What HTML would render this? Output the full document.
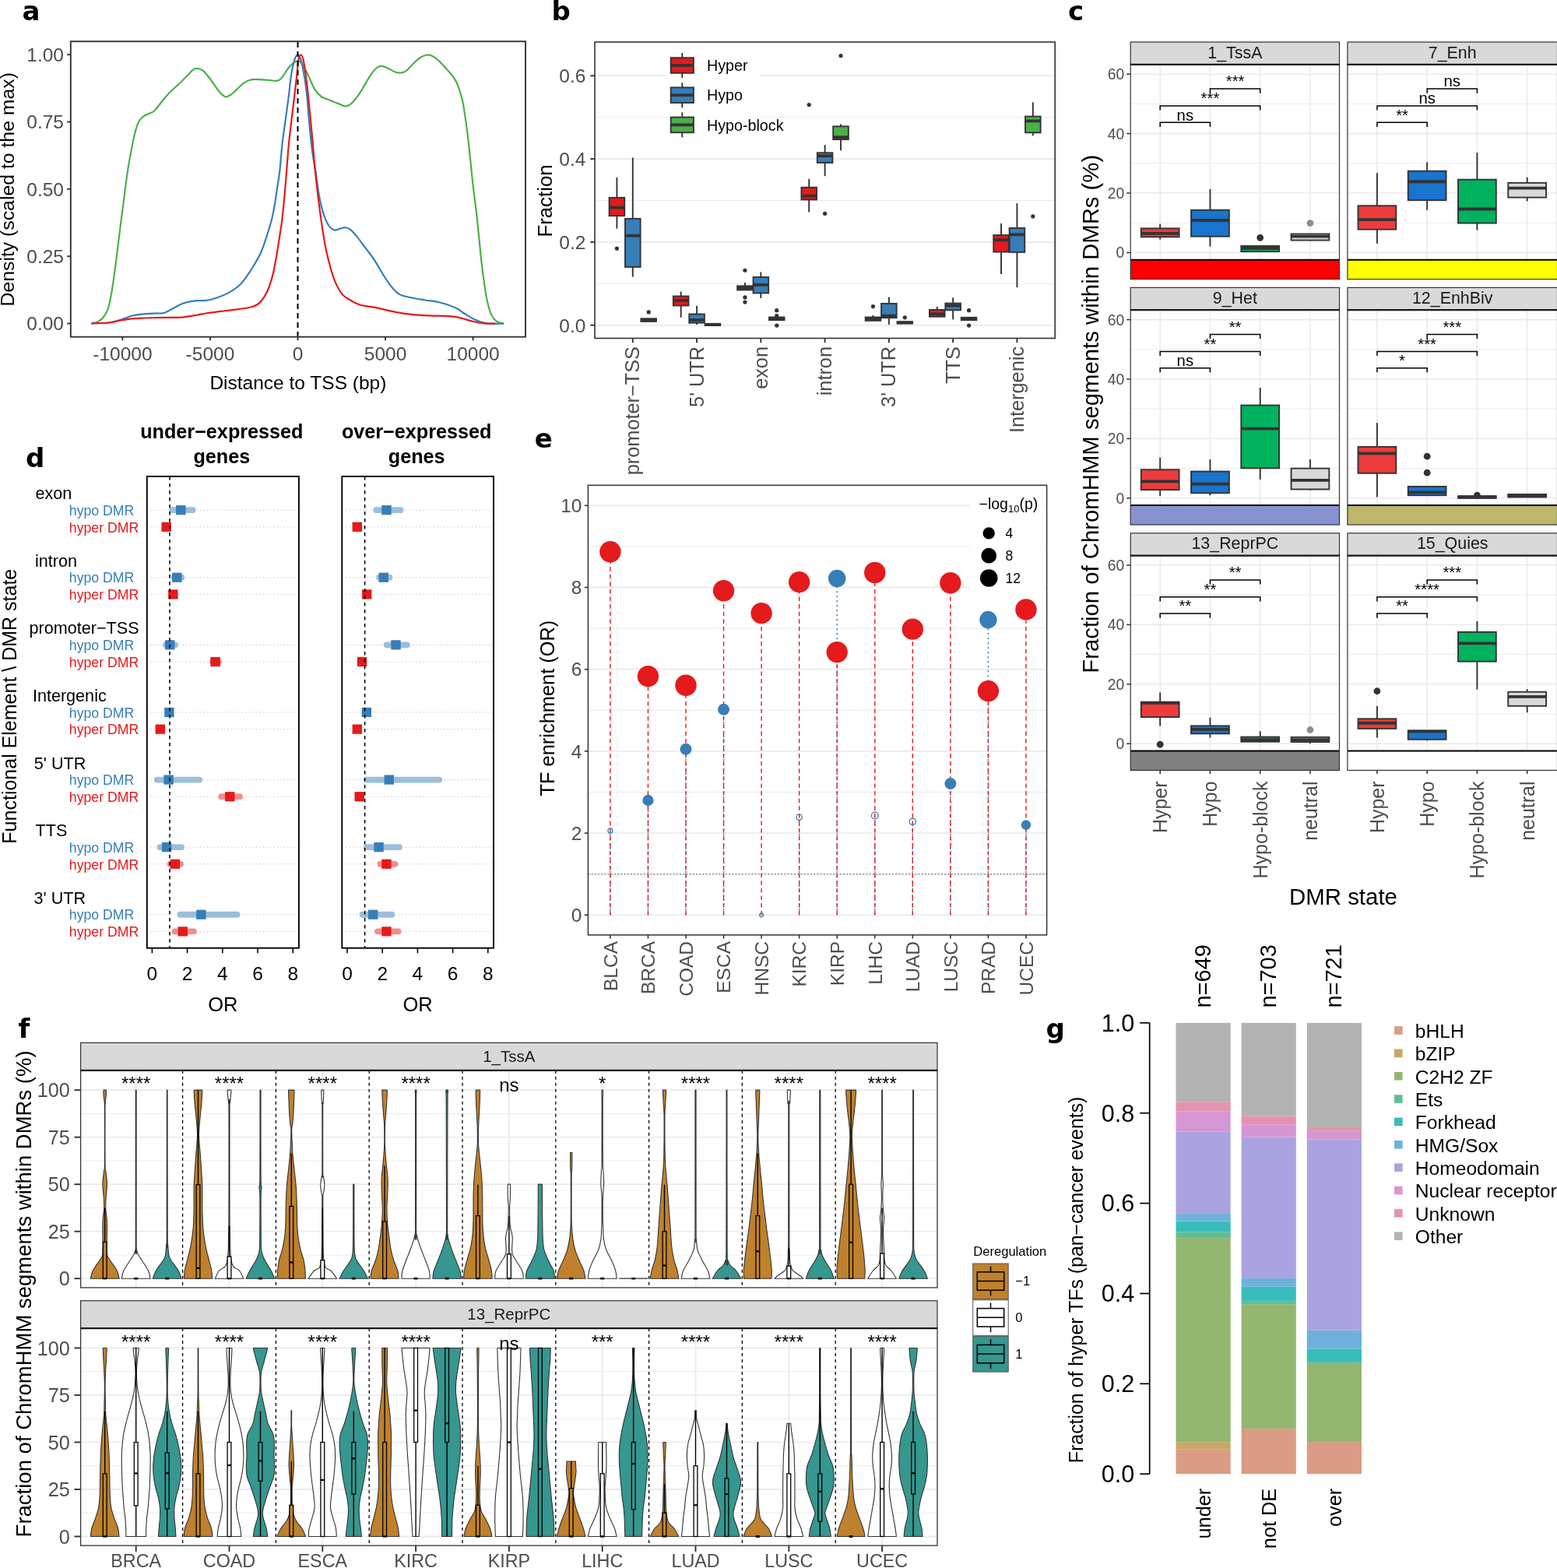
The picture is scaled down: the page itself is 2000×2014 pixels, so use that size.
<!DOCTYPE html>
<html><head><meta charset="utf-8"><title>Figure</title>
<style>html,body{margin:0;padding:0;background:#fff;width:2000px;height:2014px;overflow:hidden}svg{display:block}text{font-family:'Liberation Sans', Arial, Helvetica, sans-serif}</style>
</head><body>
<svg xmlns="http://www.w3.org/2000/svg" width="2000" height="2014" viewBox="0 0 2000 2014">
<rect width="2000" height="2014" fill="#fff"/>
<g fill="none" stroke-width="2.2" stroke-linejoin="round">
<path d="M117.5,415.3 C118.75,415.05 122.5,415.05 125,413.8 C127.5,412.55 130.25,410.55 132.5,407.8 C134.75,405.05 136.75,402.32 138.5,397.3 C140.25,392.28 141.5,385.97 143,377.7 C144.5,369.43 146.12,357.7 147.5,347.7 C148.88,337.7 150.05,327.7 151.3,317.7 C152.55,307.7 153.88,296.47 155,287.7 C156.12,278.93 156.87,273.87 158,265.1 C159.13,256.33 160.53,244.35 161.8,235.1 C163.07,225.85 164.22,217.85 165.6,209.6 C166.98,201.35 168.6,192.87 170.1,185.6 C171.6,178.33 173.1,171.13 174.6,166 C176.1,160.87 177.35,157.67 179.1,154.8 C180.85,151.93 182.98,150.3 185.1,148.8 C187.22,147.3 189.55,146.93 191.8,145.8 C194.05,144.67 195.48,145.1 198.6,142 C201.72,138.9 207.12,131.23 210.5,127.2 C213.88,123.17 215.77,120.93 218.9,117.8 C222.03,114.67 225.83,111.7 229.3,108.4 C232.77,105.1 236.58,101.13 239.7,98 C242.82,94.87 245.73,91.27 248,89.6 C250.27,87.93 251.2,87.82 253.3,88 C255.4,88.18 258,88.7 260.6,90.7 C263.2,92.7 265.78,96.02 268.9,100 C272.02,103.98 276.52,110.95 279.3,114.6 C282.08,118.25 283.68,120.27 285.6,121.9 C287.52,123.53 289.07,124.4 290.8,124.4 C292.53,124.4 294.47,122.83 296,121.9 C297.53,120.97 297.08,121.4 300,118.8 C302.92,116.2 309.5,109.08 313.5,106.3 C317.5,103.52 319.3,102.72 324,102.1 C328.7,101.48 336.32,102.33 341.7,102.6 C347.08,102.87 352.83,104.3 356.3,103.7 C359.77,103.1 359.72,102.22 362.5,99 C365.28,95.78 369.52,87.88 373,84.4 C376.48,80.92 380.45,77.75 383.4,78.1 C386.35,78.45 388.45,83.02 390.7,86.5 C392.95,89.98 394.65,94.32 396.9,99 C399.15,103.68 401.58,110.43 404.2,114.6 C406.82,118.77 409.12,121.57 412.6,124 C416.08,126.43 421.28,127.63 425.1,129.2 C428.92,130.77 432.3,132.18 435.5,133.4 C438.7,134.62 441.52,136.68 444.3,136.5 C447.08,136.32 449.15,135.25 452.2,132.3 C455.25,129.35 458.78,124.53 462.6,118.8 C466.42,113.07 471.63,103.12 475.1,97.9 C478.57,92.68 480.8,89.67 483.4,87.5 C486,85.33 487.93,84.72 490.7,84.9 C493.47,85.08 497.27,87.37 500,88.6 C502.73,89.83 504.75,91.45 507.1,92.3 C509.45,93.15 511.75,93.85 514.1,93.7 C516.45,93.55 518.53,93.27 521.2,91.4 C523.87,89.53 527.13,85.32 530.1,82.5 C533.07,79.68 535.9,76.5 539,74.5 C542.1,72.5 545.75,70.78 548.7,70.5 C551.65,70.22 553.9,71.23 556.7,72.8 C559.5,74.37 562.55,77.1 565.5,79.9 C568.45,82.7 571.45,86.22 574.4,89.6 C577.35,92.98 580.83,96.65 583.2,100.2 C585.57,103.75 586.82,106.17 588.6,110.9 C590.38,115.63 592.28,121.22 593.9,128.6 C595.52,135.98 596.83,144.87 598.3,155.2 C599.77,165.53 601.22,177.32 602.7,190.6 C604.18,203.88 605.72,221.67 607.2,234.9 C608.68,248.13 610.28,258.62 611.6,270 C612.92,281.38 613.92,291.77 615.1,303.2 C616.28,314.63 617.52,328.27 618.7,338.6 C619.88,348.93 621.02,357.23 622.2,365.2 C623.38,373.17 624.32,379.92 625.8,386.4 C627.28,392.88 629.03,399.67 631.1,404.1 C633.17,408.53 635.48,411.07 638.2,413 C640.92,414.93 645.87,415.25 647.4,415.7" stroke="#4DAF4A"/>
<path d="M117.5,415.3 C121.25,415.17 133.75,415.25 140,414.5 C146.25,413.75 149.98,412.3 155,410.8 C160.02,409.3 165.08,406.75 170.1,405.5 C175.12,404.25 180.1,403.8 185.1,403.3 C190.1,402.8 195.87,402.72 200.1,402.5 C204.33,402.28 207.02,402.95 210.5,402 C213.98,401.05 216.83,398.88 221,396.8 C225.17,394.72 230.65,391.25 235.5,389.5 C240.35,387.75 245.23,386.9 250.1,386.3 C254.97,385.7 259.83,386.58 264.7,385.9 C269.57,385.22 274.43,383.87 279.3,382.2 C284.17,380.53 289.03,378.68 293.9,375.9 C298.77,373.12 304.15,369.75 308.5,365.5 C312.85,361.25 316.88,354.82 320,350.4 C323.12,345.98 324.62,343.48 327.2,339 C329.78,334.52 332.9,329.53 335.5,323.5 C338.1,317.47 340.55,309.7 342.8,302.8 C345.05,295.9 347.28,289 349,282.1 C350.72,275.2 351.9,268.3 353.1,261.4 C354.3,254.5 355.17,247.6 356.2,240.7 C357.23,233.8 358.25,229.2 359.3,220 C360.35,210.8 361.27,196.47 362.5,185.5 C363.73,174.53 365.3,164.62 366.7,154.2 C368.1,143.78 369.68,132.55 370.9,123 C372.12,113.45 372.78,104.55 374,96.9 C375.22,89.25 376.82,81.53 378.2,77.1 C379.58,72.67 380.92,70.3 382.3,70.3 C383.68,70.3 385.1,72.67 386.5,77.1 C387.9,81.53 389.4,89.25 390.7,96.9 C392,104.55 393.27,113.45 394.3,123 C395.33,132.55 395.95,143.78 396.9,154.2 C397.85,164.62 399.05,177.2 400,185.5 C400.95,193.8 401.7,198.25 402.6,204 C403.5,209.75 404.33,213.02 405.4,220 C406.47,226.98 407.7,238.13 409,245.9 C410.3,253.67 411.65,260.57 413.2,266.6 C414.75,272.63 416.58,277.97 418.3,282.1 C420.02,286.23 421.6,289.15 423.5,291.4 C425.4,293.65 427.58,295.18 429.7,295.6 C431.82,296.02 434.48,294.37 436.2,293.9 C437.92,293.43 438.82,293.08 440,292.8 C441.18,292.52 441.57,291.8 443.3,292.2 C445.03,292.6 447.75,293.08 450.4,295.2 C453.05,297.32 455.95,300.92 459.2,304.9 C462.45,308.88 466.35,314.37 469.9,319.1 C473.45,323.83 476.97,327.98 480.5,333.3 C484.03,338.62 487.57,345.4 491.1,351 C494.63,356.6 498.15,362.47 501.7,366.9 C505.25,371.33 508.27,375.08 512.4,377.6 C516.53,380.12 520.9,380.68 526.5,382 C532.1,383.32 539.78,384.47 546,385.5 C552.22,386.53 557.3,386.57 563.8,388.2 C570.3,389.83 579.4,392.78 585,395.3 C590.6,397.82 593.57,400.93 597.4,403.3 C601.23,405.67 604.45,407.73 608,409.5 C611.55,411.27 615.15,412.87 618.7,413.9 C622.25,414.93 624.58,415.4 629.3,415.7 C634.02,416 644.05,415.7 647,415.7" stroke="#377EB8"/>
<path d="M117.5,415.3 C121.25,415.17 133.75,415.13 140,414.5 C146.25,413.87 149.98,412.37 155,411.5 C160.02,410.63 165.08,409.8 170.1,409.3 C175.12,408.8 178.72,408.73 185.1,408.5 C191.48,408.27 200.33,408.05 208.4,407.9 C216.47,407.75 226.55,408.07 233.5,407.6 C240.45,407.13 244.55,406.03 250.1,405.1 C255.65,404.17 261.23,402.87 266.8,402 C272.37,401.13 277.93,400.6 283.5,399.9 C289.07,399.2 294.12,398.62 300.2,397.8 C306.28,396.98 314.63,396.33 320,395 C325.37,393.67 328.6,393.08 332.4,389.8 C336.2,386.52 339.87,381.17 342.8,375.3 C345.73,369.43 347.93,362.37 350,354.6 C352.07,346.83 353.65,337.33 355.2,328.7 C356.75,320.07 358.1,310.57 359.3,302.8 C360.5,295.03 361.37,290.72 362.4,282.1 C363.43,273.48 364.55,261.45 365.5,251.1 C366.45,240.75 367.2,230.93 368.1,220 C369,209.07 369.83,196.47 370.9,185.5 C371.97,174.53 373.28,164.62 374.5,154.2 C375.72,143.78 377.07,132.55 378.2,123 C379.33,113.45 380.43,104.55 381.3,96.9 C382.17,89.25 382.53,81.53 383.4,77.1 C384.27,72.67 385.47,70.3 386.5,70.3 C387.53,70.3 388.55,72.67 389.6,77.1 C390.65,81.53 391.75,89.25 392.8,96.9 C393.85,104.55 394.87,113.45 395.9,123 C396.93,132.55 397.97,143.37 399,154.2 C400.03,165.03 401.12,177.03 402.1,188 C403.08,198.97 403.75,208.63 404.9,220 C406.05,231.37 407.62,244.98 409,256.2 C410.38,267.42 411.65,276.95 413.2,287.3 C414.75,297.65 416.4,308.82 418.3,318.3 C420.2,327.78 422.35,336.43 424.6,344.2 C426.85,351.97 429.23,359.2 431.8,364.9 C434.37,370.6 437.2,375.1 440,378.4 C442.8,381.7 444.8,382.48 448.6,384.7 C452.4,386.92 456.9,389.93 462.8,391.7 C468.7,393.47 476.62,393.82 484,395.3 C491.38,396.78 499.72,399.18 507.1,400.6 C514.48,402.02 520.92,403 528.3,403.8 C535.68,404.6 544.02,405.05 551.4,405.4 C558.78,405.75 566.4,405.52 572.6,405.9 C578.8,406.28 582.7,406.52 588.6,407.7 C594.5,408.88 602.4,411.73 608,413 C613.6,414.27 617.47,414.85 622.2,415.3 C626.93,415.75 634.03,415.63 636.4,415.7" stroke="#E41A1C"/>
</g>
<line x1="382.5" y1="54" x2="382.5" y2="432" stroke="#000" stroke-width="2" stroke-dasharray="7,5"/>
<rect x="90.8" y="53.2" width="584.2" height="379.5" fill="none" stroke="#333" stroke-width="1.9"/>
<line x1="86.2" y1="415.5" x2="90.8" y2="415.5" stroke="#333" stroke-width="1.9"/>
<text x="82" y="424.3" font-size="24.5" fill="#4D4D4D" text-anchor="end">0.00</text>
<line x1="86.2" y1="329.18" x2="90.8" y2="329.18" stroke="#333" stroke-width="1.9"/>
<text x="82" y="337.98" font-size="24.5" fill="#4D4D4D" text-anchor="end">0.25</text>
<line x1="86.2" y1="242.85" x2="90.8" y2="242.85" stroke="#333" stroke-width="1.9"/>
<text x="82" y="251.65" font-size="24.5" fill="#4D4D4D" text-anchor="end">0.50</text>
<line x1="86.2" y1="156.52" x2="90.8" y2="156.52" stroke="#333" stroke-width="1.9"/>
<text x="82" y="165.32" font-size="24.5" fill="#4D4D4D" text-anchor="end">0.75</text>
<line x1="86.2" y1="70.2" x2="90.8" y2="70.2" stroke="#333" stroke-width="1.9"/>
<text x="82" y="79" font-size="24.5" fill="#4D4D4D" text-anchor="end">1.00</text>
<line x1="157.4" y1="432.7" x2="157.4" y2="437.3" stroke="#333" stroke-width="1.9"/>
<text x="157.4" y="462.5" font-size="24.5" fill="#4D4D4D" text-anchor="middle">-10000</text>
<line x1="269.95" y1="432.7" x2="269.95" y2="437.3" stroke="#333" stroke-width="1.9"/>
<text x="269.95" y="462.5" font-size="24.5" fill="#4D4D4D" text-anchor="middle">-5000</text>
<line x1="382.5" y1="432.7" x2="382.5" y2="437.3" stroke="#333" stroke-width="1.9"/>
<text x="382.5" y="462.5" font-size="24.5" fill="#4D4D4D" text-anchor="middle">0</text>
<line x1="495.05" y1="432.7" x2="495.05" y2="437.3" stroke="#333" stroke-width="1.9"/>
<text x="495.05" y="462.5" font-size="24.5" fill="#4D4D4D" text-anchor="middle">5000</text>
<line x1="607.6" y1="432.7" x2="607.6" y2="437.3" stroke="#333" stroke-width="1.9"/>
<text x="607.6" y="462.5" font-size="24.5" fill="#4D4D4D" text-anchor="middle">10000</text>
<text x="382.9" y="500" font-size="24.5" fill="#000" text-anchor="middle">Distance to TSS (bp)</text>
<text x="17.9" y="243.3" font-size="24.8" fill="#000" text-anchor="middle" transform="rotate(-90 17.9 243.3)">Density (scaled to the max)</text>
<text x="28.5" y="25.5" font-size="34" font-weight="bold" fill="#000" style="font-family:'DejaVu Sans',sans-serif">a</text>
<line x1="764" y1="364.3" x2="1355.2" y2="364.3" stroke="#EBEBEB" stroke-width="1"/>
<line x1="764" y1="257.5" x2="1355.2" y2="257.5" stroke="#EBEBEB" stroke-width="1"/>
<line x1="764" y1="150.7" x2="1355.2" y2="150.7" stroke="#EBEBEB" stroke-width="1"/>
<line x1="764" y1="417.7" x2="1355.2" y2="417.7" stroke="#EBEBEB" stroke-width="2"/>
<line x1="764" y1="310.9" x2="1355.2" y2="310.9" stroke="#EBEBEB" stroke-width="2"/>
<line x1="764" y1="204.1" x2="1355.2" y2="204.1" stroke="#EBEBEB" stroke-width="2"/>
<line x1="764" y1="97.3" x2="1355.2" y2="97.3" stroke="#EBEBEB" stroke-width="2"/>
<line x1="792.4" y1="227.99" x2="792.4" y2="253.88" stroke="#333333" stroke-width="1.9"/>
<line x1="792.4" y1="277.23" x2="792.4" y2="293.65" stroke="#333333" stroke-width="1.9"/>
<rect x="782.6" y="253.88" width="19.6" height="23.35" fill="#E41A1C" stroke="#333333" stroke-width="1.9"/>
<line x1="782.6" y1="266.65" x2="802.2" y2="266.65" stroke="#333333" stroke-width="3.8"/>
<circle cx="792.4" cy="319.18" r="2.6" fill="#333333" stroke="none" stroke-width="1"/>
<line x1="812.8" y1="202.45" x2="812.8" y2="280.88" stroke="#333333" stroke-width="1.9"/>
<line x1="812.8" y1="342.89" x2="812.8" y2="355.66" stroke="#333333" stroke-width="1.9"/>
<rect x="803" y="280.88" width="19.6" height="62.01" fill="#377EB8" stroke="#333333" stroke-width="1.9"/>
<line x1="803" y1="302.77" x2="822.6" y2="302.77" stroke="#333333" stroke-width="3.8"/>
<line x1="833.2" y1="409.28" x2="833.2" y2="409.28" stroke="#333333" stroke-width="1.9"/>
<line x1="833.2" y1="412.93" x2="833.2" y2="412.93" stroke="#333333" stroke-width="1.9"/>
<rect x="823.4" y="409.28" width="19.6" height="3.65" fill="#4DAF4A" stroke="#333333" stroke-width="1.9"/>
<line x1="823.4" y1="411.1" x2="843" y2="411.1" stroke="#333333" stroke-width="3.8"/>
<circle cx="833.2" cy="400.89" r="2.6" fill="#333333" stroke="none" stroke-width="1"/>
<line x1="874.67" y1="374.63" x2="874.67" y2="380.46" stroke="#333333" stroke-width="1.9"/>
<line x1="874.67" y1="392.5" x2="874.67" y2="407.82" stroke="#333333" stroke-width="1.9"/>
<rect x="864.87" y="380.46" width="19.6" height="12.04" fill="#E41A1C" stroke="#333333" stroke-width="1.9"/>
<line x1="864.87" y1="385.93" x2="884.47" y2="385.93" stroke="#333333" stroke-width="3.8"/>
<line x1="895.07" y1="392.86" x2="895.07" y2="403.44" stroke="#333333" stroke-width="1.9"/>
<line x1="895.07" y1="414.68" x2="895.07" y2="416.94" stroke="#333333" stroke-width="1.9"/>
<rect x="885.27" y="403.44" width="19.6" height="11.24" fill="#377EB8" stroke="#333333" stroke-width="1.9"/>
<line x1="885.27" y1="410.99" x2="904.87" y2="410.99" stroke="#333333" stroke-width="3.8"/>
<line x1="915.47" y1="415.85" x2="915.47" y2="415.85" stroke="#333333" stroke-width="1.9"/>
<line x1="915.47" y1="418.03" x2="915.47" y2="418.03" stroke="#333333" stroke-width="1.9"/>
<rect x="905.67" y="415.85" width="19.6" height="2.19" fill="#4DAF4A" stroke="#333333" stroke-width="1.9"/>
<line x1="905.67" y1="416.94" x2="925.27" y2="416.94" stroke="#333333" stroke-width="3.8"/>
<line x1="956.94" y1="362.95" x2="956.94" y2="367.33" stroke="#333333" stroke-width="1.9"/>
<line x1="956.94" y1="372.44" x2="956.94" y2="372.44" stroke="#333333" stroke-width="1.9"/>
<rect x="947.14" y="367.33" width="19.6" height="5.11" fill="#E41A1C" stroke="#333333" stroke-width="1.9"/>
<line x1="947.14" y1="369.88" x2="966.74" y2="369.88" stroke="#333333" stroke-width="3.8"/>
<circle cx="956.94" cy="347.27" r="2.6" fill="#333333" stroke="none" stroke-width="1"/>
<circle cx="956.94" cy="381.92" r="2.6" fill="#333333" stroke="none" stroke-width="1"/>
<circle cx="956.94" cy="388.12" r="2.6" fill="#333333" stroke="none" stroke-width="1"/>
<line x1="977.34" y1="349.46" x2="977.34" y2="356.02" stroke="#333333" stroke-width="1.9"/>
<line x1="977.34" y1="376.45" x2="977.34" y2="383.02" stroke="#333333" stroke-width="1.9"/>
<rect x="967.54" y="356.02" width="19.6" height="20.43" fill="#377EB8" stroke="#333333" stroke-width="1.9"/>
<line x1="967.54" y1="365.87" x2="987.14" y2="365.87" stroke="#333333" stroke-width="3.8"/>
<line x1="997.74" y1="404.17" x2="997.74" y2="407.46" stroke="#333333" stroke-width="1.9"/>
<line x1="997.74" y1="411.1" x2="997.74" y2="411.1" stroke="#333333" stroke-width="1.9"/>
<rect x="987.94" y="407.46" width="19.6" height="3.65" fill="#4DAF4A" stroke="#333333" stroke-width="1.9"/>
<line x1="987.94" y1="409.28" x2="1007.54" y2="409.28" stroke="#333333" stroke-width="3.8"/>
<circle cx="997.74" cy="398.7" r="2.6" fill="#333333" stroke="none" stroke-width="1"/>
<circle cx="997.74" cy="405.63" r="2.6" fill="#333333" stroke="none" stroke-width="1"/>
<circle cx="997.74" cy="418.03" r="2.6" fill="#333333" stroke="none" stroke-width="1"/>
<line x1="1039.21" y1="229.81" x2="1039.21" y2="240.75" stroke="#333333" stroke-width="1.9"/>
<line x1="1039.21" y1="256.44" x2="1039.21" y2="272.49" stroke="#333333" stroke-width="1.9"/>
<rect x="1029.41" y="240.75" width="19.6" height="15.69" fill="#E41A1C" stroke="#333333" stroke-width="1.9"/>
<line x1="1029.41" y1="251.7" x2="1049.01" y2="251.7" stroke="#333333" stroke-width="3.8"/>
<circle cx="1039.21" cy="134.6" r="2.6" fill="#333333" stroke="none" stroke-width="1"/>
<line x1="1059.61" y1="186.04" x2="1059.61" y2="196.25" stroke="#333333" stroke-width="1.9"/>
<line x1="1059.61" y1="209.02" x2="1059.61" y2="226.16" stroke="#333333" stroke-width="1.9"/>
<rect x="1049.81" y="196.25" width="19.6" height="12.77" fill="#377EB8" stroke="#333333" stroke-width="1.9"/>
<line x1="1049.81" y1="200.26" x2="1069.41" y2="200.26" stroke="#333333" stroke-width="3.8"/>
<circle cx="1059.61" cy="274.31" r="2.6" fill="#333333" stroke="none" stroke-width="1"/>
<line x1="1080.01" y1="159.41" x2="1080.01" y2="162.33" stroke="#333333" stroke-width="1.9"/>
<line x1="1080.01" y1="179.11" x2="1080.01" y2="193.33" stroke="#333333" stroke-width="1.9"/>
<rect x="1070.21" y="162.33" width="19.6" height="16.78" fill="#4DAF4A" stroke="#333333" stroke-width="1.9"/>
<line x1="1070.21" y1="176.19" x2="1089.81" y2="176.19" stroke="#333333" stroke-width="3.8"/>
<circle cx="1080.01" cy="71.5" r="2.6" fill="#333333" stroke="none" stroke-width="1"/>
<line x1="1121.48" y1="404.9" x2="1121.48" y2="407.46" stroke="#333333" stroke-width="1.9"/>
<line x1="1121.48" y1="411.83" x2="1121.48" y2="411.83" stroke="#333333" stroke-width="1.9"/>
<rect x="1111.68" y="407.46" width="19.6" height="4.38" fill="#E41A1C" stroke="#333333" stroke-width="1.9"/>
<line x1="1111.68" y1="409.28" x2="1131.28" y2="409.28" stroke="#333333" stroke-width="3.8"/>
<circle cx="1121.48" cy="393.59" r="2.6" fill="#333333" stroke="none" stroke-width="1"/>
<line x1="1141.88" y1="381.56" x2="1141.88" y2="389.95" stroke="#333333" stroke-width="1.9"/>
<line x1="1141.88" y1="408.19" x2="1141.88" y2="416.94" stroke="#333333" stroke-width="1.9"/>
<rect x="1132.08" y="389.95" width="19.6" height="18.24" fill="#377EB8" stroke="#333333" stroke-width="1.9"/>
<line x1="1132.08" y1="405.63" x2="1151.68" y2="405.63" stroke="#333333" stroke-width="3.8"/>
<line x1="1162.28" y1="412.93" x2="1162.28" y2="413.29" stroke="#333333" stroke-width="1.9"/>
<line x1="1162.28" y1="415.48" x2="1162.28" y2="415.48" stroke="#333333" stroke-width="1.9"/>
<rect x="1152.48" y="413.29" width="19.6" height="2.19" fill="#4DAF4A" stroke="#333333" stroke-width="1.9"/>
<line x1="1152.48" y1="414.39" x2="1172.08" y2="414.39" stroke="#333333" stroke-width="3.8"/>
<circle cx="1162.28" cy="407.82" r="2.6" fill="#333333" stroke="none" stroke-width="1"/>
<line x1="1203.75" y1="393.96" x2="1203.75" y2="397.97" stroke="#333333" stroke-width="1.9"/>
<line x1="1203.75" y1="406.73" x2="1203.75" y2="406.73" stroke="#333333" stroke-width="1.9"/>
<rect x="1193.95" y="397.97" width="19.6" height="8.75" fill="#E41A1C" stroke="#333333" stroke-width="1.9"/>
<line x1="1193.95" y1="403.44" x2="1213.55" y2="403.44" stroke="#333333" stroke-width="3.8"/>
<line x1="1224.15" y1="382.29" x2="1224.15" y2="389.58" stroke="#333333" stroke-width="1.9"/>
<line x1="1224.15" y1="398.34" x2="1224.15" y2="410.37" stroke="#333333" stroke-width="1.9"/>
<rect x="1214.35" y="389.58" width="19.6" height="8.75" fill="#377EB8" stroke="#333333" stroke-width="1.9"/>
<line x1="1214.35" y1="392.5" x2="1233.95" y2="392.5" stroke="#333333" stroke-width="3.8"/>
<line x1="1244.55" y1="407.82" x2="1244.55" y2="407.82" stroke="#333333" stroke-width="1.9"/>
<line x1="1244.55" y1="411.1" x2="1244.55" y2="411.1" stroke="#333333" stroke-width="1.9"/>
<rect x="1234.75" y="407.82" width="19.6" height="3.28" fill="#4DAF4A" stroke="#333333" stroke-width="1.9"/>
<line x1="1234.75" y1="409.28" x2="1254.35" y2="409.28" stroke="#333333" stroke-width="3.8"/>
<circle cx="1244.55" cy="398.7" r="2.6" fill="#333333" stroke="none" stroke-width="1"/>
<circle cx="1244.55" cy="418.03" r="2.6" fill="#333333" stroke="none" stroke-width="1"/>
<line x1="1286.02" y1="287.08" x2="1286.02" y2="302.04" stroke="#333333" stroke-width="1.9"/>
<line x1="1286.02" y1="323.56" x2="1286.02" y2="352.01" stroke="#333333" stroke-width="1.9"/>
<rect x="1276.22" y="302.04" width="19.6" height="21.52" fill="#E41A1C" stroke="#333333" stroke-width="1.9"/>
<line x1="1276.22" y1="308.24" x2="1295.82" y2="308.24" stroke="#333333" stroke-width="3.8"/>
<line x1="1306.42" y1="261.18" x2="1306.42" y2="292.92" stroke="#333333" stroke-width="1.9"/>
<line x1="1306.42" y1="323.92" x2="1306.42" y2="369.15" stroke="#333333" stroke-width="1.9"/>
<rect x="1296.62" y="292.92" width="19.6" height="31.01" fill="#377EB8" stroke="#333333" stroke-width="1.9"/>
<line x1="1296.62" y1="301.31" x2="1316.22" y2="301.31" stroke="#333333" stroke-width="3.8"/>
<line x1="1326.82" y1="131.32" x2="1326.82" y2="149.56" stroke="#333333" stroke-width="1.9"/>
<line x1="1326.82" y1="170.35" x2="1326.82" y2="174.36" stroke="#333333" stroke-width="1.9"/>
<rect x="1317.02" y="149.56" width="19.6" height="20.79" fill="#4DAF4A" stroke="#333333" stroke-width="1.9"/>
<line x1="1317.02" y1="155.4" x2="1336.62" y2="155.4" stroke="#333333" stroke-width="3.8"/>
<circle cx="1326.82" cy="277.96" r="2.6" fill="#333333" stroke="none" stroke-width="1"/>
<rect x="856" y="68" width="120" height="106" fill="#FFFFFF" stroke="none" stroke-width="0"/>
<line x1="876.3" y1="68" x2="876.3" y2="100" stroke="#333333" stroke-width="1.9"/>
<rect x="861.7" y="74.2" width="29.2" height="19.6" fill="#E41A1C" stroke="#333333" stroke-width="1.9"/>
<line x1="861.7" y1="84" x2="890.9" y2="84" stroke="#333333" stroke-width="3.8"/>
<text x="908" y="91.2" font-size="19.7" fill="#000">Hyper</text>
<line x1="876.3" y1="106.2" x2="876.3" y2="138.2" stroke="#333333" stroke-width="1.9"/>
<rect x="861.7" y="112.4" width="29.2" height="19.6" fill="#377EB8" stroke="#333333" stroke-width="1.9"/>
<line x1="861.7" y1="122.2" x2="890.9" y2="122.2" stroke="#333333" stroke-width="3.8"/>
<text x="908" y="129.4" font-size="19.7" fill="#000">Hypo</text>
<line x1="876.3" y1="144.4" x2="876.3" y2="176.4" stroke="#333333" stroke-width="1.9"/>
<rect x="861.7" y="150.6" width="29.2" height="19.6" fill="#4DAF4A" stroke="#333333" stroke-width="1.9"/>
<line x1="861.7" y1="160.4" x2="890.9" y2="160.4" stroke="#333333" stroke-width="3.8"/>
<text x="908" y="167.6" font-size="19.7" fill="#000">Hypo-block</text>
<rect x="764" y="54" width="591.2" height="380.5" fill="none" stroke="#333333" stroke-width="1.6"/>
<line x1="758.3" y1="417.7" x2="764" y2="417.7" stroke="#333333" stroke-width="1.9"/>
<text x="752.4" y="426.5" font-size="24.5" fill="#4D4D4D" text-anchor="end">0.0</text>
<line x1="758.3" y1="310.9" x2="764" y2="310.9" stroke="#333333" stroke-width="1.9"/>
<text x="752.4" y="319.7" font-size="24.5" fill="#4D4D4D" text-anchor="end">0.2</text>
<line x1="758.3" y1="204.1" x2="764" y2="204.1" stroke="#333333" stroke-width="1.9"/>
<text x="752.4" y="212.9" font-size="24.5" fill="#4D4D4D" text-anchor="end">0.4</text>
<line x1="758.3" y1="97.3" x2="764" y2="97.3" stroke="#333333" stroke-width="1.9"/>
<text x="752.4" y="106.1" font-size="24.5" fill="#4D4D4D" text-anchor="end">0.6</text>
<line x1="812.8" y1="434.5" x2="812.8" y2="440.2" stroke="#333333" stroke-width="1.9"/>
<text x="821.4" y="445" font-size="25.3" fill="#4D4D4D" text-anchor="end" transform="rotate(-90 821.4 445)">promoter−TSS</text>
<line x1="895.07" y1="434.5" x2="895.07" y2="440.2" stroke="#333333" stroke-width="1.9"/>
<text x="903.67" y="445" font-size="25.3" fill="#4D4D4D" text-anchor="end" transform="rotate(-90 903.67 445)">5' UTR</text>
<line x1="977.34" y1="434.5" x2="977.34" y2="440.2" stroke="#333333" stroke-width="1.9"/>
<text x="985.94" y="445" font-size="25.3" fill="#4D4D4D" text-anchor="end" transform="rotate(-90 985.94 445)">exon</text>
<line x1="1059.61" y1="434.5" x2="1059.61" y2="440.2" stroke="#333333" stroke-width="1.9"/>
<text x="1068.21" y="445" font-size="25.3" fill="#4D4D4D" text-anchor="end" transform="rotate(-90 1068.21 445)">intron</text>
<line x1="1141.88" y1="434.5" x2="1141.88" y2="440.2" stroke="#333333" stroke-width="1.9"/>
<text x="1150.48" y="445" font-size="25.3" fill="#4D4D4D" text-anchor="end" transform="rotate(-90 1150.48 445)">3' UTR</text>
<line x1="1224.15" y1="434.5" x2="1224.15" y2="440.2" stroke="#333333" stroke-width="1.9"/>
<text x="1232.75" y="445" font-size="25.3" fill="#4D4D4D" text-anchor="end" transform="rotate(-90 1232.75 445)">TTS</text>
<line x1="1306.42" y1="434.5" x2="1306.42" y2="440.2" stroke="#333333" stroke-width="1.9"/>
<text x="1315.02" y="445" font-size="25.3" fill="#4D4D4D" text-anchor="end" transform="rotate(-90 1315.02 445)">Intergenic</text>
<text x="709.2" y="258" font-size="25.8" fill="#000" text-anchor="middle" transform="rotate(-90 709.2 258)">Fraction</text>
<text x="708.4" y="25.5" font-size="34" font-weight="bold" fill="#000" style="font-family:'DejaVu Sans',sans-serif">b</text>
<rect x="1452.2" y="54" width="268.3" height="28.8" fill="#D9D9D9" stroke="#333333" stroke-width="1.2"/>
<text x="1586.35" y="74.6" font-size="21.4" fill="#1A1A1A" text-anchor="middle">1_TssA</text>
<line x1="1452.2" y1="286.2" x2="1720.5" y2="286.2" stroke="#EBEBEB" stroke-width="1"/>
<line x1="1452.2" y1="209.8" x2="1720.5" y2="209.8" stroke="#EBEBEB" stroke-width="1"/>
<line x1="1452.2" y1="133.4" x2="1720.5" y2="133.4" stroke="#EBEBEB" stroke-width="1"/>
<line x1="1452.2" y1="324.4" x2="1720.5" y2="324.4" stroke="#EBEBEB" stroke-width="1.6"/>
<line x1="1452.2" y1="248" x2="1720.5" y2="248" stroke="#EBEBEB" stroke-width="1.6"/>
<line x1="1452.2" y1="171.6" x2="1720.5" y2="171.6" stroke="#EBEBEB" stroke-width="1.6"/>
<line x1="1452.2" y1="95.2" x2="1720.5" y2="95.2" stroke="#EBEBEB" stroke-width="1.6"/>
<line x1="1490.2" y1="82.8" x2="1490.2" y2="358.6" stroke="#EBEBEB" stroke-width="1.6"/>
<line x1="1554.45" y1="82.8" x2="1554.45" y2="358.6" stroke="#EBEBEB" stroke-width="1.6"/>
<line x1="1618.7" y1="82.8" x2="1618.7" y2="358.6" stroke="#EBEBEB" stroke-width="1.6"/>
<line x1="1682.95" y1="82.8" x2="1682.95" y2="358.6" stroke="#EBEBEB" stroke-width="1.6"/>
<rect x="1452.2" y="333.68" width="268.3" height="24.92" fill="#FF0000" stroke="none" stroke-width="0"/>
<line x1="1452.2" y1="333.68" x2="1720.5" y2="333.68" stroke="#000" stroke-width="2"/>
<line x1="1490.2" y1="287.54" x2="1490.2" y2="293.36" stroke="#333333" stroke-width="1.9"/>
<line x1="1490.2" y1="304.34" x2="1490.2" y2="307.57" stroke="#333333" stroke-width="1.9"/>
<rect x="1465.8" y="293.36" width="48.8" height="10.98" fill="#EE3B3B" stroke="#333333" stroke-width="1.9"/>
<line x1="1465.8" y1="299.82" x2="1514.6" y2="299.82" stroke="#333333" stroke-width="3.8"/>
<line x1="1554.45" y1="242.96" x2="1554.45" y2="269.77" stroke="#333333" stroke-width="1.9"/>
<line x1="1554.45" y1="303.7" x2="1554.45" y2="316.62" stroke="#333333" stroke-width="1.9"/>
<rect x="1530.05" y="269.77" width="48.8" height="33.92" fill="#1874CD" stroke="#333333" stroke-width="1.9"/>
<line x1="1530.05" y1="283.02" x2="1578.85" y2="283.02" stroke="#333333" stroke-width="3.8"/>
<line x1="1618.7" y1="315.97" x2="1618.7" y2="315.97" stroke="#333333" stroke-width="1.9"/>
<line x1="1618.7" y1="323.08" x2="1618.7" y2="323.08" stroke="#333333" stroke-width="1.9"/>
<rect x="1594.3" y="315.97" width="48.8" height="7.11" fill="#00B25D" stroke="#333333" stroke-width="1.9"/>
<line x1="1594.3" y1="318.88" x2="1643.1" y2="318.88" stroke="#333333" stroke-width="3.8"/>
<circle cx="1618.7" cy="305.31" r="4.4" fill="#333333" stroke="none" stroke-width="1"/>
<line x1="1682.95" y1="300.47" x2="1682.95" y2="300.47" stroke="#333333" stroke-width="1.9"/>
<line x1="1682.95" y1="308.54" x2="1682.95" y2="309.51" stroke="#333333" stroke-width="1.9"/>
<rect x="1658.55" y="300.47" width="48.8" height="8.08" fill="#D9D9D9" stroke="#333333" stroke-width="1.9"/>
<line x1="1658.55" y1="303.7" x2="1707.35" y2="303.7" stroke="#333333" stroke-width="3.8"/>
<circle cx="1682.95" cy="286.57" r="4.4" fill="#8C8C8C" stroke="none" stroke-width="1"/>
<path d="M1490.2,162.9 V157.3 H1554.45 V162.9" fill="none" stroke="#000" stroke-width="1.5"/>
<text x="1522.33" y="154.6" font-size="20.3" fill="#000" text-anchor="middle">ns</text>
<path d="M1490.2,141.6 V136 H1618.7 V141.6" fill="none" stroke="#000" stroke-width="1.5"/>
<text x="1554.45" y="133.3" font-size="20.3" fill="#000" text-anchor="middle">***</text>
<path d="M1554.45,119.7 V114.1 H1618.7 V119.7" fill="none" stroke="#000" stroke-width="1.5"/>
<text x="1586.58" y="111.4" font-size="20.3" fill="#000" text-anchor="middle">***</text>
<rect x="1452.2" y="82.8" width="268.3" height="275.8" fill="none" stroke="#333333" stroke-width="1.2"/>
<line x1="1452.2" y1="82.8" x2="1720.5" y2="82.8" stroke="#1A1A1A" stroke-width="2.2"/>
<line x1="1447.2" y1="324.4" x2="1452.2" y2="324.4" stroke="#333333" stroke-width="1.5"/>
<text x="1444.2" y="331.4" font-size="19.3" fill="#4D4D4D" text-anchor="end">0</text>
<line x1="1447.2" y1="248" x2="1452.2" y2="248" stroke="#333333" stroke-width="1.5"/>
<text x="1444.2" y="255" font-size="19.3" fill="#4D4D4D" text-anchor="end">20</text>
<line x1="1447.2" y1="171.6" x2="1452.2" y2="171.6" stroke="#333333" stroke-width="1.5"/>
<text x="1444.2" y="178.6" font-size="19.3" fill="#4D4D4D" text-anchor="end">40</text>
<line x1="1447.2" y1="95.2" x2="1452.2" y2="95.2" stroke="#333333" stroke-width="1.5"/>
<text x="1444.2" y="102.2" font-size="19.3" fill="#4D4D4D" text-anchor="end">60</text>
<rect x="1730.9" y="54" width="269.6" height="28.8" fill="#D9D9D9" stroke="#333333" stroke-width="1.2"/>
<text x="1865.7" y="74.6" font-size="21.4" fill="#1A1A1A" text-anchor="middle">7_Enh</text>
<line x1="1730.9" y1="286.2" x2="2000.5" y2="286.2" stroke="#EBEBEB" stroke-width="1"/>
<line x1="1730.9" y1="209.8" x2="2000.5" y2="209.8" stroke="#EBEBEB" stroke-width="1"/>
<line x1="1730.9" y1="133.4" x2="2000.5" y2="133.4" stroke="#EBEBEB" stroke-width="1"/>
<line x1="1730.9" y1="324.4" x2="2000.5" y2="324.4" stroke="#EBEBEB" stroke-width="1.6"/>
<line x1="1730.9" y1="248" x2="2000.5" y2="248" stroke="#EBEBEB" stroke-width="1.6"/>
<line x1="1730.9" y1="171.6" x2="2000.5" y2="171.6" stroke="#EBEBEB" stroke-width="1.6"/>
<line x1="1730.9" y1="95.2" x2="2000.5" y2="95.2" stroke="#EBEBEB" stroke-width="1.6"/>
<line x1="1768.9" y1="82.8" x2="1768.9" y2="358.6" stroke="#EBEBEB" stroke-width="1.6"/>
<line x1="1833.15" y1="82.8" x2="1833.15" y2="358.6" stroke="#EBEBEB" stroke-width="1.6"/>
<line x1="1897.4" y1="82.8" x2="1897.4" y2="358.6" stroke="#EBEBEB" stroke-width="1.6"/>
<line x1="1961.65" y1="82.8" x2="1961.65" y2="358.6" stroke="#EBEBEB" stroke-width="1.6"/>
<rect x="1730.9" y="333.68" width="269.6" height="24.92" fill="#FFFF00" stroke="none" stroke-width="0"/>
<line x1="1730.9" y1="333.68" x2="2000.5" y2="333.68" stroke="#000" stroke-width="2"/>
<line x1="1768.9" y1="222.28" x2="1768.9" y2="264.28" stroke="#333333" stroke-width="1.9"/>
<line x1="1768.9" y1="294.65" x2="1768.9" y2="312.74" stroke="#333333" stroke-width="1.9"/>
<rect x="1744.5" y="264.28" width="48.8" height="30.37" fill="#EE3B3B" stroke="#333333" stroke-width="1.9"/>
<line x1="1744.5" y1="282.05" x2="1793.3" y2="282.05" stroke="#333333" stroke-width="3.8"/>
<line x1="1833.15" y1="208.39" x2="1833.15" y2="219.7" stroke="#333333" stroke-width="1.9"/>
<line x1="1833.15" y1="257.17" x2="1833.15" y2="269.77" stroke="#333333" stroke-width="1.9"/>
<rect x="1808.75" y="219.7" width="48.8" height="37.48" fill="#1874CD" stroke="#333333" stroke-width="1.9"/>
<line x1="1808.75" y1="233.26" x2="1857.55" y2="233.26" stroke="#333333" stroke-width="3.8"/>
<line x1="1897.4" y1="196.11" x2="1897.4" y2="230.68" stroke="#333333" stroke-width="1.9"/>
<line x1="1897.4" y1="286.57" x2="1897.4" y2="295.62" stroke="#333333" stroke-width="1.9"/>
<rect x="1873" y="230.68" width="48.8" height="55.89" fill="#00B25D" stroke="#333333" stroke-width="1.9"/>
<line x1="1873" y1="268.48" x2="1921.8" y2="268.48" stroke="#333333" stroke-width="3.8"/>
<line x1="1961.65" y1="227.77" x2="1961.65" y2="234.88" stroke="#333333" stroke-width="1.9"/>
<line x1="1961.65" y1="253.62" x2="1961.65" y2="258.46" stroke="#333333" stroke-width="1.9"/>
<rect x="1937.25" y="234.88" width="48.8" height="18.74" fill="#D9D9D9" stroke="#333333" stroke-width="1.9"/>
<line x1="1937.25" y1="241.66" x2="1986.05" y2="241.66" stroke="#333333" stroke-width="3.8"/>
<path d="M1768.9,162.9 V157.3 H1833.15 V162.9" fill="none" stroke="#000" stroke-width="1.5"/>
<text x="1801.03" y="154.6" font-size="20.3" fill="#000" text-anchor="middle">**</text>
<path d="M1768.9,141.6 V136 H1897.4 V141.6" fill="none" stroke="#000" stroke-width="1.5"/>
<text x="1833.15" y="133.3" font-size="20.3" fill="#000" text-anchor="middle">ns</text>
<path d="M1833.15,119.7 V114.1 H1897.4 V119.7" fill="none" stroke="#000" stroke-width="1.5"/>
<text x="1865.28" y="111.4" font-size="20.3" fill="#000" text-anchor="middle">ns</text>
<rect x="1730.9" y="82.8" width="269.6" height="275.8" fill="none" stroke="#333333" stroke-width="1.2"/>
<line x1="1730.9" y1="82.8" x2="2000.5" y2="82.8" stroke="#1A1A1A" stroke-width="2.2"/>
<rect x="1452.2" y="369.4" width="268.3" height="28.8" fill="#D9D9D9" stroke="#333333" stroke-width="1.2"/>
<text x="1586.35" y="390" font-size="21.4" fill="#1A1A1A" text-anchor="middle">9_Het</text>
<line x1="1452.2" y1="601.6" x2="1720.5" y2="601.6" stroke="#EBEBEB" stroke-width="1"/>
<line x1="1452.2" y1="525.2" x2="1720.5" y2="525.2" stroke="#EBEBEB" stroke-width="1"/>
<line x1="1452.2" y1="448.8" x2="1720.5" y2="448.8" stroke="#EBEBEB" stroke-width="1"/>
<line x1="1452.2" y1="639.8" x2="1720.5" y2="639.8" stroke="#EBEBEB" stroke-width="1.6"/>
<line x1="1452.2" y1="563.4" x2="1720.5" y2="563.4" stroke="#EBEBEB" stroke-width="1.6"/>
<line x1="1452.2" y1="487" x2="1720.5" y2="487" stroke="#EBEBEB" stroke-width="1.6"/>
<line x1="1452.2" y1="410.6" x2="1720.5" y2="410.6" stroke="#EBEBEB" stroke-width="1.6"/>
<line x1="1490.2" y1="398.2" x2="1490.2" y2="674" stroke="#EBEBEB" stroke-width="1.6"/>
<line x1="1554.45" y1="398.2" x2="1554.45" y2="674" stroke="#EBEBEB" stroke-width="1.6"/>
<line x1="1618.7" y1="398.2" x2="1618.7" y2="674" stroke="#EBEBEB" stroke-width="1.6"/>
<line x1="1682.95" y1="398.2" x2="1682.95" y2="674" stroke="#EBEBEB" stroke-width="1.6"/>
<rect x="1452.2" y="649.08" width="268.3" height="24.92" fill="#8A91D0" stroke="none" stroke-width="0"/>
<line x1="1452.2" y1="649.08" x2="1720.5" y2="649.08" stroke="#000" stroke-width="2"/>
<line x1="1490.2" y1="587.77" x2="1490.2" y2="603.28" stroke="#333333" stroke-width="1.9"/>
<line x1="1490.2" y1="629.13" x2="1490.2" y2="637.2" stroke="#333333" stroke-width="1.9"/>
<rect x="1465.8" y="603.28" width="48.8" height="25.85" fill="#EE3B3B" stroke="#333333" stroke-width="1.9"/>
<line x1="1465.8" y1="618.46" x2="1514.6" y2="618.46" stroke="#333333" stroke-width="3.8"/>
<line x1="1554.45" y1="590.03" x2="1554.45" y2="605.54" stroke="#333333" stroke-width="1.9"/>
<line x1="1554.45" y1="633.33" x2="1554.45" y2="636.23" stroke="#333333" stroke-width="1.9"/>
<rect x="1530.05" y="605.54" width="48.8" height="27.78" fill="#1874CD" stroke="#333333" stroke-width="1.9"/>
<line x1="1530.05" y1="621.7" x2="1578.85" y2="621.7" stroke="#333333" stroke-width="3.8"/>
<line x1="1618.7" y1="497.96" x2="1618.7" y2="520.57" stroke="#333333" stroke-width="1.9"/>
<line x1="1618.7" y1="601.34" x2="1618.7" y2="615.88" stroke="#333333" stroke-width="1.9"/>
<rect x="1594.3" y="520.57" width="48.8" height="80.77" fill="#00B25D" stroke="#333333" stroke-width="1.9"/>
<line x1="1594.3" y1="550.62" x2="1643.1" y2="550.62" stroke="#333333" stroke-width="3.8"/>
<line x1="1682.95" y1="590.03" x2="1682.95" y2="601.66" stroke="#333333" stroke-width="1.9"/>
<line x1="1682.95" y1="628.48" x2="1682.95" y2="629.77" stroke="#333333" stroke-width="1.9"/>
<rect x="1658.55" y="601.66" width="48.8" height="26.82" fill="#D9D9D9" stroke="#333333" stroke-width="1.9"/>
<line x1="1658.55" y1="616.85" x2="1707.35" y2="616.85" stroke="#333333" stroke-width="3.8"/>
<path d="M1490.2,478.3 V472.7 H1554.45 V478.3" fill="none" stroke="#000" stroke-width="1.5"/>
<text x="1522.33" y="470" font-size="20.3" fill="#000" text-anchor="middle">ns</text>
<path d="M1490.2,457 V451.4 H1618.7 V457" fill="none" stroke="#000" stroke-width="1.5"/>
<text x="1554.45" y="448.7" font-size="20.3" fill="#000" text-anchor="middle">**</text>
<path d="M1554.45,435.1 V429.5 H1618.7 V435.1" fill="none" stroke="#000" stroke-width="1.5"/>
<text x="1586.58" y="426.8" font-size="20.3" fill="#000" text-anchor="middle">**</text>
<rect x="1452.2" y="398.2" width="268.3" height="275.8" fill="none" stroke="#333333" stroke-width="1.2"/>
<line x1="1452.2" y1="398.2" x2="1720.5" y2="398.2" stroke="#1A1A1A" stroke-width="2.2"/>
<line x1="1447.2" y1="639.8" x2="1452.2" y2="639.8" stroke="#333333" stroke-width="1.5"/>
<text x="1444.2" y="646.8" font-size="19.3" fill="#4D4D4D" text-anchor="end">0</text>
<line x1="1447.2" y1="563.4" x2="1452.2" y2="563.4" stroke="#333333" stroke-width="1.5"/>
<text x="1444.2" y="570.4" font-size="19.3" fill="#4D4D4D" text-anchor="end">20</text>
<line x1="1447.2" y1="487" x2="1452.2" y2="487" stroke="#333333" stroke-width="1.5"/>
<text x="1444.2" y="494" font-size="19.3" fill="#4D4D4D" text-anchor="end">40</text>
<line x1="1447.2" y1="410.6" x2="1452.2" y2="410.6" stroke="#333333" stroke-width="1.5"/>
<text x="1444.2" y="417.6" font-size="19.3" fill="#4D4D4D" text-anchor="end">60</text>
<rect x="1730.9" y="369.4" width="269.6" height="28.8" fill="#D9D9D9" stroke="#333333" stroke-width="1.2"/>
<text x="1865.7" y="390" font-size="21.4" fill="#1A1A1A" text-anchor="middle">12_EnhBiv</text>
<line x1="1730.9" y1="601.6" x2="2000.5" y2="601.6" stroke="#EBEBEB" stroke-width="1"/>
<line x1="1730.9" y1="525.2" x2="2000.5" y2="525.2" stroke="#EBEBEB" stroke-width="1"/>
<line x1="1730.9" y1="448.8" x2="2000.5" y2="448.8" stroke="#EBEBEB" stroke-width="1"/>
<line x1="1730.9" y1="639.8" x2="2000.5" y2="639.8" stroke="#EBEBEB" stroke-width="1.6"/>
<line x1="1730.9" y1="563.4" x2="2000.5" y2="563.4" stroke="#EBEBEB" stroke-width="1.6"/>
<line x1="1730.9" y1="487" x2="2000.5" y2="487" stroke="#EBEBEB" stroke-width="1.6"/>
<line x1="1730.9" y1="410.6" x2="2000.5" y2="410.6" stroke="#EBEBEB" stroke-width="1.6"/>
<line x1="1768.9" y1="398.2" x2="1768.9" y2="674" stroke="#EBEBEB" stroke-width="1.6"/>
<line x1="1833.15" y1="398.2" x2="1833.15" y2="674" stroke="#EBEBEB" stroke-width="1.6"/>
<line x1="1897.4" y1="398.2" x2="1897.4" y2="674" stroke="#EBEBEB" stroke-width="1.6"/>
<line x1="1961.65" y1="398.2" x2="1961.65" y2="674" stroke="#EBEBEB" stroke-width="1.6"/>
<rect x="1730.9" y="649.08" width="269.6" height="24.92" fill="#BDB76B" stroke="none" stroke-width="0"/>
<line x1="1730.9" y1="649.08" x2="2000.5" y2="649.08" stroke="#000" stroke-width="2"/>
<line x1="1768.9" y1="543.19" x2="1768.9" y2="573.88" stroke="#333333" stroke-width="1.9"/>
<line x1="1768.9" y1="607.8" x2="1768.9" y2="638.5" stroke="#333333" stroke-width="1.9"/>
<rect x="1744.5" y="573.88" width="48.8" height="33.92" fill="#EE3B3B" stroke="#333333" stroke-width="1.9"/>
<line x1="1744.5" y1="582.28" x2="1793.3" y2="582.28" stroke="#333333" stroke-width="3.8"/>
<line x1="1833.15" y1="624.93" x2="1833.15" y2="624.93" stroke="#333333" stroke-width="1.9"/>
<line x1="1833.15" y1="636.23" x2="1833.15" y2="636.23" stroke="#333333" stroke-width="1.9"/>
<rect x="1808.75" y="624.93" width="48.8" height="11.31" fill="#1874CD" stroke="#333333" stroke-width="1.9"/>
<line x1="1808.75" y1="632.36" x2="1857.55" y2="632.36" stroke="#333333" stroke-width="3.8"/>
<circle cx="1833.15" cy="586.16" r="4.4" fill="#333333" stroke="none" stroke-width="1"/>
<circle cx="1833.15" cy="607.16" r="4.4" fill="#333333" stroke="none" stroke-width="1"/>
<line x1="1897.4" y1="637.2" x2="1897.4" y2="637.2" stroke="#333333" stroke-width="1.9"/>
<line x1="1897.4" y1="639.79" x2="1897.4" y2="639.79" stroke="#333333" stroke-width="1.9"/>
<rect x="1873" y="637.2" width="48.8" height="2.58" fill="#00B25D" stroke="#333333" stroke-width="1.9"/>
<line x1="1873" y1="638.5" x2="1921.8" y2="638.5" stroke="#333333" stroke-width="3.8"/>
<circle cx="1897.4" cy="636.23" r="4.4" fill="#333333" stroke="none" stroke-width="1"/>
<line x1="1961.65" y1="634.94" x2="1961.65" y2="634.94" stroke="#333333" stroke-width="1.9"/>
<line x1="1961.65" y1="638.5" x2="1961.65" y2="638.5" stroke="#333333" stroke-width="1.9"/>
<rect x="1937.25" y="634.94" width="48.8" height="3.55" fill="#D9D9D9" stroke="#333333" stroke-width="1.9"/>
<line x1="1937.25" y1="636.88" x2="1986.05" y2="636.88" stroke="#333333" stroke-width="3.8"/>
<path d="M1768.9,478.3 V472.7 H1833.15 V478.3" fill="none" stroke="#000" stroke-width="1.5"/>
<text x="1801.03" y="470" font-size="20.3" fill="#000" text-anchor="middle">*</text>
<path d="M1768.9,457 V451.4 H1897.4 V457" fill="none" stroke="#000" stroke-width="1.5"/>
<text x="1833.15" y="448.7" font-size="20.3" fill="#000" text-anchor="middle">***</text>
<path d="M1833.15,435.1 V429.5 H1897.4 V435.1" fill="none" stroke="#000" stroke-width="1.5"/>
<text x="1865.28" y="426.8" font-size="20.3" fill="#000" text-anchor="middle">***</text>
<rect x="1730.9" y="398.2" width="269.6" height="275.8" fill="none" stroke="#333333" stroke-width="1.2"/>
<line x1="1730.9" y1="398.2" x2="2000.5" y2="398.2" stroke="#1A1A1A" stroke-width="2.2"/>
<rect x="1452.2" y="684.8" width="268.3" height="28.8" fill="#D9D9D9" stroke="#333333" stroke-width="1.2"/>
<text x="1586.35" y="705.4" font-size="21.4" fill="#1A1A1A" text-anchor="middle">13_ReprPC</text>
<line x1="1452.2" y1="917" x2="1720.5" y2="917" stroke="#EBEBEB" stroke-width="1"/>
<line x1="1452.2" y1="840.6" x2="1720.5" y2="840.6" stroke="#EBEBEB" stroke-width="1"/>
<line x1="1452.2" y1="764.2" x2="1720.5" y2="764.2" stroke="#EBEBEB" stroke-width="1"/>
<line x1="1452.2" y1="955.2" x2="1720.5" y2="955.2" stroke="#EBEBEB" stroke-width="1.6"/>
<line x1="1452.2" y1="878.8" x2="1720.5" y2="878.8" stroke="#EBEBEB" stroke-width="1.6"/>
<line x1="1452.2" y1="802.4" x2="1720.5" y2="802.4" stroke="#EBEBEB" stroke-width="1.6"/>
<line x1="1452.2" y1="726" x2="1720.5" y2="726" stroke="#EBEBEB" stroke-width="1.6"/>
<line x1="1490.2" y1="713.6" x2="1490.2" y2="989.4" stroke="#EBEBEB" stroke-width="1.6"/>
<line x1="1554.45" y1="713.6" x2="1554.45" y2="989.4" stroke="#EBEBEB" stroke-width="1.6"/>
<line x1="1618.7" y1="713.6" x2="1618.7" y2="989.4" stroke="#EBEBEB" stroke-width="1.6"/>
<line x1="1682.95" y1="713.6" x2="1682.95" y2="989.4" stroke="#EBEBEB" stroke-width="1.6"/>
<rect x="1452.2" y="964.48" width="268.3" height="24.92" fill="#808080" stroke="none" stroke-width="0"/>
<line x1="1452.2" y1="964.48" x2="1720.5" y2="964.48" stroke="#000" stroke-width="2"/>
<line x1="1490.2" y1="889.36" x2="1490.2" y2="901.63" stroke="#333333" stroke-width="1.9"/>
<line x1="1490.2" y1="921.02" x2="1490.2" y2="932.65" stroke="#333333" stroke-width="1.9"/>
<rect x="1465.8" y="901.63" width="48.8" height="19.38" fill="#EE3B3B" stroke="#333333" stroke-width="1.9"/>
<line x1="1465.8" y1="902.93" x2="1514.6" y2="902.93" stroke="#333333" stroke-width="3.8"/>
<circle cx="1490.2" cy="956.23" r="4.4" fill="#333333" stroke="none" stroke-width="1"/>
<line x1="1554.45" y1="921.66" x2="1554.45" y2="932.33" stroke="#333333" stroke-width="1.9"/>
<line x1="1554.45" y1="942.34" x2="1554.45" y2="947.51" stroke="#333333" stroke-width="1.9"/>
<rect x="1530.05" y="932.33" width="48.8" height="10.02" fill="#1874CD" stroke="#333333" stroke-width="1.9"/>
<line x1="1530.05" y1="936.85" x2="1578.85" y2="936.85" stroke="#333333" stroke-width="3.8"/>
<line x1="1618.7" y1="939.11" x2="1618.7" y2="946.54" stroke="#333333" stroke-width="1.9"/>
<line x1="1618.7" y1="952.68" x2="1618.7" y2="953.65" stroke="#333333" stroke-width="1.9"/>
<rect x="1594.3" y="946.54" width="48.8" height="6.14" fill="#00B25D" stroke="#333333" stroke-width="1.9"/>
<line x1="1594.3" y1="950.1" x2="1643.1" y2="950.1" stroke="#333333" stroke-width="3.8"/>
<line x1="1682.95" y1="946.86" x2="1682.95" y2="946.86" stroke="#333333" stroke-width="1.9"/>
<line x1="1682.95" y1="953" x2="1682.95" y2="954.94" stroke="#333333" stroke-width="1.9"/>
<rect x="1658.55" y="946.86" width="48.8" height="6.14" fill="#D9D9D9" stroke="#333333" stroke-width="1.9"/>
<line x1="1658.55" y1="950.1" x2="1707.35" y2="950.1" stroke="#333333" stroke-width="3.8"/>
<circle cx="1682.95" cy="937.5" r="4.4" fill="#8C8C8C" stroke="none" stroke-width="1"/>
<path d="M1490.2,793.7 V788.1 H1554.45 V793.7" fill="none" stroke="#000" stroke-width="1.5"/>
<text x="1522.33" y="785.4" font-size="20.3" fill="#000" text-anchor="middle">**</text>
<path d="M1490.2,772.4 V766.8 H1618.7 V772.4" fill="none" stroke="#000" stroke-width="1.5"/>
<text x="1554.45" y="764.1" font-size="20.3" fill="#000" text-anchor="middle">**</text>
<path d="M1554.45,750.5 V744.9 H1618.7 V750.5" fill="none" stroke="#000" stroke-width="1.5"/>
<text x="1586.58" y="742.2" font-size="20.3" fill="#000" text-anchor="middle">**</text>
<rect x="1452.2" y="713.6" width="268.3" height="275.8" fill="none" stroke="#333333" stroke-width="1.2"/>
<line x1="1452.2" y1="713.6" x2="1720.5" y2="713.6" stroke="#1A1A1A" stroke-width="2.2"/>
<line x1="1447.2" y1="955.2" x2="1452.2" y2="955.2" stroke="#333333" stroke-width="1.5"/>
<text x="1444.2" y="962.2" font-size="19.3" fill="#4D4D4D" text-anchor="end">0</text>
<line x1="1447.2" y1="878.8" x2="1452.2" y2="878.8" stroke="#333333" stroke-width="1.5"/>
<text x="1444.2" y="885.8" font-size="19.3" fill="#4D4D4D" text-anchor="end">20</text>
<line x1="1447.2" y1="802.4" x2="1452.2" y2="802.4" stroke="#333333" stroke-width="1.5"/>
<text x="1444.2" y="809.4" font-size="19.3" fill="#4D4D4D" text-anchor="end">40</text>
<line x1="1447.2" y1="726" x2="1452.2" y2="726" stroke="#333333" stroke-width="1.5"/>
<text x="1444.2" y="733" font-size="19.3" fill="#4D4D4D" text-anchor="end">60</text>
<rect x="1730.9" y="684.8" width="269.6" height="28.8" fill="#D9D9D9" stroke="#333333" stroke-width="1.2"/>
<text x="1865.7" y="705.4" font-size="21.4" fill="#1A1A1A" text-anchor="middle">15_Quies</text>
<line x1="1730.9" y1="917" x2="2000.5" y2="917" stroke="#EBEBEB" stroke-width="1"/>
<line x1="1730.9" y1="840.6" x2="2000.5" y2="840.6" stroke="#EBEBEB" stroke-width="1"/>
<line x1="1730.9" y1="764.2" x2="2000.5" y2="764.2" stroke="#EBEBEB" stroke-width="1"/>
<line x1="1730.9" y1="955.2" x2="2000.5" y2="955.2" stroke="#EBEBEB" stroke-width="1.6"/>
<line x1="1730.9" y1="878.8" x2="2000.5" y2="878.8" stroke="#EBEBEB" stroke-width="1.6"/>
<line x1="1730.9" y1="802.4" x2="2000.5" y2="802.4" stroke="#EBEBEB" stroke-width="1.6"/>
<line x1="1730.9" y1="726" x2="2000.5" y2="726" stroke="#EBEBEB" stroke-width="1.6"/>
<line x1="1768.9" y1="713.6" x2="1768.9" y2="989.4" stroke="#EBEBEB" stroke-width="1.6"/>
<line x1="1833.15" y1="713.6" x2="1833.15" y2="989.4" stroke="#EBEBEB" stroke-width="1.6"/>
<line x1="1897.4" y1="713.6" x2="1897.4" y2="989.4" stroke="#EBEBEB" stroke-width="1.6"/>
<line x1="1961.65" y1="713.6" x2="1961.65" y2="989.4" stroke="#EBEBEB" stroke-width="1.6"/>
<rect x="1730.9" y="964.48" width="269.6" height="24.92" fill="#FFFFFF" stroke="none" stroke-width="0"/>
<line x1="1730.9" y1="964.48" x2="2000.5" y2="964.48" stroke="#000" stroke-width="2"/>
<line x1="1768.9" y1="906.8" x2="1768.9" y2="923.28" stroke="#333333" stroke-width="1.9"/>
<line x1="1768.9" y1="935.88" x2="1768.9" y2="947.51" stroke="#333333" stroke-width="1.9"/>
<rect x="1744.5" y="923.28" width="48.8" height="12.6" fill="#EE3B3B" stroke="#333333" stroke-width="1.9"/>
<line x1="1744.5" y1="928.77" x2="1793.3" y2="928.77" stroke="#333333" stroke-width="3.8"/>
<circle cx="1768.9" cy="887.74" r="4.4" fill="#333333" stroke="none" stroke-width="1"/>
<line x1="1833.15" y1="938.46" x2="1833.15" y2="938.46" stroke="#333333" stroke-width="1.9"/>
<line x1="1833.15" y1="949.77" x2="1833.15" y2="951.39" stroke="#333333" stroke-width="1.9"/>
<rect x="1808.75" y="938.46" width="48.8" height="11.31" fill="#1874CD" stroke="#333333" stroke-width="1.9"/>
<line x1="1808.75" y1="939.43" x2="1857.55" y2="939.43" stroke="#333333" stroke-width="3.8"/>
<line x1="1897.4" y1="797.92" x2="1897.4" y2="811.82" stroke="#333333" stroke-width="1.9"/>
<line x1="1897.4" y1="849.62" x2="1897.4" y2="885.48" stroke="#333333" stroke-width="1.9"/>
<rect x="1873" y="811.82" width="48.8" height="37.8" fill="#00B25D" stroke="#333333" stroke-width="1.9"/>
<line x1="1873" y1="826.36" x2="1921.8" y2="826.36" stroke="#333333" stroke-width="3.8"/>
<line x1="1961.65" y1="885.16" x2="1961.65" y2="888.71" stroke="#333333" stroke-width="1.9"/>
<line x1="1961.65" y1="906.8" x2="1961.65" y2="915.2" stroke="#333333" stroke-width="1.9"/>
<rect x="1937.25" y="888.71" width="48.8" height="18.09" fill="#D9D9D9" stroke="#333333" stroke-width="1.9"/>
<line x1="1937.25" y1="894.85" x2="1986.05" y2="894.85" stroke="#333333" stroke-width="3.8"/>
<path d="M1768.9,793.7 V788.1 H1833.15 V793.7" fill="none" stroke="#000" stroke-width="1.5"/>
<text x="1801.03" y="785.4" font-size="20.3" fill="#000" text-anchor="middle">**</text>
<path d="M1768.9,772.4 V766.8 H1897.4 V772.4" fill="none" stroke="#000" stroke-width="1.5"/>
<text x="1833.15" y="764.1" font-size="20.3" fill="#000" text-anchor="middle">****</text>
<path d="M1833.15,750.5 V744.9 H1897.4 V750.5" fill="none" stroke="#000" stroke-width="1.5"/>
<text x="1865.28" y="742.2" font-size="20.3" fill="#000" text-anchor="middle">***</text>
<rect x="1730.9" y="713.6" width="269.6" height="275.8" fill="none" stroke="#333333" stroke-width="1.2"/>
<line x1="1730.9" y1="713.6" x2="2000.5" y2="713.6" stroke="#1A1A1A" stroke-width="2.2"/>
<line x1="1490.2" y1="989.4" x2="1490.2" y2="994" stroke="#333333" stroke-width="1.6"/>
<text x="1499.2" y="1003.4" font-size="25" fill="#4D4D4D" text-anchor="end" transform="rotate(-90 1499.2 1003.4)">Hyper</text>
<line x1="1554.45" y1="989.4" x2="1554.45" y2="994" stroke="#333333" stroke-width="1.6"/>
<text x="1563.45" y="1003.4" font-size="25" fill="#4D4D4D" text-anchor="end" transform="rotate(-90 1563.45 1003.4)">Hypo</text>
<line x1="1618.7" y1="989.4" x2="1618.7" y2="994" stroke="#333333" stroke-width="1.6"/>
<text x="1627.7" y="1003.4" font-size="25" fill="#4D4D4D" text-anchor="end" transform="rotate(-90 1627.7 1003.4)">Hypo-block</text>
<line x1="1682.95" y1="989.4" x2="1682.95" y2="994" stroke="#333333" stroke-width="1.6"/>
<text x="1691.95" y="1003.4" font-size="25" fill="#4D4D4D" text-anchor="end" transform="rotate(-90 1691.95 1003.4)">neutral</text>
<line x1="1768.9" y1="989.4" x2="1768.9" y2="994" stroke="#333333" stroke-width="1.6"/>
<text x="1777.9" y="1003.4" font-size="25" fill="#4D4D4D" text-anchor="end" transform="rotate(-90 1777.9 1003.4)">Hyper</text>
<line x1="1833.15" y1="989.4" x2="1833.15" y2="994" stroke="#333333" stroke-width="1.6"/>
<text x="1842.15" y="1003.4" font-size="25" fill="#4D4D4D" text-anchor="end" transform="rotate(-90 1842.15 1003.4)">Hypo</text>
<line x1="1897.4" y1="989.4" x2="1897.4" y2="994" stroke="#333333" stroke-width="1.6"/>
<text x="1906.4" y="1003.4" font-size="25" fill="#4D4D4D" text-anchor="end" transform="rotate(-90 1906.4 1003.4)">Hypo-block</text>
<line x1="1961.65" y1="989.4" x2="1961.65" y2="994" stroke="#333333" stroke-width="1.6"/>
<text x="1970.65" y="1003.4" font-size="25" fill="#4D4D4D" text-anchor="end" transform="rotate(-90 1970.65 1003.4)">neutral</text>
<text x="1725.5" y="1162" font-size="29.4" fill="#000" text-anchor="middle">DMR state</text>
<text x="1411" y="531.75" font-size="29.3" fill="#000" text-anchor="middle" transform="rotate(-90 1411 531.75)">Fraction of ChromHMM segments within DMRs (%)</text>
<text x="1371.9" y="25.5" font-size="34" font-weight="bold" fill="#000" style="font-family:'DejaVu Sans',sans-serif">c</text>
<text x="45.4" y="641.25" font-size="21.6" fill="#000">exon</text>
<text x="88.8" y="661.85" font-size="17.7" fill="#377EB8">hypo DMR</text>
<text x="88.8" y="683.5" font-size="17.7" fill="#E41A1C">hyper DMR</text>
<text x="45" y="727.85" font-size="21.6" fill="#000">intron</text>
<text x="88.8" y="748.45" font-size="17.7" fill="#377EB8">hypo DMR</text>
<text x="88.8" y="770.1" font-size="17.7" fill="#E41A1C">hyper DMR</text>
<text x="37.6" y="814.45" font-size="21.6" fill="#000">promoter−TSS</text>
<text x="88.8" y="835.05" font-size="17.7" fill="#377EB8">hypo DMR</text>
<text x="88.8" y="856.7" font-size="17.7" fill="#E41A1C">hyper DMR</text>
<text x="41.9" y="901.05" font-size="21.6" fill="#000">Intergenic</text>
<text x="88.8" y="921.65" font-size="17.7" fill="#377EB8">hypo DMR</text>
<text x="88.8" y="943.3" font-size="17.7" fill="#E41A1C">hyper DMR</text>
<text x="43.8" y="987.65" font-size="21.6" fill="#000">5' UTR</text>
<text x="88.8" y="1008.25" font-size="17.7" fill="#377EB8">hypo DMR</text>
<text x="88.8" y="1029.9" font-size="17.7" fill="#E41A1C">hyper DMR</text>
<text x="45.5" y="1074.25" font-size="21.6" fill="#000">TTS</text>
<text x="88.8" y="1094.85" font-size="17.7" fill="#377EB8">hypo DMR</text>
<text x="88.8" y="1116.5" font-size="17.7" fill="#E41A1C">hyper DMR</text>
<text x="43.5" y="1160.85" font-size="21.6" fill="#000">3' UTR</text>
<text x="88.8" y="1181.45" font-size="17.7" fill="#377EB8">hypo DMR</text>
<text x="88.8" y="1203.1" font-size="17.7" fill="#E41A1C">hyper DMR</text>
<line x1="193.8" y1="655.15" x2="380.9" y2="655.15" stroke="#BEBEBE" stroke-width="1" stroke-dasharray="1.2,3.3"/>
<line x1="221.29" y1="655.15" x2="247.45" y2="655.15" stroke="#9BBEDB" stroke-width="7.8" stroke-linecap="round"/>
<rect x="226.1" y="649.05" width="12.4" height="12.2" fill="#377EB8" stroke="none" stroke-width="0"/>
<line x1="193.8" y1="676.8" x2="380.9" y2="676.8" stroke="#BEBEBE" stroke-width="1" stroke-dasharray="1.2,3.3"/>
<rect x="207.46" y="670.7" width="12.4" height="12.2" fill="#E41A1C" stroke="none" stroke-width="0"/>
<line x1="193.8" y1="741.75" x2="380.9" y2="741.75" stroke="#BEBEBE" stroke-width="1" stroke-dasharray="1.2,3.3"/>
<line x1="223.36" y1="741.75" x2="233.37" y2="741.75" stroke="#9BBEDB" stroke-width="7.8" stroke-linecap="round"/>
<rect x="221.13" y="735.65" width="12.4" height="12.2" fill="#377EB8" stroke="none" stroke-width="0"/>
<line x1="193.8" y1="763.4" x2="380.9" y2="763.4" stroke="#BEBEBE" stroke-width="1" stroke-dasharray="1.2,3.3"/>
<rect x="216.16" y="757.3" width="12.4" height="12.2" fill="#E41A1C" stroke="none" stroke-width="0"/>
<line x1="193.8" y1="828.35" x2="380.9" y2="828.35" stroke="#BEBEBE" stroke-width="1" stroke-dasharray="1.2,3.3"/>
<line x1="213.01" y1="828.35" x2="225.09" y2="828.35" stroke="#9BBEDB" stroke-width="7.8" stroke-linecap="round"/>
<rect x="212.02" y="822.25" width="12.4" height="12.2" fill="#377EB8" stroke="none" stroke-width="0"/>
<line x1="193.8" y1="850" x2="380.9" y2="850" stroke="#BEBEBE" stroke-width="1" stroke-dasharray="1.2,3.3"/>
<line x1="273.05" y1="850" x2="280.99" y2="850" stroke="#F28C8D" stroke-width="7.8" stroke-linecap="round"/>
<rect x="270.4" y="843.9" width="12.4" height="12.2" fill="#E41A1C" stroke="none" stroke-width="0"/>
<line x1="193.8" y1="914.95" x2="380.9" y2="914.95" stroke="#BEBEBE" stroke-width="1" stroke-dasharray="1.2,3.3"/>
<rect x="211.19" y="908.85" width="12.4" height="12.2" fill="#377EB8" stroke="none" stroke-width="0"/>
<line x1="193.8" y1="936.6" x2="380.9" y2="936.6" stroke="#BEBEBE" stroke-width="1" stroke-dasharray="1.2,3.3"/>
<rect x="199.6" y="930.5" width="12.4" height="12.2" fill="#E41A1C" stroke="none" stroke-width="0"/>
<line x1="193.8" y1="1001.55" x2="380.9" y2="1001.55" stroke="#BEBEBE" stroke-width="1" stroke-dasharray="1.2,3.3"/>
<line x1="201.83" y1="1001.55" x2="256.14" y2="1001.55" stroke="#9BBEDB" stroke-width="7.8" stroke-linecap="round"/>
<rect x="210.36" y="995.45" width="12.4" height="12.2" fill="#377EB8" stroke="none" stroke-width="0"/>
<line x1="193.8" y1="1023.2" x2="380.9" y2="1023.2" stroke="#BEBEBE" stroke-width="1" stroke-dasharray="1.2,3.3"/>
<line x1="284.23" y1="1023.2" x2="307.9" y2="1023.2" stroke="#F28C8D" stroke-width="7.8" stroke-linecap="round"/>
<rect x="289.04" y="1017.1" width="12.4" height="12.2" fill="#E41A1C" stroke="none" stroke-width="0"/>
<line x1="193.8" y1="1088.15" x2="380.9" y2="1088.15" stroke="#BEBEBE" stroke-width="1" stroke-dasharray="1.2,3.3"/>
<line x1="205.56" y1="1088.15" x2="232.95" y2="1088.15" stroke="#9BBEDB" stroke-width="7.8" stroke-linecap="round"/>
<rect x="207.88" y="1082.05" width="12.4" height="12.2" fill="#377EB8" stroke="none" stroke-width="0"/>
<line x1="193.8" y1="1109.8" x2="380.9" y2="1109.8" stroke="#BEBEBE" stroke-width="1" stroke-dasharray="1.2,3.3"/>
<line x1="218.39" y1="1109.8" x2="232.12" y2="1109.8" stroke="#F28C8D" stroke-width="7.8" stroke-linecap="round"/>
<rect x="218.64" y="1103.7" width="12.4" height="12.2" fill="#E41A1C" stroke="none" stroke-width="0"/>
<line x1="193.8" y1="1174.75" x2="380.9" y2="1174.75" stroke="#BEBEBE" stroke-width="1" stroke-dasharray="1.2,3.3"/>
<line x1="231.64" y1="1174.75" x2="304.59" y2="1174.75" stroke="#9BBEDB" stroke-width="7.8" stroke-linecap="round"/>
<rect x="252.19" y="1168.65" width="12.4" height="12.2" fill="#377EB8" stroke="none" stroke-width="0"/>
<line x1="193.8" y1="1196.4" x2="380.9" y2="1196.4" stroke="#BEBEBE" stroke-width="1" stroke-dasharray="1.2,3.3"/>
<line x1="224.6" y1="1196.4" x2="248.69" y2="1196.4" stroke="#F28C8D" stroke-width="7.8" stroke-linecap="round"/>
<rect x="228.58" y="1190.3" width="12.4" height="12.2" fill="#E41A1C" stroke="none" stroke-width="0"/>
<line x1="218" y1="611.9" x2="218" y2="1217.7" stroke="#000" stroke-width="1.6" stroke-dasharray="4.5,4.5"/>
<rect x="188.8" y="611.9" width="195.1" height="605.8" fill="none" stroke="#000" stroke-width="1.9"/>
<line x1="195.4" y1="1217.7" x2="195.4" y2="1224.2" stroke="#000" stroke-width="1.6"/>
<text x="195.4" y="1259.2" font-size="24.5" fill="#000" text-anchor="middle">0</text>
<line x1="240.6" y1="1217.7" x2="240.6" y2="1224.2" stroke="#000" stroke-width="1.6"/>
<text x="240.6" y="1259.2" font-size="24.5" fill="#000" text-anchor="middle">2</text>
<line x1="285.8" y1="1217.7" x2="285.8" y2="1224.2" stroke="#000" stroke-width="1.6"/>
<text x="285.8" y="1259.2" font-size="24.5" fill="#000" text-anchor="middle">4</text>
<line x1="331" y1="1217.7" x2="331" y2="1224.2" stroke="#000" stroke-width="1.6"/>
<text x="331" y="1259.2" font-size="24.5" fill="#000" text-anchor="middle">6</text>
<line x1="376.2" y1="1217.7" x2="376.2" y2="1224.2" stroke="#000" stroke-width="1.6"/>
<text x="376.2" y="1259.2" font-size="24.5" fill="#000" text-anchor="middle">8</text>
<text x="286.35" y="1298.5" font-size="25.5" fill="#000" text-anchor="middle">OR</text>
<text x="284.85" y="562.7" font-size="25.2" fill="#000" text-anchor="middle" font-weight="bold">under−expressed</text>
<text x="284.85" y="594.5" font-size="25.2" fill="#000" text-anchor="middle" font-weight="bold">genes</text>
<line x1="444.3" y1="655.15" x2="631" y2="655.15" stroke="#BEBEBE" stroke-width="1" stroke-dasharray="1.2,3.3"/>
<line x1="483.4" y1="655.15" x2="514.53" y2="655.15" stroke="#9BBEDB" stroke-width="7.8" stroke-linecap="round"/>
<rect x="490.28" y="649.05" width="12.4" height="12.2" fill="#377EB8" stroke="none" stroke-width="0"/>
<line x1="444.3" y1="676.8" x2="631" y2="676.8" stroke="#BEBEBE" stroke-width="1" stroke-dasharray="1.2,3.3"/>
<rect x="452.6" y="670.7" width="12.4" height="12.2" fill="#E41A1C" stroke="none" stroke-width="0"/>
<line x1="444.3" y1="741.75" x2="631" y2="741.75" stroke="#BEBEBE" stroke-width="1" stroke-dasharray="1.2,3.3"/>
<line x1="487.13" y1="741.75" x2="500.45" y2="741.75" stroke="#9BBEDB" stroke-width="7.8" stroke-linecap="round"/>
<rect x="486.55" y="735.65" width="12.4" height="12.2" fill="#377EB8" stroke="none" stroke-width="0"/>
<line x1="444.3" y1="763.4" x2="631" y2="763.4" stroke="#BEBEBE" stroke-width="1" stroke-dasharray="1.2,3.3"/>
<rect x="465.02" y="757.3" width="12.4" height="12.2" fill="#E41A1C" stroke="none" stroke-width="0"/>
<line x1="444.3" y1="828.35" x2="631" y2="828.35" stroke="#BEBEBE" stroke-width="1" stroke-dasharray="1.2,3.3"/>
<line x1="496.65" y1="828.35" x2="522.81" y2="828.35" stroke="#9BBEDB" stroke-width="7.8" stroke-linecap="round"/>
<rect x="502.29" y="822.25" width="12.4" height="12.2" fill="#377EB8" stroke="none" stroke-width="0"/>
<line x1="444.3" y1="850" x2="631" y2="850" stroke="#BEBEBE" stroke-width="1" stroke-dasharray="1.2,3.3"/>
<rect x="458.81" y="843.9" width="12.4" height="12.2" fill="#E41A1C" stroke="none" stroke-width="0"/>
<line x1="444.3" y1="914.95" x2="631" y2="914.95" stroke="#BEBEBE" stroke-width="1" stroke-dasharray="1.2,3.3"/>
<rect x="464.61" y="908.85" width="12.4" height="12.2" fill="#377EB8" stroke="none" stroke-width="0"/>
<line x1="444.3" y1="936.6" x2="631" y2="936.6" stroke="#BEBEBE" stroke-width="1" stroke-dasharray="1.2,3.3"/>
<rect x="452.6" y="930.5" width="12.4" height="12.2" fill="#E41A1C" stroke="none" stroke-width="0"/>
<line x1="444.3" y1="1001.55" x2="631" y2="1001.55" stroke="#BEBEBE" stroke-width="1" stroke-dasharray="1.2,3.3"/>
<line x1="470.98" y1="1001.55" x2="564.22" y2="1001.55" stroke="#9BBEDB" stroke-width="7.8" stroke-linecap="round"/>
<rect x="493.59" y="995.45" width="12.4" height="12.2" fill="#377EB8" stroke="none" stroke-width="0"/>
<line x1="444.3" y1="1023.2" x2="631" y2="1023.2" stroke="#BEBEBE" stroke-width="1" stroke-dasharray="1.2,3.3"/>
<rect x="455.5" y="1017.1" width="12.4" height="12.2" fill="#E41A1C" stroke="none" stroke-width="0"/>
<line x1="444.3" y1="1088.15" x2="631" y2="1088.15" stroke="#BEBEBE" stroke-width="1" stroke-dasharray="1.2,3.3"/>
<line x1="470.98" y1="1088.15" x2="512.87" y2="1088.15" stroke="#9BBEDB" stroke-width="7.8" stroke-linecap="round"/>
<rect x="480.34" y="1082.05" width="12.4" height="12.2" fill="#377EB8" stroke="none" stroke-width="0"/>
<line x1="444.3" y1="1109.8" x2="631" y2="1109.8" stroke="#BEBEBE" stroke-width="1" stroke-dasharray="1.2,3.3"/>
<line x1="488.37" y1="1109.8" x2="507.49" y2="1109.8" stroke="#F28C8D" stroke-width="7.8" stroke-linecap="round"/>
<rect x="490.28" y="1103.7" width="12.4" height="12.2" fill="#E41A1C" stroke="none" stroke-width="0"/>
<line x1="444.3" y1="1174.75" x2="631" y2="1174.75" stroke="#BEBEBE" stroke-width="1" stroke-dasharray="1.2,3.3"/>
<line x1="465.6" y1="1174.75" x2="503.35" y2="1174.75" stroke="#9BBEDB" stroke-width="7.8" stroke-linecap="round"/>
<rect x="472.89" y="1168.65" width="12.4" height="12.2" fill="#377EB8" stroke="none" stroke-width="0"/>
<line x1="444.3" y1="1196.4" x2="631" y2="1196.4" stroke="#BEBEBE" stroke-width="1" stroke-dasharray="1.2,3.3"/>
<line x1="485.06" y1="1196.4" x2="511.63" y2="1196.4" stroke="#F28C8D" stroke-width="7.8" stroke-linecap="round"/>
<rect x="490.28" y="1190.3" width="12.4" height="12.2" fill="#E41A1C" stroke="none" stroke-width="0"/>
<line x1="468.6" y1="611.9" x2="468.6" y2="1217.7" stroke="#000" stroke-width="1.6" stroke-dasharray="4.5,4.5"/>
<rect x="439.3" y="611.9" width="194.7" height="605.8" fill="none" stroke="#000" stroke-width="1.9"/>
<line x1="446" y1="1217.7" x2="446" y2="1224.2" stroke="#000" stroke-width="1.6"/>
<text x="446" y="1259.2" font-size="24.5" fill="#000" text-anchor="middle">0</text>
<line x1="491.2" y1="1217.7" x2="491.2" y2="1224.2" stroke="#000" stroke-width="1.6"/>
<text x="491.2" y="1259.2" font-size="24.5" fill="#000" text-anchor="middle">2</text>
<line x1="536.4" y1="1217.7" x2="536.4" y2="1224.2" stroke="#000" stroke-width="1.6"/>
<text x="536.4" y="1259.2" font-size="24.5" fill="#000" text-anchor="middle">4</text>
<line x1="581.6" y1="1217.7" x2="581.6" y2="1224.2" stroke="#000" stroke-width="1.6"/>
<text x="581.6" y="1259.2" font-size="24.5" fill="#000" text-anchor="middle">6</text>
<line x1="626.8" y1="1217.7" x2="626.8" y2="1224.2" stroke="#000" stroke-width="1.6"/>
<text x="626.8" y="1259.2" font-size="24.5" fill="#000" text-anchor="middle">8</text>
<text x="536.65" y="1298.5" font-size="25.5" fill="#000" text-anchor="middle">OR</text>
<text x="535.15" y="562.7" font-size="25.2" fill="#000" text-anchor="middle" font-weight="bold">over−expressed</text>
<text x="535.15" y="594.5" font-size="25.2" fill="#000" text-anchor="middle" font-weight="bold">genes</text>
<text x="20.9" y="907.2" font-size="25" fill="#000" text-anchor="middle" transform="rotate(-90 20.9 907.2)">Functional Element \ DMR state</text>
<text x="32.9" y="600.2" font-size="34" font-weight="bold" fill="#000" style="font-family:'DejaVu Sans',sans-serif">d</text>
<line x1="755.4" y1="1122.7" x2="1344.6" y2="1122.7" stroke="#EBEBEB" stroke-width="1"/>
<line x1="755.4" y1="1017.5" x2="1344.6" y2="1017.5" stroke="#EBEBEB" stroke-width="1"/>
<line x1="755.4" y1="912.3" x2="1344.6" y2="912.3" stroke="#EBEBEB" stroke-width="1"/>
<line x1="755.4" y1="807.1" x2="1344.6" y2="807.1" stroke="#EBEBEB" stroke-width="1"/>
<line x1="755.4" y1="701.9" x2="1344.6" y2="701.9" stroke="#EBEBEB" stroke-width="1"/>
<line x1="755.4" y1="1175.3" x2="1344.6" y2="1175.3" stroke="#EBEBEB" stroke-width="1.8"/>
<line x1="755.4" y1="1070.1" x2="1344.6" y2="1070.1" stroke="#EBEBEB" stroke-width="1.8"/>
<line x1="755.4" y1="964.9" x2="1344.6" y2="964.9" stroke="#EBEBEB" stroke-width="1.8"/>
<line x1="755.4" y1="859.7" x2="1344.6" y2="859.7" stroke="#EBEBEB" stroke-width="1.8"/>
<line x1="755.4" y1="754.5" x2="1344.6" y2="754.5" stroke="#EBEBEB" stroke-width="1.8"/>
<line x1="755.4" y1="649.3" x2="1344.6" y2="649.3" stroke="#EBEBEB" stroke-width="1.8"/>
<rect x="1246" y="624.2" width="95.5" height="146" fill="#FFFFFF" stroke="none" stroke-width="0"/>
<line x1="755.4" y1="1122.7" x2="1344.6" y2="1122.7" stroke="#8C8C8C" stroke-width="1.4" stroke-dasharray="2,2.2"/>
<line x1="783.9" y1="1175.3" x2="783.9" y2="1066.94" stroke="#377EB8" stroke-width="1.4" stroke-dasharray="2.4,3.6"/>
<line x1="783.9" y1="1175.3" x2="783.9" y2="708.74" stroke="#E41A1C" stroke-width="1.4" stroke-dasharray="5.6,4"/>
<line x1="832.45" y1="1175.3" x2="832.45" y2="1028.02" stroke="#377EB8" stroke-width="1.4" stroke-dasharray="2.4,3.6"/>
<line x1="832.45" y1="1175.3" x2="832.45" y2="868.64" stroke="#E41A1C" stroke-width="1.4" stroke-dasharray="5.6,4"/>
<line x1="881" y1="1175.3" x2="881" y2="962.27" stroke="#377EB8" stroke-width="1.4" stroke-dasharray="2.4,3.6"/>
<line x1="881" y1="1175.3" x2="881" y2="880.21" stroke="#E41A1C" stroke-width="1.4" stroke-dasharray="5.6,4"/>
<line x1="929.55" y1="1175.3" x2="929.55" y2="911.25" stroke="#377EB8" stroke-width="1.4" stroke-dasharray="2.4,3.6"/>
<line x1="929.55" y1="1175.3" x2="929.55" y2="758.71" stroke="#E41A1C" stroke-width="1.4" stroke-dasharray="5.6,4"/>
<line x1="978.1" y1="1175.3" x2="978.1" y2="1175.3" stroke="#377EB8" stroke-width="1.4" stroke-dasharray="2.4,3.6"/>
<line x1="978.1" y1="1175.3" x2="978.1" y2="787.64" stroke="#E41A1C" stroke-width="1.4" stroke-dasharray="5.6,4"/>
<line x1="1026.65" y1="1175.3" x2="1026.65" y2="1049.59" stroke="#377EB8" stroke-width="1.4" stroke-dasharray="2.4,3.6"/>
<line x1="1026.65" y1="1175.3" x2="1026.65" y2="747.66" stroke="#E41A1C" stroke-width="1.4" stroke-dasharray="5.6,4"/>
<line x1="1075.2" y1="1175.3" x2="1075.2" y2="742.93" stroke="#377EB8" stroke-width="1.4" stroke-dasharray="2.4,3.6"/>
<line x1="1075.2" y1="1175.3" x2="1075.2" y2="837.61" stroke="#E41A1C" stroke-width="1.4" stroke-dasharray="5.6,4"/>
<line x1="1123.75" y1="1175.3" x2="1123.75" y2="1047.48" stroke="#377EB8" stroke-width="1.4" stroke-dasharray="2.4,3.6"/>
<line x1="1123.75" y1="1175.3" x2="1123.75" y2="735.56" stroke="#E41A1C" stroke-width="1.4" stroke-dasharray="5.6,4"/>
<line x1="1172.3" y1="1175.3" x2="1172.3" y2="1055.37" stroke="#377EB8" stroke-width="1.4" stroke-dasharray="2.4,3.6"/>
<line x1="1172.3" y1="1175.3" x2="1172.3" y2="808.15" stroke="#E41A1C" stroke-width="1.4" stroke-dasharray="5.6,4"/>
<line x1="1220.85" y1="1175.3" x2="1220.85" y2="1006.45" stroke="#377EB8" stroke-width="1.4" stroke-dasharray="2.4,3.6"/>
<line x1="1220.85" y1="1175.3" x2="1220.85" y2="748.71" stroke="#E41A1C" stroke-width="1.4" stroke-dasharray="5.6,4"/>
<line x1="1269.4" y1="1175.3" x2="1269.4" y2="796.05" stroke="#377EB8" stroke-width="1.4" stroke-dasharray="2.4,3.6"/>
<line x1="1269.4" y1="1175.3" x2="1269.4" y2="887.58" stroke="#E41A1C" stroke-width="1.4" stroke-dasharray="5.6,4"/>
<line x1="1317.95" y1="1175.3" x2="1317.95" y2="1059.58" stroke="#377EB8" stroke-width="1.4" stroke-dasharray="2.4,3.6"/>
<line x1="1317.95" y1="1175.3" x2="1317.95" y2="782.9" stroke="#E41A1C" stroke-width="1.4" stroke-dasharray="5.6,4"/>
<circle cx="783.9" cy="708.74" r="13.7" fill="#E41A1C" stroke="none" stroke-width="1"/>
<circle cx="783.9" cy="1066.94" r="3" fill="none" stroke="#377EB8" stroke-width="1.3"/>
<circle cx="832.45" cy="868.64" r="13.7" fill="#E41A1C" stroke="none" stroke-width="1"/>
<circle cx="832.45" cy="1028.02" r="7.2" fill="#377EB8" stroke="none" stroke-width="1"/>
<circle cx="881" cy="880.21" r="13.7" fill="#E41A1C" stroke="none" stroke-width="1"/>
<circle cx="881" cy="962.27" r="7.5" fill="#377EB8" stroke="none" stroke-width="1"/>
<circle cx="929.55" cy="758.71" r="13.7" fill="#E41A1C" stroke="none" stroke-width="1"/>
<circle cx="929.55" cy="911.25" r="7.5" fill="#377EB8" stroke="none" stroke-width="1"/>
<circle cx="978.1" cy="787.64" r="13.7" fill="#E41A1C" stroke="none" stroke-width="1"/>
<circle cx="978.1" cy="1175.3" r="2.4" fill="none" stroke="#377EB8" stroke-width="1.3"/>
<circle cx="1026.65" cy="747.66" r="13.7" fill="#E41A1C" stroke="none" stroke-width="1"/>
<circle cx="1026.65" cy="1049.59" r="3.7" fill="none" stroke="#377EB8" stroke-width="1.3"/>
<circle cx="1075.2" cy="837.61" r="13.7" fill="#E41A1C" stroke="none" stroke-width="1"/>
<circle cx="1075.2" cy="742.93" r="11.3" fill="#377EB8" stroke="none" stroke-width="1"/>
<circle cx="1123.75" cy="735.56" r="13.7" fill="#E41A1C" stroke="none" stroke-width="1"/>
<circle cx="1123.75" cy="1047.48" r="4.4" fill="none" stroke="#377EB8" stroke-width="1.3"/>
<circle cx="1172.3" cy="808.15" r="13.7" fill="#E41A1C" stroke="none" stroke-width="1"/>
<circle cx="1172.3" cy="1055.37" r="4.1" fill="none" stroke="#377EB8" stroke-width="1.3"/>
<circle cx="1220.85" cy="748.71" r="13.7" fill="#E41A1C" stroke="none" stroke-width="1"/>
<circle cx="1220.85" cy="1006.45" r="7.5" fill="#377EB8" stroke="none" stroke-width="1"/>
<circle cx="1269.4" cy="887.58" r="13.7" fill="#E41A1C" stroke="none" stroke-width="1"/>
<circle cx="1269.4" cy="796.05" r="11.2" fill="#377EB8" stroke="none" stroke-width="1"/>
<circle cx="1317.95" cy="782.9" r="13.7" fill="#E41A1C" stroke="none" stroke-width="1"/>
<circle cx="1317.95" cy="1059.58" r="6.3" fill="#377EB8" stroke="none" stroke-width="1"/>
<text x="1257.5" y="654.2" font-size="19.5" fill="#000">−log<tspan font-size="13" dy="3.5">10</tspan><tspan dy="-3.5">(p)</tspan></text>
<circle cx="1270.2" cy="684.9" r="7.7" fill="#000" stroke="none" stroke-width="1"/>
<text x="1291.5" y="691.1" font-size="17.5" fill="#000">4</text>
<circle cx="1270.2" cy="713.7" r="9.85" fill="#000" stroke="none" stroke-width="1"/>
<text x="1291.5" y="719.9" font-size="17.5" fill="#000">8</text>
<circle cx="1270.2" cy="742.5" r="11.3" fill="#000" stroke="none" stroke-width="1"/>
<text x="1291.5" y="748.7" font-size="17.5" fill="#000">12</text>
<rect x="755.4" y="623.3" width="589.2" height="577.6" fill="none" stroke="#333333" stroke-width="1.5"/>
<line x1="750.8" y1="1175.3" x2="755.4" y2="1175.3" stroke="#333333" stroke-width="1.6"/>
<text x="747.4" y="1184" font-size="24.5" fill="#4D4D4D" text-anchor="end">0</text>
<line x1="750.8" y1="1070.1" x2="755.4" y2="1070.1" stroke="#333333" stroke-width="1.6"/>
<text x="747.4" y="1078.8" font-size="24.5" fill="#4D4D4D" text-anchor="end">2</text>
<line x1="750.8" y1="964.9" x2="755.4" y2="964.9" stroke="#333333" stroke-width="1.6"/>
<text x="747.4" y="973.6" font-size="24.5" fill="#4D4D4D" text-anchor="end">4</text>
<line x1="750.8" y1="859.7" x2="755.4" y2="859.7" stroke="#333333" stroke-width="1.6"/>
<text x="747.4" y="868.4" font-size="24.5" fill="#4D4D4D" text-anchor="end">6</text>
<line x1="750.8" y1="754.5" x2="755.4" y2="754.5" stroke="#333333" stroke-width="1.6"/>
<text x="747.4" y="763.2" font-size="24.5" fill="#4D4D4D" text-anchor="end">8</text>
<line x1="750.8" y1="649.3" x2="755.4" y2="649.3" stroke="#333333" stroke-width="1.6"/>
<text x="747.4" y="658" font-size="24.5" fill="#4D4D4D" text-anchor="end">10</text>
<line x1="783.9" y1="1200.9" x2="783.9" y2="1205.5" stroke="#333333" stroke-width="1.6"/>
<text x="792.7" y="1209" font-size="24.5" fill="#4D4D4D" text-anchor="end" transform="rotate(-90 792.7 1209)">BLCA</text>
<line x1="832.45" y1="1200.9" x2="832.45" y2="1205.5" stroke="#333333" stroke-width="1.6"/>
<text x="841.25" y="1209" font-size="24.5" fill="#4D4D4D" text-anchor="end" transform="rotate(-90 841.25 1209)">BRCA</text>
<line x1="881" y1="1200.9" x2="881" y2="1205.5" stroke="#333333" stroke-width="1.6"/>
<text x="889.8" y="1209" font-size="24.5" fill="#4D4D4D" text-anchor="end" transform="rotate(-90 889.8 1209)">COAD</text>
<line x1="929.55" y1="1200.9" x2="929.55" y2="1205.5" stroke="#333333" stroke-width="1.6"/>
<text x="938.35" y="1209" font-size="24.5" fill="#4D4D4D" text-anchor="end" transform="rotate(-90 938.35 1209)">ESCA</text>
<line x1="978.1" y1="1200.9" x2="978.1" y2="1205.5" stroke="#333333" stroke-width="1.6"/>
<text x="986.9" y="1209" font-size="24.5" fill="#4D4D4D" text-anchor="end" transform="rotate(-90 986.9 1209)">HNSC</text>
<line x1="1026.65" y1="1200.9" x2="1026.65" y2="1205.5" stroke="#333333" stroke-width="1.6"/>
<text x="1035.45" y="1209" font-size="24.5" fill="#4D4D4D" text-anchor="end" transform="rotate(-90 1035.45 1209)">KIRC</text>
<line x1="1075.2" y1="1200.9" x2="1075.2" y2="1205.5" stroke="#333333" stroke-width="1.6"/>
<text x="1084" y="1209" font-size="24.5" fill="#4D4D4D" text-anchor="end" transform="rotate(-90 1084 1209)">KIRP</text>
<line x1="1123.75" y1="1200.9" x2="1123.75" y2="1205.5" stroke="#333333" stroke-width="1.6"/>
<text x="1132.55" y="1209" font-size="24.5" fill="#4D4D4D" text-anchor="end" transform="rotate(-90 1132.55 1209)">LIHC</text>
<line x1="1172.3" y1="1200.9" x2="1172.3" y2="1205.5" stroke="#333333" stroke-width="1.6"/>
<text x="1181.1" y="1209" font-size="24.5" fill="#4D4D4D" text-anchor="end" transform="rotate(-90 1181.1 1209)">LUAD</text>
<line x1="1220.85" y1="1200.9" x2="1220.85" y2="1205.5" stroke="#333333" stroke-width="1.6"/>
<text x="1229.65" y="1209" font-size="24.5" fill="#4D4D4D" text-anchor="end" transform="rotate(-90 1229.65 1209)">LUSC</text>
<line x1="1269.4" y1="1200.9" x2="1269.4" y2="1205.5" stroke="#333333" stroke-width="1.6"/>
<text x="1278.2" y="1209" font-size="24.5" fill="#4D4D4D" text-anchor="end" transform="rotate(-90 1278.2 1209)">PRAD</text>
<line x1="1317.95" y1="1200.9" x2="1317.95" y2="1205.5" stroke="#333333" stroke-width="1.6"/>
<text x="1326.75" y="1209" font-size="24.5" fill="#4D4D4D" text-anchor="end" transform="rotate(-90 1326.75 1209)">UCEC</text>
<text x="711.9" y="909.6" font-size="25.4" fill="#000" text-anchor="middle" transform="rotate(-90 711.9 909.6)">TF enrichment (OR)</text>
<text x="686.8" y="575.2" font-size="34" font-weight="bold" fill="#000" style="font-family:'DejaVu Sans',sans-serif">e</text>
<rect x="103.6" y="1339.4" width="1100.4" height="35.4" fill="#D9D9D9" stroke="#333333" stroke-width="1.2"/>
<text x="653.8" y="1363.9" font-size="20.5" fill="#1A1A1A" text-anchor="middle">1_TssA</text>
<line x1="103.6" y1="1611.94" x2="1204" y2="1611.94" stroke="#EBEBEB" stroke-width="1"/>
<line x1="103.6" y1="1551.43" x2="1204" y2="1551.43" stroke="#EBEBEB" stroke-width="1"/>
<line x1="103.6" y1="1490.92" x2="1204" y2="1490.92" stroke="#EBEBEB" stroke-width="1"/>
<line x1="103.6" y1="1430.41" x2="1204" y2="1430.41" stroke="#EBEBEB" stroke-width="1"/>
<line x1="103.6" y1="1642.2" x2="1204" y2="1642.2" stroke="#EBEBEB" stroke-width="1.8"/>
<line x1="103.6" y1="1581.69" x2="1204" y2="1581.69" stroke="#EBEBEB" stroke-width="1.8"/>
<line x1="103.6" y1="1521.17" x2="1204" y2="1521.17" stroke="#EBEBEB" stroke-width="1.8"/>
<line x1="103.6" y1="1460.66" x2="1204" y2="1460.66" stroke="#EBEBEB" stroke-width="1.8"/>
<line x1="103.6" y1="1400.15" x2="1204" y2="1400.15" stroke="#EBEBEB" stroke-width="1.8"/>
<line x1="174.7" y1="1374.8" x2="174.7" y2="1653.9" stroke="#EBEBEB" stroke-width="1.8"/>
<line x1="294.5" y1="1374.8" x2="294.5" y2="1653.9" stroke="#EBEBEB" stroke-width="1.8"/>
<line x1="414.3" y1="1374.8" x2="414.3" y2="1653.9" stroke="#EBEBEB" stroke-width="1.8"/>
<line x1="534.1" y1="1374.8" x2="534.1" y2="1653.9" stroke="#EBEBEB" stroke-width="1.8"/>
<line x1="653.9" y1="1374.8" x2="653.9" y2="1653.9" stroke="#EBEBEB" stroke-width="1.8"/>
<line x1="773.7" y1="1374.8" x2="773.7" y2="1653.9" stroke="#EBEBEB" stroke-width="1.8"/>
<line x1="893.5" y1="1374.8" x2="893.5" y2="1653.9" stroke="#EBEBEB" stroke-width="1.8"/>
<line x1="1013.3" y1="1374.8" x2="1013.3" y2="1653.9" stroke="#EBEBEB" stroke-width="1.8"/>
<line x1="1133.1" y1="1374.8" x2="1133.1" y2="1653.9" stroke="#EBEBEB" stroke-width="1.8"/>
<path d="M153.1,1642.2 C152.62,1640.54 152.15,1636.14 150.2,1632.24 C148.25,1628.33 143.48,1622.14 141.4,1618.78 C139.32,1615.41 138.4,1615.41 137.7,1612.04 C137,1608.68 137.23,1604.19 137.2,1598.58 C137.17,1592.97 137.5,1584 137.5,1578.39 C137.5,1572.78 137.5,1569.41 137.2,1564.93 C136.9,1560.44 135.87,1555.95 135.7,1551.46 C135.53,1546.98 135.9,1543.16 136.2,1538 C136.5,1532.84 137.55,1526.11 137.5,1520.5 C137.45,1514.89 136.32,1508.61 135.9,1504.35 C135.48,1500.08 135.15,1507.26 135,1494.92 C134.85,1482.58 134.97,1443.32 135,1430.31 C135.03,1417.29 134.97,1420.88 135.2,1416.84 C135.43,1412.8 136.2,1408.86 136.4,1406.07 C136.6,1403.29 136.4,1401.14 136.4,1400.15 L133,1400.15 C133,1401.14 132.8,1403.29 133,1406.07 C133.2,1408.86 133.97,1412.8 134.2,1416.84 C134.43,1420.88 134.37,1417.29 134.4,1430.31 C134.43,1443.32 134.55,1482.58 134.4,1494.92 C134.25,1507.26 133.92,1500.08 133.5,1504.35 C133.08,1508.61 131.95,1514.89 131.9,1520.5 C131.85,1526.11 132.9,1532.84 133.2,1538 C133.5,1543.16 133.87,1546.98 133.7,1551.46 C133.53,1555.95 132.5,1560.44 132.2,1564.93 C131.9,1569.41 131.9,1572.78 131.9,1578.39 C131.9,1584 132.23,1592.97 132.2,1598.58 C132.17,1604.19 132.4,1608.68 131.7,1612.04 C131,1615.41 130.08,1615.41 128,1618.78 C125.92,1622.14 121.15,1628.33 119.2,1632.24 C117.25,1636.14 116.78,1640.54 116.3,1642.2Z" fill="#BF812D" stroke="#333333" stroke-width="1.1" stroke-linejoin="round"/>
<line x1="134.7" y1="1551.46" x2="134.7" y2="1642.2" stroke="#000" stroke-width="1.4"/>
<rect x="132.3" y="1595.22" width="4.8" height="46.98" fill="#BF812D" stroke="#000" stroke-width="1.3"/>
<line x1="132.3" y1="1642.2" x2="137.1" y2="1642.2" stroke="#000" stroke-width="2.2"/>
<path d="M193.1,1642.2 C192.68,1640.54 192.42,1636.14 190.6,1632.24 C188.78,1628.33 184.32,1622.14 182.2,1618.78 C180.08,1615.41 179,1614.29 177.9,1612.04 C176.8,1609.8 176.06,1608.68 175.6,1605.31 C175.14,1601.95 175.22,1626.05 175.15,1591.85 C175.07,1557.66 175.15,1432.1 175.15,1400.15 L174.25,1400.15 C174.25,1432.1 174.32,1557.66 174.25,1591.85 C174.18,1626.05 174.26,1601.95 173.8,1605.31 C173.34,1608.68 172.6,1609.8 171.5,1612.04 C170.4,1614.29 169.32,1615.41 167.2,1618.78 C165.08,1622.14 160.62,1628.33 158.8,1632.24 C156.98,1636.14 156.72,1640.54 156.3,1642.2Z" fill="#FFFFFF" stroke="#333333" stroke-width="1.1" stroke-linejoin="round"/>
<rect x="172.1" y="1640.8" width="5.2" height="2.8" fill="#000" stroke="none" stroke-width="0" rx="1.2"/>
<path d="M233.1,1642.2 C232.45,1640.54 231.43,1636.14 229.2,1632.24 C226.97,1628.33 221.75,1622.14 219.7,1618.78 C217.65,1615.41 217.57,1615.41 216.9,1612.04 C216.23,1608.68 215.98,1603.07 215.7,1598.58 C215.42,1594.1 215.31,1618.19 215.2,1585.12 C215.09,1552.05 215.07,1430.98 215.05,1400.15 L214.35,1400.15 C214.32,1430.98 214.31,1552.05 214.2,1585.12 C214.09,1618.19 213.98,1594.1 213.7,1598.58 C213.42,1603.07 213.17,1608.68 212.5,1612.04 C211.83,1615.41 211.75,1615.41 209.7,1618.78 C207.65,1622.14 202.43,1628.33 200.2,1632.24 C197.97,1636.14 196.95,1640.54 196.3,1642.2Z" fill="#35978F" stroke="#333333" stroke-width="1.1" stroke-linejoin="round"/>
<rect x="212.1" y="1640.8" width="5.2" height="2.8" fill="#000" stroke="none" stroke-width="0" rx="1.2"/>
<path d="M272.5,1642.2 C272.38,1640.54 272.45,1636.14 271.8,1632.24 C271.15,1628.33 269.72,1623.26 268.6,1618.78 C267.48,1614.29 266.1,1609.8 265.1,1605.31 C264.1,1600.83 263.3,1596.34 262.6,1591.85 C261.9,1587.36 261.3,1582.88 260.9,1578.39 C260.5,1573.9 260.37,1569.41 260.2,1564.93 C260.03,1560.44 259.95,1558.2 259.9,1551.46 C259.85,1544.73 260.02,1531.27 259.9,1524.54 C259.78,1517.81 259.47,1515.57 259.2,1511.08 C258.93,1506.59 258.6,1502.1 258.3,1497.62 C258,1493.13 257.74,1488.64 257.4,1484.15 C257.06,1479.67 256.57,1475.18 256.25,1470.69 C255.93,1466.2 255.5,1461.72 255.5,1457.23 C255.5,1452.74 255.92,1448.25 256.25,1443.77 C256.58,1439.28 257.06,1434.79 257.5,1430.31 C257.94,1425.82 258.53,1421.33 258.9,1416.84 C259.27,1412.36 259.57,1406.16 259.7,1403.38 C259.83,1400.6 259.7,1400.69 259.7,1400.15 L249.3,1400.15 C249.3,1400.69 249.17,1400.6 249.3,1403.38 C249.43,1406.16 249.73,1412.36 250.1,1416.84 C250.47,1421.33 251.06,1425.82 251.5,1430.31 C251.94,1434.79 252.42,1439.28 252.75,1443.77 C253.08,1448.25 253.5,1452.74 253.5,1457.23 C253.5,1461.72 253.07,1466.2 252.75,1470.69 C252.43,1475.18 251.94,1479.67 251.6,1484.15 C251.26,1488.64 251,1493.13 250.7,1497.62 C250.4,1502.1 250.07,1506.59 249.8,1511.08 C249.53,1515.57 249.22,1517.81 249.1,1524.54 C248.98,1531.27 249.15,1544.73 249.1,1551.46 C249.05,1558.2 248.97,1560.44 248.8,1564.93 C248.63,1569.41 248.5,1573.9 248.1,1578.39 C247.7,1582.88 247.1,1587.36 246.4,1591.85 C245.7,1596.34 244.9,1600.83 243.9,1605.31 C242.9,1609.8 241.52,1614.29 240.4,1618.78 C239.28,1623.26 237.85,1628.33 237.2,1632.24 C236.55,1636.14 236.62,1640.54 236.5,1642.2Z" fill="#BF812D" stroke="#333333" stroke-width="1.1" stroke-linejoin="round"/>
<line x1="254.5" y1="1400.15" x2="254.5" y2="1642.2" stroke="#000" stroke-width="1.4"/>
<rect x="252.1" y="1521.58" width="4.8" height="120.62" fill="#BF812D" stroke="#000" stroke-width="1.3"/>
<line x1="252.1" y1="1628.87" x2="256.9" y2="1628.87" stroke="#000" stroke-width="2.2"/>
<path d="M312.7,1642.2 C311.85,1640.54 309.73,1634.8 307.6,1632.24 C305.47,1629.68 301.68,1629.1 299.9,1626.85 C298.12,1624.61 297.58,1622.37 296.9,1618.78 C296.22,1615.19 296.07,1612.04 295.8,1605.31 C295.53,1598.58 295.43,1587.36 295.3,1578.39 C295.17,1569.41 295.05,1577.27 295,1551.46 C294.95,1525.66 294.93,1446.01 295,1423.57 C295.07,1401.14 295.22,1419.09 295.4,1416.84 C295.58,1414.6 295.87,1412.36 296.1,1410.11 C296.33,1407.87 296.68,1405.04 296.8,1403.38 C296.92,1401.72 296.8,1400.69 296.8,1400.15 L292.2,1400.15 C292.2,1400.69 292.08,1401.72 292.2,1403.38 C292.32,1405.04 292.67,1407.87 292.9,1410.11 C293.13,1412.36 293.42,1414.6 293.6,1416.84 C293.78,1419.09 293.93,1401.14 294,1423.57 C294.07,1446.01 294.05,1525.66 294,1551.46 C293.95,1577.27 293.83,1569.41 293.7,1578.39 C293.57,1587.36 293.47,1598.58 293.2,1605.31 C292.93,1612.04 292.78,1615.19 292.1,1618.78 C291.42,1622.37 290.88,1624.61 289.1,1626.85 C287.32,1629.1 283.53,1629.68 281.4,1632.24 C279.27,1634.8 277.15,1640.54 276.3,1642.2Z" fill="#FFFFFF" stroke="#333333" stroke-width="1.1" stroke-linejoin="round"/>
<line x1="294.5" y1="1574.35" x2="294.5" y2="1642.2" stroke="#000" stroke-width="1.4"/>
<rect x="292.1" y="1614.06" width="4.8" height="28.14" fill="#FFFFFF" stroke="#000" stroke-width="1.3"/>
<line x1="292.1" y1="1642.2" x2="296.9" y2="1642.2" stroke="#000" stroke-width="2.2"/>
<path d="M352.8,1642.2 C352.05,1640.54 350.4,1636.14 348.3,1632.24 C346.2,1628.33 342.05,1622.14 340.2,1618.78 C338.35,1615.41 337.93,1614.29 337.2,1612.04 C336.47,1609.8 336.12,1608.68 335.8,1605.31 C335.48,1601.95 335.42,1603.07 335.3,1591.85 C335.18,1580.63 334.98,1549.22 335.1,1538 C335.22,1526.78 336,1529.03 336,1524.54 C336,1520.05 335.27,1531.81 335.1,1511.08 C334.93,1490.35 335.02,1418.64 335,1400.15 L334,1400.15 C333.98,1418.64 334.07,1490.35 333.9,1511.08 C333.73,1531.81 333,1520.05 333,1524.54 C333,1529.03 333.78,1526.78 333.9,1538 C334.02,1549.22 333.82,1580.63 333.7,1591.85 C333.58,1603.07 333.52,1601.95 333.2,1605.31 C332.88,1608.68 332.53,1609.8 331.8,1612.04 C331.07,1614.29 330.65,1615.41 328.8,1618.78 C326.95,1622.14 322.8,1628.33 320.7,1632.24 C318.6,1636.14 316.95,1640.54 316.2,1642.2Z" fill="#35978F" stroke="#333333" stroke-width="1.1" stroke-linejoin="round"/>
<rect x="331.9" y="1640.8" width="5.2" height="2.8" fill="#000" stroke="none" stroke-width="0" rx="1.2"/>
<path d="M392.3,1642.2 C392.25,1640.54 392.37,1636.14 392,1632.24 C391.63,1628.33 391.08,1623.26 390.1,1618.78 C389.12,1614.29 387.22,1609.8 386.1,1605.31 C384.98,1600.83 384.08,1596.34 383.4,1591.85 C382.72,1587.36 382.3,1582.88 382,1578.39 C381.7,1573.9 381.7,1569.41 381.6,1564.93 C381.5,1560.44 381.5,1555.95 381.4,1551.46 C381.3,1546.98 381.18,1542.49 381,1538 C380.82,1533.52 380.63,1529.03 380.3,1524.54 C379.97,1520.05 379.47,1515.57 379,1511.08 C378.53,1506.59 377.98,1502.1 377.5,1497.62 C377.02,1493.13 376.47,1488.64 376.1,1484.15 C375.73,1479.67 375.53,1476.3 375.3,1470.69 C375.07,1465.08 374.62,1454.99 374.7,1450.5 C374.78,1446.01 375.43,1447.13 375.8,1443.77 C376.17,1440.4 376.62,1434.79 376.9,1430.31 C377.18,1425.82 377.32,1421.33 377.5,1416.84 C377.68,1412.36 377.92,1406.16 378,1403.38 C378.08,1400.6 378,1400.69 378,1400.15 L370.6,1400.15 C370.6,1400.69 370.52,1400.6 370.6,1403.38 C370.68,1406.16 370.92,1412.36 371.1,1416.84 C371.28,1421.33 371.42,1425.82 371.7,1430.31 C371.98,1434.79 372.43,1440.4 372.8,1443.77 C373.17,1447.13 373.82,1446.01 373.9,1450.5 C373.98,1454.99 373.53,1465.08 373.3,1470.69 C373.07,1476.3 372.87,1479.67 372.5,1484.15 C372.13,1488.64 371.58,1493.13 371.1,1497.62 C370.62,1502.1 370.07,1506.59 369.6,1511.08 C369.13,1515.57 368.63,1520.05 368.3,1524.54 C367.97,1529.03 367.78,1533.52 367.6,1538 C367.42,1542.49 367.3,1546.98 367.2,1551.46 C367.1,1555.95 367.1,1560.44 367,1564.93 C366.9,1569.41 366.9,1573.9 366.6,1578.39 C366.3,1582.88 365.88,1587.36 365.2,1591.85 C364.52,1596.34 363.62,1600.83 362.5,1605.31 C361.38,1609.8 359.48,1614.29 358.5,1618.78 C357.52,1623.26 356.97,1628.33 356.6,1632.24 C356.23,1636.14 356.35,1640.54 356.3,1642.2Z" fill="#BF812D" stroke="#333333" stroke-width="1.1" stroke-linejoin="round"/>
<line x1="374.3" y1="1481.46" x2="374.3" y2="1642.2" stroke="#000" stroke-width="1.4"/>
<rect x="371.9" y="1549.45" width="4.8" height="92.75" fill="#BF812D" stroke="#000" stroke-width="1.3"/>
<line x1="371.9" y1="1621.47" x2="376.7" y2="1621.47" stroke="#000" stroke-width="2.2"/>
<path d="M432.5,1642.2 C431.27,1640.54 427.47,1634.57 425.1,1632.24 C422.73,1629.9 419.83,1630.44 418.3,1628.2 C416.77,1625.96 416.42,1622.59 415.9,1618.78 C415.38,1614.96 415.35,1612.04 415.2,1605.31 C415.05,1598.58 415.07,1589.61 415,1578.39 C414.93,1567.17 414.65,1545.86 414.8,1538 C414.95,1530.15 415.55,1534.08 415.9,1531.27 C416.25,1528.47 416.98,1524.54 416.9,1521.17 C416.82,1517.81 415.77,1513.88 415.4,1511.08 C415.03,1508.27 414.82,1518.93 414.7,1504.35 C414.58,1489.76 414.62,1438.16 414.7,1423.57 C414.78,1408.99 415.02,1420.21 415.2,1416.84 C415.38,1413.48 415.7,1406.16 415.8,1403.38 C415.9,1400.6 415.8,1400.69 415.8,1400.15 L412.8,1400.15 C412.8,1400.69 412.7,1400.6 412.8,1403.38 C412.9,1406.16 413.22,1413.48 413.4,1416.84 C413.58,1420.21 413.82,1408.99 413.9,1423.57 C413.98,1438.16 414.02,1489.76 413.9,1504.35 C413.78,1518.93 413.57,1508.27 413.2,1511.08 C412.83,1513.88 411.78,1517.81 411.7,1521.17 C411.62,1524.54 412.35,1528.47 412.7,1531.27 C413.05,1534.08 413.65,1530.15 413.8,1538 C413.95,1545.86 413.67,1567.17 413.6,1578.39 C413.53,1589.61 413.55,1598.58 413.4,1605.31 C413.25,1612.04 413.22,1614.96 412.7,1618.78 C412.18,1622.59 411.83,1625.96 410.3,1628.2 C408.77,1630.44 405.87,1629.9 403.5,1632.24 C401.13,1634.57 397.33,1640.54 396.1,1642.2Z" fill="#FFFFFF" stroke="#333333" stroke-width="1.1" stroke-linejoin="round"/>
<line x1="414.3" y1="1551.46" x2="414.3" y2="1642.2" stroke="#000" stroke-width="1.4"/>
<rect x="411.9" y="1618.78" width="4.8" height="23.42" fill="#FFFFFF" stroke="#000" stroke-width="1.3"/>
<line x1="411.9" y1="1642.2" x2="416.7" y2="1642.2" stroke="#000" stroke-width="2.2"/>
<path d="M472.5,1642.2 C471.65,1640.54 469.82,1636.14 467.4,1632.24 C464.98,1628.33 459.9,1622.14 458,1618.78 C456.1,1615.41 456.45,1614.29 456,1612.04 C455.55,1609.8 455.48,1610.92 455.3,1605.31 C455.12,1599.7 454.97,1592.41 454.9,1578.39 C454.83,1564.37 454.9,1530.71 454.9,1521.17 L453.7,1521.17 C453.7,1530.71 453.77,1564.37 453.7,1578.39 C453.63,1592.41 453.48,1599.7 453.3,1605.31 C453.12,1610.92 453.05,1609.8 452.6,1612.04 C452.15,1614.29 452.5,1615.41 450.6,1618.78 C448.7,1622.14 443.62,1628.33 441.2,1632.24 C438.78,1636.14 436.95,1640.54 436.1,1642.2Z" fill="#35978F" stroke="#333333" stroke-width="1.1" stroke-linejoin="round"/>
<rect x="451.7" y="1640.8" width="5.2" height="2.8" fill="#000" stroke="none" stroke-width="0" rx="1.2"/>
<path d="M512.1,1642.2 C511.9,1640.54 511.97,1636.14 510.9,1632.24 C509.83,1628.33 507.15,1623.26 505.7,1618.78 C504.25,1614.29 503.12,1609.8 502.2,1605.31 C501.28,1600.83 500.83,1596.34 500.2,1591.85 C499.57,1587.36 498.88,1582.88 498.4,1578.39 C497.92,1573.9 497.55,1569.41 497.3,1564.93 C497.05,1560.44 496.85,1555.95 496.9,1551.46 C496.95,1546.98 497.4,1542.49 497.6,1538 C497.8,1533.52 498.05,1529.03 498.1,1524.54 C498.15,1520.05 498.17,1515.57 497.9,1511.08 C497.63,1506.59 496.93,1502.1 496.5,1497.62 C496.07,1493.13 495.64,1488.64 495.3,1484.15 C494.96,1479.67 494.6,1475.18 494.45,1470.69 C494.3,1466.2 494.37,1461.72 494.4,1457.23 C494.42,1452.74 494.38,1448.25 494.6,1443.77 C494.82,1439.28 495.35,1434.79 495.7,1430.31 C496.05,1425.82 496.43,1421.33 496.7,1416.84 C496.97,1412.36 497.2,1406.16 497.3,1403.38 C497.4,1400.6 497.3,1400.69 497.3,1400.15 L490.9,1400.15 C490.9,1400.69 490.8,1400.6 490.9,1403.38 C491,1406.16 491.23,1412.36 491.5,1416.84 C491.77,1421.33 492.15,1425.82 492.5,1430.31 C492.85,1434.79 493.38,1439.28 493.6,1443.77 C493.82,1448.25 493.77,1452.74 493.8,1457.23 C493.82,1461.72 493.9,1466.2 493.75,1470.69 C493.6,1475.18 493.24,1479.67 492.9,1484.15 C492.56,1488.64 492.13,1493.13 491.7,1497.62 C491.27,1502.1 490.57,1506.59 490.3,1511.08 C490.03,1515.57 490.05,1520.05 490.1,1524.54 C490.15,1529.03 490.4,1533.52 490.6,1538 C490.8,1542.49 491.25,1546.98 491.3,1551.46 C491.35,1555.95 491.15,1560.44 490.9,1564.93 C490.65,1569.41 490.28,1573.9 489.8,1578.39 C489.32,1582.88 488.63,1587.36 488,1591.85 C487.37,1596.34 486.92,1600.83 486,1605.31 C485.08,1609.8 483.95,1614.29 482.5,1618.78 C481.05,1623.26 478.37,1628.33 477.3,1632.24 C476.23,1636.14 476.3,1640.54 476.1,1642.2Z" fill="#BF812D" stroke="#333333" stroke-width="1.1" stroke-linejoin="round"/>
<line x1="494.1" y1="1497.62" x2="494.1" y2="1642.2" stroke="#000" stroke-width="1.4"/>
<rect x="491.7" y="1568.97" width="4.8" height="73.23" fill="#BF812D" stroke="#000" stroke-width="1.3"/>
<line x1="491.7" y1="1642.2" x2="496.5" y2="1642.2" stroke="#000" stroke-width="2.2"/>
<path d="M552.3,1642.2 C552.13,1640.54 552.27,1636.14 551.3,1632.24 C550.33,1628.33 548.18,1623.26 546.5,1618.78 C544.82,1614.29 542.85,1609.8 541.2,1605.31 C539.55,1600.83 537.6,1595.22 536.6,1591.85 C535.6,1588.49 535.52,1587.36 535.2,1585.12 C534.88,1582.88 534.8,1606.44 534.7,1578.39 C534.6,1550.34 534.57,1446.01 534.6,1416.84 C534.63,1387.68 534.85,1406.16 534.9,1403.38 C534.95,1400.6 534.9,1400.69 534.9,1400.15 L533.3,1400.15 C533.3,1400.69 533.25,1400.6 533.3,1403.38 C533.35,1406.16 533.57,1387.68 533.6,1416.84 C533.63,1446.01 533.6,1550.34 533.5,1578.39 C533.4,1606.44 533.32,1582.88 533,1585.12 C532.68,1587.36 532.6,1588.49 531.6,1591.85 C530.6,1595.22 528.65,1600.83 527,1605.31 C525.35,1609.8 523.38,1614.29 521.7,1618.78 C520.02,1623.26 517.87,1628.33 516.9,1632.24 C515.93,1636.14 516.07,1640.54 515.9,1642.2Z" fill="#FFFFFF" stroke="#333333" stroke-width="1.1" stroke-linejoin="round"/>
<rect x="531.5" y="1640.8" width="5.2" height="2.8" fill="#000" stroke="none" stroke-width="0" rx="1.2"/>
<path d="M592.3,1642.2 C592.07,1640.54 592.03,1636.14 590.9,1632.24 C589.77,1628.33 587.25,1623.26 585.5,1618.78 C583.75,1614.29 581.97,1609.8 580.4,1605.31 C578.83,1600.83 577,1595.22 576.1,1591.85 C575.2,1588.49 575.23,1587.36 575,1585.12 C574.77,1582.88 574.7,1606.44 574.7,1578.39 C574.7,1550.34 574.88,1446.01 575,1416.84 C575.12,1387.68 575.33,1406.16 575.4,1403.38 C575.47,1400.6 575.4,1400.69 575.4,1400.15 L572.8,1400.15 C572.8,1400.69 572.73,1400.6 572.8,1403.38 C572.87,1406.16 573.08,1387.68 573.2,1416.84 C573.32,1446.01 573.5,1550.34 573.5,1578.39 C573.5,1606.44 573.43,1582.88 573.2,1585.12 C572.97,1587.36 573,1588.49 572.1,1591.85 C571.2,1595.22 569.37,1600.83 567.8,1605.31 C566.23,1609.8 564.45,1614.29 562.7,1618.78 C560.95,1623.26 558.43,1628.33 557.3,1632.24 C556.17,1636.14 556.13,1640.54 555.9,1642.2Z" fill="#35978F" stroke="#333333" stroke-width="1.1" stroke-linejoin="round"/>
<rect x="571.5" y="1640.8" width="5.2" height="2.8" fill="#000" stroke="none" stroke-width="0" rx="1.2"/>
<path d="M632.1,1642.2 C631.98,1640.54 632.08,1636.14 631.4,1632.24 C630.72,1628.33 629.23,1623.26 628,1618.78 C626.77,1614.29 625.08,1609.8 624,1605.31 C622.92,1600.83 622.12,1596.34 621.5,1591.85 C620.88,1587.36 620.58,1582.88 620.3,1578.39 C620.02,1573.9 619.88,1571.66 619.8,1564.93 C619.72,1558.2 619.87,1544.73 619.8,1538 C619.73,1531.27 619.6,1529.03 619.4,1524.54 C619.2,1520.05 618.95,1515.57 618.6,1511.08 C618.25,1506.59 617.75,1502.1 617.3,1497.62 C616.85,1493.13 616.35,1488.64 615.9,1484.15 C615.45,1479.67 614.85,1475.18 614.6,1470.69 C614.35,1466.2 614.37,1461.72 614.4,1457.23 C614.43,1452.74 614.62,1448.25 614.8,1443.77 C614.98,1439.28 615.27,1434.79 615.5,1430.31 C615.73,1425.82 616.02,1421.33 616.2,1416.84 C616.38,1412.36 616.53,1406.16 616.6,1403.38 C616.67,1400.6 616.6,1400.69 616.6,1400.15 L611.2,1400.15 C611.2,1400.69 611.13,1400.6 611.2,1403.38 C611.27,1406.16 611.42,1412.36 611.6,1416.84 C611.78,1421.33 612.07,1425.82 612.3,1430.31 C612.53,1434.79 612.82,1439.28 613,1443.77 C613.18,1448.25 613.37,1452.74 613.4,1457.23 C613.43,1461.72 613.45,1466.2 613.2,1470.69 C612.95,1475.18 612.35,1479.67 611.9,1484.15 C611.45,1488.64 610.95,1493.13 610.5,1497.62 C610.05,1502.1 609.55,1506.59 609.2,1511.08 C608.85,1515.57 608.6,1520.05 608.4,1524.54 C608.2,1529.03 608.07,1531.27 608,1538 C607.93,1544.73 608.08,1558.2 608,1564.93 C607.92,1571.66 607.78,1573.9 607.5,1578.39 C607.22,1582.88 606.92,1587.36 606.3,1591.85 C605.68,1596.34 604.88,1600.83 603.8,1605.31 C602.72,1609.8 601.03,1614.29 599.8,1618.78 C598.57,1623.26 597.08,1628.33 596.4,1632.24 C595.72,1636.14 595.82,1640.54 595.7,1642.2Z" fill="#BF812D" stroke="#333333" stroke-width="1.1" stroke-linejoin="round"/>
<line x1="613.9" y1="1521.58" x2="613.9" y2="1642.2" stroke="#000" stroke-width="1.4"/>
<rect x="611.5" y="1561.56" width="4.8" height="80.64" fill="#BF812D" stroke="#000" stroke-width="1.3"/>
<line x1="611.5" y1="1642.2" x2="616.3" y2="1642.2" stroke="#000" stroke-width="2.2"/>
<path d="M672.3,1642.2 C672.03,1640.54 672.32,1636.14 670.7,1632.24 C669.08,1628.33 664.62,1622.14 662.6,1618.78 C660.58,1615.41 659.43,1614.29 658.6,1612.04 C657.77,1609.8 657.65,1608.68 657.6,1605.31 C657.55,1601.95 658.3,1595.22 658.3,1591.85 C658.3,1588.49 658,1587.36 657.6,1585.12 C657.2,1582.88 656.32,1580.63 655.9,1578.39 C655.48,1576.15 655.28,1573.9 655.1,1571.66 C654.92,1569.41 654.88,1568.29 654.8,1564.93 C654.72,1561.56 654.5,1555.95 654.6,1551.46 C654.7,1546.98 655.23,1542.49 655.4,1538 C655.57,1533.52 655.57,1527.35 655.6,1524.54 C655.63,1521.74 655.6,1521.74 655.6,1521.17 L652.2,1521.17 C652.2,1521.74 652.17,1521.74 652.2,1524.54 C652.23,1527.35 652.23,1533.52 652.4,1538 C652.57,1542.49 653.1,1546.98 653.2,1551.46 C653.3,1555.95 653.08,1561.56 653,1564.93 C652.92,1568.29 652.88,1569.41 652.7,1571.66 C652.52,1573.9 652.32,1576.15 651.9,1578.39 C651.48,1580.63 650.6,1582.88 650.2,1585.12 C649.8,1587.36 649.5,1588.49 649.5,1591.85 C649.5,1595.22 650.25,1601.95 650.2,1605.31 C650.15,1608.68 650.03,1609.8 649.2,1612.04 C648.37,1614.29 647.22,1615.41 645.2,1618.78 C643.18,1622.14 638.72,1628.33 637.1,1632.24 C635.48,1636.14 635.77,1640.54 635.5,1642.2Z" fill="#FFFFFF" stroke="#333333" stroke-width="1.1" stroke-linejoin="round"/>
<line x1="653.9" y1="1562.23" x2="653.9" y2="1642.2" stroke="#000" stroke-width="1.4"/>
<rect x="651.5" y="1610.7" width="4.8" height="31.5" fill="#FFFFFF" stroke="#000" stroke-width="1.3"/>
<line x1="651.5" y1="1642.2" x2="656.3" y2="1642.2" stroke="#000" stroke-width="2.2"/>
<path d="M712.4,1642.2 C712.18,1640.54 712.45,1636.14 711.1,1632.24 C709.75,1628.33 706.33,1623.26 704.3,1618.78 C702.27,1614.29 700.07,1609.8 698.9,1605.31 C697.73,1600.83 697.63,1596.34 697.3,1591.85 C696.97,1587.36 697.02,1585.12 696.9,1578.39 C696.78,1571.66 696.67,1560.44 696.6,1551.46 C696.53,1542.49 696.52,1529.59 696.5,1524.54 C696.48,1519.49 696.5,1521.74 696.5,1521.17 L691.3,1521.17 C691.3,1521.74 691.32,1519.49 691.3,1524.54 C691.28,1529.59 691.27,1542.49 691.2,1551.46 C691.13,1560.44 691.02,1571.66 690.9,1578.39 C690.78,1585.12 690.83,1587.36 690.5,1591.85 C690.17,1596.34 690.07,1600.83 688.9,1605.31 C687.73,1609.8 685.53,1614.29 683.5,1618.78 C681.47,1623.26 678.05,1628.33 676.7,1632.24 C675.35,1636.14 675.62,1640.54 675.4,1642.2Z" fill="#35978F" stroke="#333333" stroke-width="1.1" stroke-linejoin="round"/>
<rect x="691.3" y="1640.8" width="5.2" height="2.8" fill="#000" stroke="none" stroke-width="0" rx="1.2"/>
<path d="M751.9,1642.2 C751.57,1640.54 751.23,1636.14 749.9,1632.24 C748.57,1628.33 745.77,1623.26 743.9,1618.78 C742.03,1614.29 740.03,1609.8 738.7,1605.31 C737.37,1600.83 736.58,1596.34 735.9,1591.85 C735.22,1587.36 734.9,1582.88 734.6,1578.39 C734.3,1573.9 734.18,1576.15 734.1,1564.93 C734.02,1553.71 734.03,1521.17 734.1,1511.08 C734.17,1500.98 734.38,1507.04 734.5,1504.35 C734.62,1501.65 734.75,1498.92 734.8,1494.92 C734.85,1490.93 734.8,1482.81 734.8,1480.38 L732.6,1480.38 C732.6,1482.81 732.55,1490.93 732.6,1494.92 C732.65,1498.92 732.78,1501.65 732.9,1504.35 C733.02,1507.04 733.23,1500.98 733.3,1511.08 C733.37,1521.17 733.38,1553.71 733.3,1564.93 C733.22,1576.15 733.1,1573.9 732.8,1578.39 C732.5,1582.88 732.18,1587.36 731.5,1591.85 C730.82,1596.34 730.03,1600.83 728.7,1605.31 C727.37,1609.8 725.37,1614.29 723.5,1618.78 C721.63,1623.26 718.83,1628.33 717.5,1632.24 C716.17,1636.14 715.83,1640.54 715.5,1642.2Z" fill="#BF812D" stroke="#333333" stroke-width="1.1" stroke-linejoin="round"/>
<rect x="731.1" y="1640.8" width="5.2" height="2.8" fill="#000" stroke="none" stroke-width="0" rx="1.2"/>
<path d="M792.1,1642.2 C791.87,1640.54 791.8,1636.14 790.7,1632.24 C789.6,1628.33 787.5,1623.26 785.5,1618.78 C783.5,1614.29 780.37,1609.8 778.7,1605.31 C777.03,1600.83 776.17,1596.34 775.5,1591.85 C774.83,1587.36 774.9,1582.88 774.7,1578.39 C774.5,1573.9 774.37,1571.66 774.3,1564.93 C774.23,1558.2 774.12,1544.73 774.3,1538 C774.48,1531.27 775.18,1527.91 775.4,1524.54 C775.62,1521.18 775.67,1521.18 775.6,1517.81 C775.53,1514.44 775.22,1508.83 775,1504.35 C774.78,1499.86 774.43,1505.47 774.3,1490.89 C774.17,1476.3 774.17,1431.43 774.2,1416.84 C774.23,1402.26 774.45,1406.16 774.5,1403.38 C774.55,1400.6 774.5,1400.69 774.5,1400.15 L772.9,1400.15 C772.9,1400.69 772.85,1400.6 772.9,1403.38 C772.95,1406.16 773.17,1402.26 773.2,1416.84 C773.23,1431.43 773.23,1476.3 773.1,1490.89 C772.97,1505.47 772.62,1499.86 772.4,1504.35 C772.18,1508.83 771.87,1514.44 771.8,1517.81 C771.73,1521.18 771.78,1521.18 772,1524.54 C772.22,1527.91 772.92,1531.27 773.1,1538 C773.28,1544.73 773.17,1558.2 773.1,1564.93 C773.03,1571.66 772.9,1573.9 772.7,1578.39 C772.5,1582.88 772.57,1587.36 771.9,1591.85 C771.23,1596.34 770.37,1600.83 768.7,1605.31 C767.03,1609.8 763.9,1614.29 761.9,1618.78 C759.9,1623.26 757.8,1628.33 756.7,1632.24 C755.6,1636.14 755.53,1640.54 755.3,1642.2Z" fill="#FFFFFF" stroke="#333333" stroke-width="1.1" stroke-linejoin="round"/>
<rect x="771.1" y="1640.8" width="5.2" height="2.8" fill="#000" stroke="none" stroke-width="0" rx="1.2"/>
<line x1="795.4" y1="1642.2" x2="832" y2="1642.2" stroke="#333333" stroke-width="1.2"/>
<rect x="811.1" y="1640.9" width="5.2" height="2.6" fill="#000" stroke="none" stroke-width="0" rx="1.2"/>
<path d="M871.8,1642.2 C871.5,1640.54 870.98,1636.14 870,1632.24 C869.02,1628.33 867.02,1623.26 865.9,1618.78 C864.78,1614.29 863.95,1609.8 863.3,1605.31 C862.65,1600.83 862.35,1596.34 862,1591.85 C861.65,1587.36 861.5,1582.88 861.2,1578.39 C860.9,1573.9 860.53,1569.41 860.2,1564.93 C859.87,1560.44 859.53,1555.95 859.2,1551.46 C858.87,1546.98 858.53,1542.49 858.2,1538 C857.87,1533.52 857.58,1529.03 857.2,1524.54 C856.82,1520.05 856.3,1515.57 855.9,1511.08 C855.5,1506.59 855.08,1502.1 854.8,1497.62 C854.52,1493.13 854.35,1490.89 854.2,1484.15 C854.05,1477.42 853.93,1466.2 853.9,1457.23 C853.87,1448.25 853.85,1437.04 854,1430.31 C854.15,1423.57 854.55,1421.33 854.8,1416.84 C855.05,1412.36 855.38,1406.16 855.5,1403.38 C855.62,1400.6 855.5,1400.69 855.5,1400.15 L851.5,1400.15 C851.5,1400.69 851.38,1400.6 851.5,1403.38 C851.62,1406.16 851.95,1412.36 852.2,1416.84 C852.45,1421.33 852.85,1423.57 853,1430.31 C853.15,1437.04 853.13,1448.25 853.1,1457.23 C853.07,1466.2 852.95,1477.42 852.8,1484.15 C852.65,1490.89 852.48,1493.13 852.2,1497.62 C851.92,1502.1 851.5,1506.59 851.1,1511.08 C850.7,1515.57 850.18,1520.05 849.8,1524.54 C849.42,1529.03 849.13,1533.52 848.8,1538 C848.47,1542.49 848.13,1546.98 847.8,1551.46 C847.47,1555.95 847.13,1560.44 846.8,1564.93 C846.47,1569.41 846.1,1573.9 845.8,1578.39 C845.5,1582.88 845.35,1587.36 845,1591.85 C844.65,1596.34 844.35,1600.83 843.7,1605.31 C843.05,1609.8 842.22,1614.29 841.1,1618.78 C839.98,1623.26 837.98,1628.33 837,1632.24 C836.02,1636.14 835.5,1640.54 835.2,1642.2Z" fill="#BF812D" stroke="#333333" stroke-width="1.1" stroke-linejoin="round"/>
<line x1="853.5" y1="1521.58" x2="853.5" y2="1642.2" stroke="#000" stroke-width="1.4"/>
<rect x="851.1" y="1581.75" width="4.8" height="60.45" fill="#BF812D" stroke="#000" stroke-width="1.3"/>
<line x1="851.1" y1="1625.51" x2="855.9" y2="1625.51" stroke="#000" stroke-width="2.2"/>
<path d="M911.8,1642.2 C911.4,1640.54 911.05,1636.14 909.4,1632.24 C907.75,1628.33 904.13,1623.26 901.9,1618.78 C899.67,1614.29 897.23,1609.8 896,1605.31 C894.77,1600.83 894.82,1596.34 894.5,1591.85 C894.18,1587.36 894.18,1610.34 894.1,1578.39 C894.02,1546.44 894.02,1429.86 894,1400.15 L893,1400.15 C892.98,1429.86 892.98,1546.44 892.9,1578.39 C892.82,1610.34 892.82,1587.36 892.5,1591.85 C892.18,1596.34 892.23,1600.83 891,1605.31 C889.77,1609.8 887.33,1614.29 885.1,1618.78 C882.87,1623.26 879.25,1628.33 877.6,1632.24 C875.95,1636.14 875.6,1640.54 875.2,1642.2Z" fill="#FFFFFF" stroke="#333333" stroke-width="1.1" stroke-linejoin="round"/>
<rect x="890.9" y="1640.8" width="5.2" height="2.8" fill="#000" stroke="none" stroke-width="0" rx="1.2"/>
<path d="M951.7,1642.2 C950.68,1640.54 947.85,1635.02 945.6,1632.24 C943.35,1629.46 939.95,1627.75 938.2,1625.51 C936.45,1623.26 935.78,1622.14 935.1,1618.78 C934.42,1615.41 934.3,1641.75 934.1,1605.31 C933.9,1568.88 933.93,1434.34 933.9,1400.15 L933.1,1400.15 C933.07,1434.34 933.1,1568.88 932.9,1605.31 C932.7,1641.75 932.58,1615.41 931.9,1618.78 C931.22,1622.14 930.55,1623.26 928.8,1625.51 C927.05,1627.75 923.65,1629.46 921.4,1632.24 C919.15,1635.02 916.32,1640.54 915.3,1642.2Z" fill="#35978F" stroke="#333333" stroke-width="1.1" stroke-linejoin="round"/>
<rect x="930.9" y="1640.8" width="5.2" height="2.8" fill="#000" stroke="none" stroke-width="0" rx="1.2"/>
<path d="M991,1642.2 C991.05,1640.54 991.47,1636.14 991.3,1632.24 C991.13,1628.33 990.48,1623.26 990,1618.78 C989.52,1614.29 988.97,1609.8 988.4,1605.31 C987.83,1600.83 987.22,1596.34 986.6,1591.85 C985.98,1587.36 985.28,1582.88 984.7,1578.39 C984.12,1573.9 983.65,1569.41 983.1,1564.93 C982.55,1560.44 981.92,1555.95 981.4,1551.46 C980.88,1546.98 980.43,1542.49 980,1538 C979.57,1533.52 979.23,1529.03 978.8,1524.54 C978.37,1520.05 977.85,1515.57 977.4,1511.08 C976.95,1506.59 976.52,1502.1 976.1,1497.62 C975.68,1493.13 975.23,1488.64 974.9,1484.15 C974.57,1479.67 974.28,1475.18 974.1,1470.69 C973.92,1466.2 973.77,1461.72 973.8,1457.23 C973.83,1452.74 974.13,1448.25 974.3,1443.77 C974.47,1439.28 974.63,1434.79 974.8,1430.31 C974.97,1425.82 975.13,1421.33 975.3,1416.84 C975.47,1412.36 975.72,1406.16 975.8,1403.38 C975.88,1400.6 975.8,1400.69 975.8,1400.15 L970.8,1400.15 C970.8,1400.69 970.72,1400.6 970.8,1403.38 C970.88,1406.16 971.13,1412.36 971.3,1416.84 C971.47,1421.33 971.63,1425.82 971.8,1430.31 C971.97,1434.79 972.13,1439.28 972.3,1443.77 C972.47,1448.25 972.77,1452.74 972.8,1457.23 C972.83,1461.72 972.68,1466.2 972.5,1470.69 C972.32,1475.18 972.03,1479.67 971.7,1484.15 C971.37,1488.64 970.92,1493.13 970.5,1497.62 C970.08,1502.1 969.65,1506.59 969.2,1511.08 C968.75,1515.57 968.23,1520.05 967.8,1524.54 C967.37,1529.03 967.03,1533.52 966.6,1538 C966.17,1542.49 965.72,1546.98 965.2,1551.46 C964.68,1555.95 964.05,1560.44 963.5,1564.93 C962.95,1569.41 962.48,1573.9 961.9,1578.39 C961.32,1582.88 960.62,1587.36 960,1591.85 C959.38,1596.34 958.77,1600.83 958.2,1605.31 C957.63,1609.8 957.08,1614.29 956.6,1618.78 C956.12,1623.26 955.47,1628.33 955.3,1632.24 C955.13,1636.14 955.55,1640.54 955.6,1642.2Z" fill="#BF812D" stroke="#333333" stroke-width="1.1" stroke-linejoin="round"/>
<line x1="973.3" y1="1481.46" x2="973.3" y2="1642.2" stroke="#000" stroke-width="1.4"/>
<rect x="970.9" y="1561.56" width="4.8" height="80.64" fill="#BF812D" stroke="#000" stroke-width="1.3"/>
<line x1="970.9" y1="1607.33" x2="975.7" y2="1607.33" stroke="#000" stroke-width="2.2"/>
<path d="M1031.5,1642.2 C1030.93,1641.66 1030.23,1640.63 1028.1,1638.97 C1025.97,1637.31 1020.77,1634.48 1018.7,1632.24 C1016.63,1629.99 1016.38,1627.75 1015.7,1625.51 C1015.02,1623.26 1014.85,1622.14 1014.6,1618.78 C1014.35,1615.41 1014.32,1609.8 1014.2,1605.31 C1014.08,1600.83 1013.97,1621.02 1013.9,1591.85 C1013.83,1562.68 1013.63,1459.47 1013.75,1430.31 C1013.87,1401.14 1014.34,1421.33 1014.6,1416.84 C1014.86,1412.36 1015.18,1406.16 1015.3,1403.38 C1015.42,1400.6 1015.3,1400.69 1015.3,1400.15 L1011.3,1400.15 C1011.3,1400.69 1011.18,1400.6 1011.3,1403.38 C1011.42,1406.16 1011.74,1412.36 1012,1416.84 C1012.26,1421.33 1012.73,1401.14 1012.85,1430.31 C1012.97,1459.47 1012.77,1562.68 1012.7,1591.85 C1012.62,1621.02 1012.52,1600.83 1012.4,1605.31 C1012.28,1609.8 1012.25,1615.41 1012,1618.78 C1011.75,1622.14 1011.58,1623.26 1010.9,1625.51 C1010.22,1627.75 1009.97,1629.99 1007.9,1632.24 C1005.83,1634.48 1000.63,1637.31 998.5,1638.97 C996.37,1640.63 995.67,1641.66 995.1,1642.2Z" fill="#FFFFFF" stroke="#333333" stroke-width="1.1" stroke-linejoin="round"/>
<line x1="1013.3" y1="1602.62" x2="1013.3" y2="1642.2" stroke="#000" stroke-width="1.4"/>
<rect x="1010.9" y="1626.18" width="4.8" height="16.02" fill="#FFFFFF" stroke="#000" stroke-width="1.3"/>
<line x1="1010.9" y1="1642.2" x2="1015.7" y2="1642.2" stroke="#000" stroke-width="2.2"/>
<path d="M1071.3,1642.2 C1070.68,1640.54 1069.58,1636.14 1067.6,1632.24 C1065.62,1628.33 1061.33,1622.14 1059.4,1618.78 C1057.47,1615.41 1056.8,1614.29 1056,1612.04 C1055.2,1609.8 1054.93,1608.68 1054.6,1605.31 C1054.27,1601.95 1054.13,1626.05 1054,1591.85 C1053.87,1557.66 1053.83,1432.1 1053.8,1400.15 L1052.8,1400.15 C1052.77,1432.1 1052.73,1557.66 1052.6,1591.85 C1052.47,1626.05 1052.33,1601.95 1052,1605.31 C1051.67,1608.68 1051.4,1609.8 1050.6,1612.04 C1049.8,1614.29 1049.13,1615.41 1047.2,1618.78 C1045.27,1622.14 1040.98,1628.33 1039,1632.24 C1037.02,1636.14 1035.92,1640.54 1035.3,1642.2Z" fill="#35978F" stroke="#333333" stroke-width="1.1" stroke-linejoin="round"/>
<rect x="1050.7" y="1640.8" width="5.2" height="2.8" fill="#000" stroke="none" stroke-width="0" rx="1.2"/>
<path d="M1110.6,1642.2 C1110.7,1640.54 1111.25,1636.14 1111.2,1632.24 C1111.15,1628.33 1110.68,1623.26 1110.3,1618.78 C1109.92,1614.29 1109.42,1609.8 1108.9,1605.31 C1108.38,1600.83 1107.77,1596.34 1107.2,1591.85 C1106.63,1587.36 1106.07,1582.88 1105.5,1578.39 C1104.93,1573.9 1104.35,1569.41 1103.8,1564.93 C1103.25,1560.44 1102.7,1555.95 1102.2,1551.46 C1101.7,1546.98 1101.25,1542.49 1100.8,1538 C1100.35,1533.52 1099.95,1529.03 1099.5,1524.54 C1099.05,1520.05 1098.55,1515.57 1098.1,1511.08 C1097.65,1506.59 1097.2,1502.1 1096.8,1497.62 C1096.4,1493.13 1096.03,1488.64 1095.7,1484.15 C1095.37,1479.67 1095.02,1475.18 1094.8,1470.69 C1094.58,1466.2 1094.28,1461.72 1094.4,1457.23 C1094.52,1452.74 1095.05,1448.25 1095.5,1443.77 C1095.95,1439.28 1096.6,1434.79 1097.1,1430.31 C1097.6,1425.82 1098.1,1421.33 1098.5,1416.84 C1098.9,1412.36 1099.33,1406.16 1099.5,1403.38 C1099.67,1400.6 1099.5,1400.69 1099.5,1400.15 L1086.7,1400.15 C1086.7,1400.69 1086.53,1400.6 1086.7,1403.38 C1086.87,1406.16 1087.3,1412.36 1087.7,1416.84 C1088.1,1421.33 1088.6,1425.82 1089.1,1430.31 C1089.6,1434.79 1090.25,1439.28 1090.7,1443.77 C1091.15,1448.25 1091.68,1452.74 1091.8,1457.23 C1091.92,1461.72 1091.62,1466.2 1091.4,1470.69 C1091.18,1475.18 1090.83,1479.67 1090.5,1484.15 C1090.17,1488.64 1089.8,1493.13 1089.4,1497.62 C1089,1502.1 1088.55,1506.59 1088.1,1511.08 C1087.65,1515.57 1087.15,1520.05 1086.7,1524.54 C1086.25,1529.03 1085.85,1533.52 1085.4,1538 C1084.95,1542.49 1084.5,1546.98 1084,1551.46 C1083.5,1555.95 1082.95,1560.44 1082.4,1564.93 C1081.85,1569.41 1081.27,1573.9 1080.7,1578.39 C1080.13,1582.88 1079.57,1587.36 1079,1591.85 C1078.43,1596.34 1077.82,1600.83 1077.3,1605.31 C1076.78,1609.8 1076.28,1614.29 1075.9,1618.78 C1075.52,1623.26 1075.05,1628.33 1075,1632.24 C1074.95,1636.14 1075.5,1640.54 1075.6,1642.2Z" fill="#BF812D" stroke="#333333" stroke-width="1.1" stroke-linejoin="round"/>
<line x1="1093.1" y1="1400.15" x2="1093.1" y2="1642.2" stroke="#000" stroke-width="1.4"/>
<rect x="1090.7" y="1521.17" width="4.8" height="121.03" fill="#BF812D" stroke="#000" stroke-width="1.3"/>
<line x1="1090.7" y1="1595.89" x2="1095.5" y2="1595.89" stroke="#000" stroke-width="2.2"/>
<path d="M1151.5,1642.2 C1150.4,1640.54 1147.13,1635.02 1144.9,1632.24 C1142.67,1629.46 1139.57,1627.75 1138.1,1625.51 C1136.63,1623.26 1136.53,1622.14 1136.1,1618.78 C1135.67,1615.41 1135.7,1609.8 1135.5,1605.31 C1135.3,1600.83 1135.05,1596.34 1134.9,1591.85 C1134.75,1587.36 1134.47,1582.88 1134.6,1578.39 C1134.73,1573.9 1135.65,1568.29 1135.7,1564.93 C1135.75,1561.56 1135.13,1560.44 1134.9,1558.2 C1134.67,1555.95 1134.48,1554.83 1134.3,1551.46 C1134.12,1548.1 1133.82,1542.49 1133.8,1538 C1133.78,1533.52 1134.1,1527.35 1134.2,1524.54 C1134.3,1521.74 1134.47,1523.42 1134.4,1521.17 C1134.33,1518.93 1133.95,1515 1133.8,1511.08 C1133.65,1507.15 1133.55,1516.1 1133.5,1497.62 C1133.45,1479.13 1133.5,1416.39 1133.5,1400.15 L1132.7,1400.15 C1132.7,1416.39 1132.75,1479.13 1132.7,1497.62 C1132.65,1516.1 1132.55,1507.15 1132.4,1511.08 C1132.25,1515 1131.87,1518.93 1131.8,1521.17 C1131.73,1523.42 1131.9,1521.74 1132,1524.54 C1132.1,1527.35 1132.42,1533.52 1132.4,1538 C1132.38,1542.49 1132.08,1548.1 1131.9,1551.46 C1131.72,1554.83 1131.53,1555.95 1131.3,1558.2 C1131.07,1560.44 1130.45,1561.56 1130.5,1564.93 C1130.55,1568.29 1131.47,1573.9 1131.6,1578.39 C1131.73,1582.88 1131.45,1587.36 1131.3,1591.85 C1131.15,1596.34 1130.9,1600.83 1130.7,1605.31 C1130.5,1609.8 1130.53,1615.41 1130.1,1618.78 C1129.67,1622.14 1129.57,1623.26 1128.1,1625.51 C1126.63,1627.75 1123.53,1629.46 1121.3,1632.24 C1119.07,1635.02 1115.8,1640.54 1114.7,1642.2Z" fill="#FFFFFF" stroke="#333333" stroke-width="1.1" stroke-linejoin="round"/>
<line x1="1133.1" y1="1551.46" x2="1133.1" y2="1642.2" stroke="#000" stroke-width="1.4"/>
<rect x="1130.7" y="1610.03" width="4.8" height="32.17" fill="#FFFFFF" stroke="#000" stroke-width="1.3"/>
<line x1="1130.7" y1="1642.2" x2="1135.5" y2="1642.2" stroke="#000" stroke-width="2.2"/>
<path d="M1191.4,1642.2 C1190.7,1640.54 1189.48,1636.14 1187.2,1632.24 C1184.92,1628.33 1179.72,1622.14 1177.7,1618.78 C1175.68,1615.41 1175.72,1614.29 1175.1,1612.04 C1174.48,1609.8 1174.25,1610.92 1174,1605.31 C1173.75,1599.7 1173.68,1612.58 1173.6,1578.39 C1173.52,1544.2 1173.52,1429.86 1173.5,1400.15 L1172.7,1400.15 C1172.68,1429.86 1172.68,1544.2 1172.6,1578.39 C1172.52,1612.58 1172.45,1599.7 1172.2,1605.31 C1171.95,1610.92 1171.72,1609.8 1171.1,1612.04 C1170.48,1614.29 1170.52,1615.41 1168.5,1618.78 C1166.48,1622.14 1161.28,1628.33 1159,1632.24 C1156.72,1636.14 1155.5,1640.54 1154.8,1642.2Z" fill="#35978F" stroke="#333333" stroke-width="1.1" stroke-linejoin="round"/>
<rect x="1170.5" y="1640.8" width="5.2" height="2.8" fill="#000" stroke="none" stroke-width="0" rx="1.2"/>
<line x1="234.6" y1="1374.8" x2="234.6" y2="1653.9" stroke="#000" stroke-width="1.3" stroke-dasharray="4,4"/>
<line x1="354.4" y1="1374.8" x2="354.4" y2="1653.9" stroke="#000" stroke-width="1.3" stroke-dasharray="4,4"/>
<line x1="474.2" y1="1374.8" x2="474.2" y2="1653.9" stroke="#000" stroke-width="1.3" stroke-dasharray="4,4"/>
<line x1="594" y1="1374.8" x2="594" y2="1653.9" stroke="#000" stroke-width="1.3" stroke-dasharray="4,4"/>
<line x1="713.8" y1="1374.8" x2="713.8" y2="1653.9" stroke="#000" stroke-width="1.3" stroke-dasharray="4,4"/>
<line x1="833.6" y1="1374.8" x2="833.6" y2="1653.9" stroke="#000" stroke-width="1.3" stroke-dasharray="4,4"/>
<line x1="953.4" y1="1374.8" x2="953.4" y2="1653.9" stroke="#000" stroke-width="1.3" stroke-dasharray="4,4"/>
<line x1="1073.2" y1="1374.8" x2="1073.2" y2="1653.9" stroke="#000" stroke-width="1.3" stroke-dasharray="4,4"/>
<text x="174.7" y="1400.3" font-size="24" fill="#000" text-anchor="middle">****</text>
<text x="294.5" y="1400.3" font-size="24" fill="#000" text-anchor="middle">****</text>
<text x="414.3" y="1400.3" font-size="24" fill="#000" text-anchor="middle">****</text>
<text x="534.1" y="1400.3" font-size="24" fill="#000" text-anchor="middle">****</text>
<text x="653.9" y="1402.3" font-size="24" fill="#000" text-anchor="middle">ns</text>
<text x="773.7" y="1400.3" font-size="24" fill="#000" text-anchor="middle">*</text>
<text x="893.5" y="1400.3" font-size="24" fill="#000" text-anchor="middle">****</text>
<text x="1013.3" y="1400.3" font-size="24" fill="#000" text-anchor="middle">****</text>
<text x="1133.1" y="1400.3" font-size="24" fill="#000" text-anchor="middle">****</text>
<rect x="103.6" y="1374.8" width="1100.4" height="279.1" fill="none" stroke="#333333" stroke-width="1.3"/>
<line x1="103.6" y1="1374.8" x2="1204" y2="1374.8" stroke="#1A1A1A" stroke-width="2.2"/>
<line x1="95.4" y1="1642.2" x2="103.6" y2="1642.2" stroke="#333333" stroke-width="1.9"/>
<text x="89.8" y="1651.4" font-size="25.2" fill="#4D4D4D" text-anchor="end">0</text>
<line x1="95.4" y1="1581.69" x2="103.6" y2="1581.69" stroke="#333333" stroke-width="1.9"/>
<text x="89.8" y="1590.89" font-size="25.2" fill="#4D4D4D" text-anchor="end">25</text>
<line x1="95.4" y1="1521.17" x2="103.6" y2="1521.17" stroke="#333333" stroke-width="1.9"/>
<text x="89.8" y="1530.38" font-size="25.2" fill="#4D4D4D" text-anchor="end">50</text>
<line x1="95.4" y1="1460.66" x2="103.6" y2="1460.66" stroke="#333333" stroke-width="1.9"/>
<text x="89.8" y="1469.86" font-size="25.2" fill="#4D4D4D" text-anchor="end">75</text>
<line x1="95.4" y1="1400.15" x2="103.6" y2="1400.15" stroke="#333333" stroke-width="1.9"/>
<text x="89.8" y="1409.35" font-size="25.2" fill="#4D4D4D" text-anchor="end">100</text>
<rect x="103.6" y="1670.7" width="1100.4" height="35.4" fill="#D9D9D9" stroke="#333333" stroke-width="1.2"/>
<text x="653.8" y="1695.2" font-size="20.5" fill="#1A1A1A" text-anchor="middle">13_ReprPC</text>
<line x1="103.6" y1="1943.24" x2="1204" y2="1943.24" stroke="#EBEBEB" stroke-width="1"/>
<line x1="103.6" y1="1882.73" x2="1204" y2="1882.73" stroke="#EBEBEB" stroke-width="1"/>
<line x1="103.6" y1="1822.22" x2="1204" y2="1822.22" stroke="#EBEBEB" stroke-width="1"/>
<line x1="103.6" y1="1761.71" x2="1204" y2="1761.71" stroke="#EBEBEB" stroke-width="1"/>
<line x1="103.6" y1="1973.5" x2="1204" y2="1973.5" stroke="#EBEBEB" stroke-width="1.8"/>
<line x1="103.6" y1="1912.99" x2="1204" y2="1912.99" stroke="#EBEBEB" stroke-width="1.8"/>
<line x1="103.6" y1="1852.47" x2="1204" y2="1852.47" stroke="#EBEBEB" stroke-width="1.8"/>
<line x1="103.6" y1="1791.96" x2="1204" y2="1791.96" stroke="#EBEBEB" stroke-width="1.8"/>
<line x1="103.6" y1="1731.45" x2="1204" y2="1731.45" stroke="#EBEBEB" stroke-width="1.8"/>
<line x1="174.7" y1="1706.1" x2="174.7" y2="1985.2" stroke="#EBEBEB" stroke-width="1.8"/>
<line x1="294.5" y1="1706.1" x2="294.5" y2="1985.2" stroke="#EBEBEB" stroke-width="1.8"/>
<line x1="414.3" y1="1706.1" x2="414.3" y2="1985.2" stroke="#EBEBEB" stroke-width="1.8"/>
<line x1="534.1" y1="1706.1" x2="534.1" y2="1985.2" stroke="#EBEBEB" stroke-width="1.8"/>
<line x1="653.9" y1="1706.1" x2="653.9" y2="1985.2" stroke="#EBEBEB" stroke-width="1.8"/>
<line x1="773.7" y1="1706.1" x2="773.7" y2="1985.2" stroke="#EBEBEB" stroke-width="1.8"/>
<line x1="893.5" y1="1706.1" x2="893.5" y2="1985.2" stroke="#EBEBEB" stroke-width="1.8"/>
<line x1="1013.3" y1="1706.1" x2="1013.3" y2="1985.2" stroke="#EBEBEB" stroke-width="1.8"/>
<line x1="1133.1" y1="1706.1" x2="1133.1" y2="1985.2" stroke="#EBEBEB" stroke-width="1.8"/>
<path d="M152.9,1973.5 C152.72,1971.84 152.82,1967.44 151.8,1963.54 C150.78,1959.63 148.3,1954.56 146.8,1950.08 C145.3,1945.59 143.7,1941.1 142.8,1936.61 C141.9,1932.13 141.7,1927.64 141.4,1923.15 C141.1,1918.66 141.1,1914.18 141,1909.69 C140.9,1905.2 140.88,1900.71 140.8,1896.23 C140.72,1891.74 140.62,1887.25 140.5,1882.76 C140.38,1878.28 140.28,1873.79 140.1,1869.3 C139.92,1864.82 139.7,1860.33 139.4,1855.84 C139.1,1851.35 138.68,1846.87 138.3,1842.38 C137.92,1837.89 137.53,1833.4 137.1,1828.92 C136.67,1824.43 135.98,1819.94 135.7,1815.45 C135.42,1810.97 135.5,1806.48 135.4,1801.99 C135.3,1797.5 135.15,1793.02 135.1,1788.53 C135.05,1784.04 135.02,1779.55 135.1,1775.07 C135.18,1770.58 135.38,1766.09 135.6,1761.61 C135.82,1757.12 136.15,1752.63 136.4,1748.14 C136.65,1743.66 136.98,1737.46 137.1,1734.68 C137.22,1731.9 137.1,1731.99 137.1,1731.45 L132.3,1731.45 C132.3,1731.99 132.18,1731.9 132.3,1734.68 C132.42,1737.46 132.75,1743.66 133,1748.14 C133.25,1752.63 133.58,1757.12 133.8,1761.61 C134.02,1766.09 134.22,1770.58 134.3,1775.07 C134.38,1779.55 134.35,1784.04 134.3,1788.53 C134.25,1793.02 134.1,1797.5 134,1801.99 C133.9,1806.48 133.98,1810.97 133.7,1815.45 C133.42,1819.94 132.73,1824.43 132.3,1828.92 C131.87,1833.4 131.48,1837.89 131.1,1842.38 C130.72,1846.87 130.3,1851.35 130,1855.84 C129.7,1860.33 129.48,1864.82 129.3,1869.3 C129.12,1873.79 129.02,1878.28 128.9,1882.76 C128.78,1887.25 128.68,1891.74 128.6,1896.23 C128.52,1900.71 128.5,1905.2 128.4,1909.69 C128.3,1914.18 128.3,1918.66 128,1923.15 C127.7,1927.64 127.5,1932.13 126.6,1936.61 C125.7,1941.1 124.1,1945.59 122.6,1950.08 C121.1,1954.56 118.62,1959.63 117.6,1963.54 C116.58,1967.44 116.68,1971.84 116.5,1973.5Z" fill="#BF812D" stroke="#333333" stroke-width="1.1" stroke-linejoin="round"/>
<line x1="134.7" y1="1812.76" x2="134.7" y2="1973.5" stroke="#000" stroke-width="1.4"/>
<rect x="132.3" y="1892.86" width="4.8" height="80.64" fill="#BF812D" stroke="#000" stroke-width="1.3"/>
<line x1="132.3" y1="1973.5" x2="137.1" y2="1973.5" stroke="#000" stroke-width="2.2"/>
<path d="M187.5,1973.5 C187.53,1971.84 187.53,1967.44 187.7,1963.54 C187.87,1959.63 188.08,1954.56 188.5,1950.08 C188.92,1945.59 189.75,1941.1 190.2,1936.61 C190.65,1932.13 190.87,1927.64 191.2,1923.15 C191.53,1918.66 191.95,1914.18 192.2,1909.69 C192.45,1905.2 192.55,1900.71 192.7,1896.23 C192.85,1891.74 193.03,1887.25 193.1,1882.76 C193.17,1878.28 193.23,1873.79 193.1,1869.3 C192.97,1864.82 192.7,1860.33 192.3,1855.84 C191.9,1851.35 191.45,1846.87 190.7,1842.38 C189.95,1837.89 188.88,1833.4 187.8,1828.92 C186.72,1824.43 185.43,1819.94 184.2,1815.45 C182.97,1810.97 181.53,1806.48 180.4,1801.99 C179.27,1797.5 178.17,1793.02 177.4,1788.53 C176.63,1784.04 176.13,1779.55 175.8,1775.07 C175.47,1770.58 175.32,1766.09 175.4,1761.61 C175.48,1757.12 175.85,1752.63 176.3,1748.14 C176.75,1743.66 177.8,1737.46 178.1,1734.68 C178.4,1731.9 178.1,1731.99 178.1,1731.45 L171.3,1731.45 C171.3,1731.99 171,1731.9 171.3,1734.68 C171.6,1737.46 172.65,1743.66 173.1,1748.14 C173.55,1752.63 173.92,1757.12 174,1761.61 C174.08,1766.09 173.93,1770.58 173.6,1775.07 C173.27,1779.55 172.77,1784.04 172,1788.53 C171.23,1793.02 170.13,1797.5 169,1801.99 C167.87,1806.48 166.43,1810.97 165.2,1815.45 C163.97,1819.94 162.68,1824.43 161.6,1828.92 C160.52,1833.4 159.45,1837.89 158.7,1842.38 C157.95,1846.87 157.5,1851.35 157.1,1855.84 C156.7,1860.33 156.43,1864.82 156.3,1869.3 C156.17,1873.79 156.23,1878.28 156.3,1882.76 C156.37,1887.25 156.55,1891.74 156.7,1896.23 C156.85,1900.71 156.95,1905.2 157.2,1909.69 C157.45,1914.18 157.87,1918.66 158.2,1923.15 C158.53,1927.64 158.75,1932.13 159.2,1936.61 C159.65,1941.1 160.48,1945.59 160.9,1950.08 C161.32,1954.56 161.53,1959.63 161.7,1963.54 C161.87,1967.44 161.87,1971.84 161.9,1973.5Z" fill="#FFFFFF" stroke="#333333" stroke-width="1.1" stroke-linejoin="round"/>
<line x1="174.7" y1="1731.45" x2="174.7" y2="1973.5" stroke="#000" stroke-width="1.4"/>
<rect x="172.3" y="1852.47" width="4.8" height="81.45" fill="#FFFFFF" stroke="#000" stroke-width="1.3"/>
<line x1="172.3" y1="1892.46" x2="177.1" y2="1892.46" stroke="#000" stroke-width="2.2"/>
<path d="M225.9,1973.5 C225.8,1971.84 225.62,1967.44 225.3,1963.54 C224.98,1959.63 224.23,1954.56 224,1950.08 C223.77,1945.59 223.55,1941.1 223.9,1936.61 C224.25,1932.13 225.12,1927.64 226.1,1923.15 C227.08,1918.66 228.8,1914.18 229.8,1909.69 C230.8,1905.2 231.62,1900.71 232.1,1896.23 C232.58,1891.74 232.8,1887.25 232.7,1882.76 C232.6,1878.28 232.12,1873.79 231.5,1869.3 C230.88,1864.82 229.98,1860.33 229,1855.84 C228.02,1851.35 226.93,1846.87 225.6,1842.38 C224.27,1837.89 222.32,1833.4 221,1828.92 C219.68,1824.43 218.55,1819.94 217.7,1815.45 C216.85,1810.97 216.32,1806.48 215.9,1801.99 C215.48,1797.5 215.32,1793.02 215.2,1788.53 C215.08,1784.04 215.15,1779.55 215.2,1775.07 C215.25,1770.58 215.38,1766.09 215.5,1761.61 C215.62,1757.12 215.73,1752.63 215.9,1748.14 C216.07,1743.66 216.4,1737.46 216.5,1734.68 C216.6,1731.9 216.5,1731.99 216.5,1731.45 L212.9,1731.45 C212.9,1731.99 212.8,1731.9 212.9,1734.68 C213,1737.46 213.33,1743.66 213.5,1748.14 C213.67,1752.63 213.78,1757.12 213.9,1761.61 C214.02,1766.09 214.15,1770.58 214.2,1775.07 C214.25,1779.55 214.32,1784.04 214.2,1788.53 C214.08,1793.02 213.92,1797.5 213.5,1801.99 C213.08,1806.48 212.55,1810.97 211.7,1815.45 C210.85,1819.94 209.72,1824.43 208.4,1828.92 C207.08,1833.4 205.13,1837.89 203.8,1842.38 C202.47,1846.87 201.38,1851.35 200.4,1855.84 C199.42,1860.33 198.52,1864.82 197.9,1869.3 C197.28,1873.79 196.8,1878.28 196.7,1882.76 C196.6,1887.25 196.82,1891.74 197.3,1896.23 C197.78,1900.71 198.6,1905.2 199.6,1909.69 C200.6,1914.18 202.32,1918.66 203.3,1923.15 C204.28,1927.64 205.15,1932.13 205.5,1936.61 C205.85,1941.1 205.63,1945.59 205.4,1950.08 C205.17,1954.56 204.42,1959.63 204.1,1963.54 C203.78,1967.44 203.6,1971.84 203.5,1973.5Z" fill="#35978F" stroke="#333333" stroke-width="1.1" stroke-linejoin="round"/>
<line x1="214.7" y1="1812.76" x2="214.7" y2="1973.5" stroke="#000" stroke-width="1.4"/>
<rect x="212.3" y="1865.94" width="4.8" height="72.02" fill="#35978F" stroke="#000" stroke-width="1.3"/>
<line x1="212.3" y1="1892.19" x2="217.1" y2="1892.19" stroke="#000" stroke-width="2.2"/>
<path d="M272.8,1973.5 C272.62,1971.84 272.73,1967.44 271.7,1963.54 C270.67,1959.63 268.02,1954.56 266.6,1950.08 C265.18,1945.59 263.98,1941.1 263.2,1936.61 C262.42,1932.13 262.17,1927.64 261.9,1923.15 C261.63,1918.66 261.65,1914.18 261.6,1909.69 C261.55,1905.2 261.67,1900.71 261.6,1896.23 C261.53,1891.74 261.37,1887.25 261.2,1882.76 C261.03,1878.28 260.92,1873.79 260.6,1869.3 C260.28,1864.82 259.7,1860.33 259.3,1855.84 C258.9,1851.35 258.6,1846.87 258.2,1842.38 C257.8,1837.89 257.3,1833.4 256.9,1828.92 C256.5,1824.43 256.05,1819.94 255.8,1815.45 C255.55,1810.97 255.55,1806.48 255.4,1801.99 C255.25,1797.5 255,1800.29 254.9,1788.53 C254.8,1776.77 254.82,1740.96 254.8,1731.45 L254.2,1731.45 C254.18,1740.96 254.2,1776.77 254.1,1788.53 C254,1800.29 253.75,1797.5 253.6,1801.99 C253.45,1806.48 253.45,1810.97 253.2,1815.45 C252.95,1819.94 252.5,1824.43 252.1,1828.92 C251.7,1833.4 251.2,1837.89 250.8,1842.38 C250.4,1846.87 250.1,1851.35 249.7,1855.84 C249.3,1860.33 248.72,1864.82 248.4,1869.3 C248.08,1873.79 247.97,1878.28 247.8,1882.76 C247.63,1887.25 247.47,1891.74 247.4,1896.23 C247.33,1900.71 247.45,1905.2 247.4,1909.69 C247.35,1914.18 247.37,1918.66 247.1,1923.15 C246.83,1927.64 246.58,1932.13 245.8,1936.61 C245.02,1941.1 243.82,1945.59 242.4,1950.08 C240.98,1954.56 238.33,1959.63 237.3,1963.54 C236.27,1967.44 236.38,1971.84 236.2,1973.5Z" fill="#BF812D" stroke="#333333" stroke-width="1.1" stroke-linejoin="round"/>
<line x1="254.5" y1="1812.76" x2="254.5" y2="1973.5" stroke="#000" stroke-width="1.4"/>
<rect x="252.1" y="1892.86" width="4.8" height="80.64" fill="#BF812D" stroke="#000" stroke-width="1.3"/>
<line x1="252.1" y1="1973.5" x2="256.9" y2="1973.5" stroke="#000" stroke-width="2.2"/>
<path d="M309.8,1973.5 C309.63,1971.84 309.5,1967.44 308.8,1963.54 C308.1,1959.63 306.47,1954.56 305.6,1950.08 C304.73,1945.59 303.82,1941.1 303.6,1936.61 C303.38,1932.13 303.75,1927.64 304.3,1923.15 C304.85,1918.66 305.9,1914.18 306.9,1909.69 C307.9,1905.2 309.4,1900.71 310.3,1896.23 C311.2,1891.74 311.87,1887.25 312.3,1882.76 C312.73,1878.28 312.9,1873.79 312.9,1869.3 C312.9,1864.82 312.73,1860.33 312.3,1855.84 C311.87,1851.35 311.15,1846.87 310.3,1842.38 C309.45,1837.89 308.38,1833.4 307.2,1828.92 C306.02,1824.43 304.55,1819.94 303.2,1815.45 C301.85,1810.97 300.22,1806.48 299.1,1801.99 C297.98,1797.5 297.05,1793.02 296.5,1788.53 C295.95,1784.04 295.85,1779.55 295.8,1775.07 C295.75,1770.58 295.97,1766.09 296.2,1761.61 C296.43,1757.12 296.92,1752.63 297.2,1748.14 C297.48,1743.66 297.78,1737.46 297.9,1734.68 C298.02,1731.9 297.9,1731.99 297.9,1731.45 L291.1,1731.45 C291.1,1731.99 290.98,1731.9 291.1,1734.68 C291.22,1737.46 291.52,1743.66 291.8,1748.14 C292.08,1752.63 292.57,1757.12 292.8,1761.61 C293.03,1766.09 293.25,1770.58 293.2,1775.07 C293.15,1779.55 293.05,1784.04 292.5,1788.53 C291.95,1793.02 291.02,1797.5 289.9,1801.99 C288.78,1806.48 287.15,1810.97 285.8,1815.45 C284.45,1819.94 282.98,1824.43 281.8,1828.92 C280.62,1833.4 279.55,1837.89 278.7,1842.38 C277.85,1846.87 277.13,1851.35 276.7,1855.84 C276.27,1860.33 276.1,1864.82 276.1,1869.3 C276.1,1873.79 276.27,1878.28 276.7,1882.76 C277.13,1887.25 277.8,1891.74 278.7,1896.23 C279.6,1900.71 281.1,1905.2 282.1,1909.69 C283.1,1914.18 284.15,1918.66 284.7,1923.15 C285.25,1927.64 285.62,1932.13 285.4,1936.61 C285.18,1941.1 284.27,1945.59 283.4,1950.08 C282.53,1954.56 280.9,1959.63 280.2,1963.54 C279.5,1967.44 279.37,1971.84 279.2,1973.5Z" fill="#FFFFFF" stroke="#333333" stroke-width="1.1" stroke-linejoin="round"/>
<line x1="294.5" y1="1731.45" x2="294.5" y2="1973.5" stroke="#000" stroke-width="1.4"/>
<rect x="292.1" y="1852.47" width="4.8" height="121.03" fill="#FFFFFF" stroke="#000" stroke-width="1.3"/>
<line x1="292.1" y1="1882.09" x2="296.9" y2="1882.09" stroke="#000" stroke-width="2.2"/>
<path d="M343.6,1973.5 C343.37,1971.84 343.1,1967.44 342.2,1963.54 C341.3,1959.63 339.02,1953.44 338.2,1950.08 C337.38,1946.71 337.27,1945.59 337.3,1943.34 C337.33,1941.1 337.55,1939.98 338.4,1936.61 C339.25,1933.25 340.98,1927.64 342.4,1923.15 C343.82,1918.66 345.35,1914.18 346.9,1909.69 C348.45,1905.2 350.73,1900.71 351.7,1896.23 C352.67,1891.74 352.65,1887.25 352.7,1882.76 C352.75,1878.28 352.07,1873.79 352,1869.3 C351.93,1864.82 352.47,1860.33 352.3,1855.84 C352.13,1851.35 352.33,1846.87 351,1842.38 C349.67,1837.89 345.9,1833.4 344.3,1828.92 C342.7,1824.43 342.38,1819.94 341.4,1815.45 C340.42,1810.97 339.35,1806.48 338.4,1801.99 C337.45,1797.5 336.27,1793.02 335.7,1788.53 C335.13,1784.04 335,1779.55 335,1775.07 C335,1770.58 334.95,1766.09 335.7,1761.61 C336.45,1757.12 338.28,1752.63 339.5,1748.14 C340.72,1743.66 342.3,1737.46 343,1734.68 C343.7,1731.9 343.58,1731.99 343.7,1731.45 L325.3,1731.45 C325.42,1731.99 325.3,1731.9 326,1734.68 C326.7,1737.46 328.28,1743.66 329.5,1748.14 C330.72,1752.63 332.55,1757.12 333.3,1761.61 C334.05,1766.09 334,1770.58 334,1775.07 C334,1779.55 333.87,1784.04 333.3,1788.53 C332.73,1793.02 331.55,1797.5 330.6,1801.99 C329.65,1806.48 328.58,1810.97 327.6,1815.45 C326.62,1819.94 326.3,1824.43 324.7,1828.92 C323.1,1833.4 319.33,1837.89 318,1842.38 C316.67,1846.87 316.87,1851.35 316.7,1855.84 C316.53,1860.33 317.07,1864.82 317,1869.3 C316.93,1873.79 316.25,1878.28 316.3,1882.76 C316.35,1887.25 316.33,1891.74 317.3,1896.23 C318.27,1900.71 320.55,1905.2 322.1,1909.69 C323.65,1914.18 325.18,1918.66 326.6,1923.15 C328.02,1927.64 329.75,1933.25 330.6,1936.61 C331.45,1939.98 331.67,1941.1 331.7,1943.34 C331.73,1945.59 331.62,1946.71 330.8,1950.08 C329.98,1953.44 327.7,1959.63 326.8,1963.54 C325.9,1967.44 325.63,1971.84 325.4,1973.5Z" fill="#35978F" stroke="#333333" stroke-width="1.1" stroke-linejoin="round"/>
<line x1="334.5" y1="1812.76" x2="334.5" y2="1973.5" stroke="#000" stroke-width="1.4"/>
<rect x="332.1" y="1852.47" width="4.8" height="49.81" fill="#35978F" stroke="#000" stroke-width="1.3"/>
<line x1="332.1" y1="1876.3" x2="336.9" y2="1876.3" stroke="#000" stroke-width="2.2"/>
<path d="M392.7,1973.5 C391.93,1971.84 389.77,1966.32 388.1,1963.54 C386.43,1960.76 384.27,1959.05 382.7,1956.81 C381.13,1954.56 379.7,1952.32 378.7,1950.08 C377.7,1947.83 377.22,1945.59 376.7,1943.34 C376.18,1941.1 375.85,1939.98 375.6,1936.61 C375.35,1933.25 375.25,1927.64 375.2,1923.15 C375.15,1918.66 375.08,1914.18 375.3,1909.69 C375.52,1905.2 376.13,1900.71 376.5,1896.23 C376.87,1891.74 377.42,1887.25 377.5,1882.76 C377.58,1878.28 377.25,1873.79 377,1869.3 C376.75,1864.82 376.28,1860.33 376,1855.84 C375.72,1851.35 375.5,1845.74 375.3,1842.38 C375.1,1839.01 374.92,1837.89 374.8,1835.65 C374.68,1833.4 374.62,1832.91 374.6,1828.92 C374.57,1824.92 374.64,1814.56 374.65,1811.68 L373.95,1811.68 C373.96,1814.56 374.02,1824.92 374,1828.92 C373.97,1832.91 373.92,1833.4 373.8,1835.65 C373.68,1837.89 373.5,1839.01 373.3,1842.38 C373.1,1845.74 372.88,1851.35 372.6,1855.84 C372.32,1860.33 371.85,1864.82 371.6,1869.3 C371.35,1873.79 371.02,1878.28 371.1,1882.76 C371.18,1887.25 371.73,1891.74 372.1,1896.23 C372.47,1900.71 373.08,1905.2 373.3,1909.69 C373.52,1914.18 373.45,1918.66 373.4,1923.15 C373.35,1927.64 373.25,1933.25 373,1936.61 C372.75,1939.98 372.42,1941.1 371.9,1943.34 C371.38,1945.59 370.9,1947.83 369.9,1950.08 C368.9,1952.32 367.47,1954.56 365.9,1956.81 C364.33,1959.05 362.17,1960.76 360.5,1963.54 C358.83,1966.32 356.67,1971.84 355.9,1973.5Z" fill="#BF812D" stroke="#333333" stroke-width="1.1" stroke-linejoin="round"/>
<line x1="374.3" y1="1876.71" x2="374.3" y2="1973.5" stroke="#000" stroke-width="1.4"/>
<rect x="371.9" y="1933.25" width="4.8" height="40.25" fill="#BF812D" stroke="#000" stroke-width="1.3"/>
<line x1="371.9" y1="1973.5" x2="376.7" y2="1973.5" stroke="#000" stroke-width="2.2"/>
<path d="M432.3,1973.5 C432.17,1971.84 432.25,1967.44 431.5,1963.54 C430.75,1959.63 428.97,1954.56 427.8,1950.08 C426.63,1945.59 424.9,1941.1 424.5,1936.61 C424.1,1932.13 424.97,1927.64 425.4,1923.15 C425.83,1918.66 426.53,1914.18 427.1,1909.69 C427.67,1905.2 428.32,1900.71 428.8,1896.23 C429.28,1891.74 429.7,1887.25 430,1882.76 C430.3,1878.28 430.63,1873.79 430.6,1869.3 C430.57,1864.82 430.38,1860.33 429.8,1855.84 C429.22,1851.35 428.23,1846.87 427.1,1842.38 C425.97,1837.89 424.27,1833.4 423,1828.92 C421.73,1824.43 420.55,1819.94 419.5,1815.45 C418.45,1810.97 417.4,1806.48 416.7,1801.99 C416,1797.5 415.6,1793.02 415.3,1788.53 C415,1784.04 414.9,1779.55 414.9,1775.07 C414.9,1770.58 415.12,1766.09 415.3,1761.61 C415.48,1757.12 415.73,1752.63 416,1748.14 C416.27,1743.66 416.75,1737.46 416.9,1734.68 C417.05,1731.9 416.9,1731.99 416.9,1731.45 L411.7,1731.45 C411.7,1731.99 411.55,1731.9 411.7,1734.68 C411.85,1737.46 412.33,1743.66 412.6,1748.14 C412.87,1752.63 413.12,1757.12 413.3,1761.61 C413.48,1766.09 413.7,1770.58 413.7,1775.07 C413.7,1779.55 413.6,1784.04 413.3,1788.53 C413,1793.02 412.6,1797.5 411.9,1801.99 C411.2,1806.48 410.15,1810.97 409.1,1815.45 C408.05,1819.94 406.87,1824.43 405.6,1828.92 C404.33,1833.4 402.63,1837.89 401.5,1842.38 C400.37,1846.87 399.38,1851.35 398.8,1855.84 C398.22,1860.33 398.03,1864.82 398,1869.3 C397.97,1873.79 398.3,1878.28 398.6,1882.76 C398.9,1887.25 399.32,1891.74 399.8,1896.23 C400.28,1900.71 400.93,1905.2 401.5,1909.69 C402.07,1914.18 402.77,1918.66 403.2,1923.15 C403.63,1927.64 404.5,1932.13 404.1,1936.61 C403.7,1941.1 401.97,1945.59 400.8,1950.08 C399.63,1954.56 397.85,1959.63 397.1,1963.54 C396.35,1967.44 396.43,1971.84 396.3,1973.5Z" fill="#FFFFFF" stroke="#333333" stroke-width="1.1" stroke-linejoin="round"/>
<line x1="414.3" y1="1731.45" x2="414.3" y2="1973.5" stroke="#000" stroke-width="1.4"/>
<rect x="411.9" y="1852.47" width="4.8" height="121.03" fill="#FFFFFF" stroke="#000" stroke-width="1.3"/>
<line x1="411.9" y1="1900.94" x2="416.7" y2="1900.94" stroke="#000" stroke-width="2.2"/>
<path d="M464.4,1973.5 C464.23,1971.84 463.85,1967.44 463.4,1963.54 C462.95,1959.63 462.07,1954.56 461.7,1950.08 C461.33,1945.59 461,1941.1 461.2,1936.61 C461.4,1932.13 462.12,1927.64 462.9,1923.15 C463.68,1918.66 464.98,1914.18 465.9,1909.69 C466.82,1905.2 467.7,1900.71 468.4,1896.23 C469.1,1891.74 469.57,1887.25 470.1,1882.76 C470.63,1878.28 471.2,1873.79 471.6,1869.3 C472,1864.82 472.55,1860.33 472.5,1855.84 C472.45,1851.35 472.32,1846.87 471.3,1842.38 C470.28,1837.89 467.88,1833.4 466.4,1828.92 C464.92,1824.43 463.63,1819.94 462.4,1815.45 C461.17,1810.97 459.98,1806.48 459,1801.99 C458.02,1797.5 457.2,1793.02 456.5,1788.53 C455.8,1784.04 455.03,1779.55 454.8,1775.07 C454.57,1770.58 454.93,1766.09 455.1,1761.61 C455.27,1757.12 455.53,1752.63 455.8,1748.14 C456.07,1743.66 456.55,1737.46 456.7,1734.68 C456.85,1731.9 456.7,1731.99 456.7,1731.45 L451.9,1731.45 C451.9,1731.99 451.75,1731.9 451.9,1734.68 C452.05,1737.46 452.53,1743.66 452.8,1748.14 C453.07,1752.63 453.33,1757.12 453.5,1761.61 C453.67,1766.09 454.03,1770.58 453.8,1775.07 C453.57,1779.55 452.8,1784.04 452.1,1788.53 C451.4,1793.02 450.58,1797.5 449.6,1801.99 C448.62,1806.48 447.43,1810.97 446.2,1815.45 C444.97,1819.94 443.68,1824.43 442.2,1828.92 C440.72,1833.4 438.32,1837.89 437.3,1842.38 C436.28,1846.87 436.15,1851.35 436.1,1855.84 C436.05,1860.33 436.6,1864.82 437,1869.3 C437.4,1873.79 437.97,1878.28 438.5,1882.76 C439.03,1887.25 439.5,1891.74 440.2,1896.23 C440.9,1900.71 441.78,1905.2 442.7,1909.69 C443.62,1914.18 444.92,1918.66 445.7,1923.15 C446.48,1927.64 447.2,1932.13 447.4,1936.61 C447.6,1941.1 447.27,1945.59 446.9,1950.08 C446.53,1954.56 445.65,1959.63 445.2,1963.54 C444.75,1967.44 444.37,1971.84 444.2,1973.5Z" fill="#35978F" stroke="#333333" stroke-width="1.1" stroke-linejoin="round"/>
<line x1="454.3" y1="1812.76" x2="454.3" y2="1973.5" stroke="#000" stroke-width="1.4"/>
<rect x="451.9" y="1852.47" width="4.8" height="66.64" fill="#35978F" stroke="#000" stroke-width="1.3"/>
<line x1="451.9" y1="1873.34" x2="456.7" y2="1873.34" stroke="#000" stroke-width="2.2"/>
<path d="M512.6,1973.5 C512.42,1971.84 512.23,1967.44 511.5,1963.54 C510.77,1959.63 509.3,1954.56 508.2,1950.08 C507.1,1945.59 505.8,1941.1 504.9,1936.61 C504,1932.13 503.32,1927.64 502.8,1923.15 C502.28,1918.66 501.98,1914.18 501.8,1909.69 C501.62,1905.2 501.67,1900.71 501.7,1896.23 C501.73,1891.74 501.88,1887.25 502,1882.76 C502.12,1878.28 502.32,1873.79 502.4,1869.3 C502.48,1864.82 502.48,1860.33 502.5,1855.84 C502.52,1851.35 502.62,1846.87 502.5,1842.38 C502.38,1837.89 502.08,1833.4 501.8,1828.92 C501.52,1824.43 501.25,1819.94 500.8,1815.45 C500.35,1810.97 499.62,1806.48 499.1,1801.99 C498.58,1797.5 498.1,1793.02 497.7,1788.53 C497.3,1784.04 496.8,1779.55 496.7,1775.07 C496.6,1770.58 496.98,1766.09 497.1,1761.61 C497.22,1757.12 497.35,1752.63 497.4,1748.14 C497.45,1743.66 497.4,1737.46 497.4,1734.68 C497.4,1731.9 497.4,1731.99 497.4,1731.45 L490.8,1731.45 C490.8,1731.99 490.8,1731.9 490.8,1734.68 C490.8,1737.46 490.75,1743.66 490.8,1748.14 C490.85,1752.63 490.98,1757.12 491.1,1761.61 C491.22,1766.09 491.6,1770.58 491.5,1775.07 C491.4,1779.55 490.9,1784.04 490.5,1788.53 C490.1,1793.02 489.62,1797.5 489.1,1801.99 C488.58,1806.48 487.85,1810.97 487.4,1815.45 C486.95,1819.94 486.68,1824.43 486.4,1828.92 C486.12,1833.4 485.82,1837.89 485.7,1842.38 C485.58,1846.87 485.68,1851.35 485.7,1855.84 C485.72,1860.33 485.72,1864.82 485.8,1869.3 C485.88,1873.79 486.08,1878.28 486.2,1882.76 C486.32,1887.25 486.47,1891.74 486.5,1896.23 C486.53,1900.71 486.58,1905.2 486.4,1909.69 C486.22,1914.18 485.92,1918.66 485.4,1923.15 C484.88,1927.64 484.2,1932.13 483.3,1936.61 C482.4,1941.1 481.1,1945.59 480,1950.08 C478.9,1954.56 477.43,1959.63 476.7,1963.54 C475.97,1967.44 475.78,1971.84 475.6,1973.5Z" fill="#BF812D" stroke="#333333" stroke-width="1.1" stroke-linejoin="round"/>
<line x1="494.1" y1="1731.45" x2="494.1" y2="1973.5" stroke="#000" stroke-width="1.4"/>
<rect x="491.7" y="1852.47" width="4.8" height="121.03" fill="#BF812D" stroke="#000" stroke-width="1.3"/>
<line x1="491.7" y1="1973.5" x2="496.5" y2="1973.5" stroke="#000" stroke-width="2.2"/>
<path d="M538.1,1973.5 C538.22,1971.84 538.57,1967.44 538.8,1963.54 C539.03,1959.63 539.27,1954.56 539.5,1950.08 C539.73,1945.59 539.95,1941.1 540.2,1936.61 C540.45,1932.13 540.72,1927.64 541,1923.15 C541.28,1918.66 541.6,1914.18 541.9,1909.69 C542.2,1905.2 542.5,1900.71 542.8,1896.23 C543.1,1891.74 543.38,1887.25 543.7,1882.76 C544.02,1878.28 544.4,1873.79 544.7,1869.3 C545,1864.82 545.25,1860.33 545.5,1855.84 C545.75,1851.35 546,1846.87 546.2,1842.38 C546.4,1837.89 546.58,1833.4 546.7,1828.92 C546.82,1824.43 547,1819.94 546.9,1815.45 C546.8,1810.97 546.38,1806.48 546.1,1801.99 C545.82,1797.5 545.1,1793.02 545.2,1788.53 C545.3,1784.04 546.08,1779.55 546.7,1775.07 C547.32,1770.58 548.25,1766.09 548.9,1761.61 C549.55,1757.12 550.1,1752.63 550.6,1748.14 C551.1,1743.66 551.58,1737.46 551.9,1734.68 C552.22,1731.9 552.4,1731.99 552.5,1731.45 L515.7,1731.45 C515.8,1731.99 515.98,1731.9 516.3,1734.68 C516.62,1737.46 517.1,1743.66 517.6,1748.14 C518.1,1752.63 518.65,1757.12 519.3,1761.61 C519.95,1766.09 520.88,1770.58 521.5,1775.07 C522.12,1779.55 522.9,1784.04 523,1788.53 C523.1,1793.02 522.38,1797.5 522.1,1801.99 C521.82,1806.48 521.4,1810.97 521.3,1815.45 C521.2,1819.94 521.38,1824.43 521.5,1828.92 C521.62,1833.4 521.8,1837.89 522,1842.38 C522.2,1846.87 522.45,1851.35 522.7,1855.84 C522.95,1860.33 523.2,1864.82 523.5,1869.3 C523.8,1873.79 524.18,1878.28 524.5,1882.76 C524.82,1887.25 525.1,1891.74 525.4,1896.23 C525.7,1900.71 526,1905.2 526.3,1909.69 C526.6,1914.18 526.92,1918.66 527.2,1923.15 C527.48,1927.64 527.75,1932.13 528,1936.61 C528.25,1941.1 528.47,1945.59 528.7,1950.08 C528.93,1954.56 529.17,1959.63 529.4,1963.54 C529.63,1967.44 529.98,1971.84 530.1,1973.5Z" fill="#FFFFFF" stroke="#333333" stroke-width="1.1" stroke-linejoin="round"/>
<line x1="534.1" y1="1731.45" x2="534.1" y2="1973.5" stroke="#000" stroke-width="1.4"/>
<rect x="531.7" y="1731.45" width="4.8" height="121.02" fill="#FFFFFF" stroke="#000" stroke-width="1.3"/>
<line x1="531.7" y1="1811.68" x2="536.5" y2="1811.68" stroke="#000" stroke-width="2.2"/>
<path d="M580.6,1973.5 C580.6,1971.84 580.53,1967.44 580.6,1963.54 C580.67,1959.63 580.77,1954.56 581,1950.08 C581.23,1945.59 581.58,1941.1 582,1936.61 C582.42,1932.13 582.92,1927.64 583.5,1923.15 C584.08,1918.66 584.82,1914.18 585.5,1909.69 C586.18,1905.2 586.95,1900.71 587.6,1896.23 C588.25,1891.74 588.82,1887.25 589.4,1882.76 C589.98,1878.28 590.73,1873.79 591.1,1869.3 C591.47,1864.82 591.52,1860.33 591.6,1855.84 C591.68,1851.35 591.72,1846.87 591.6,1842.38 C591.48,1837.89 591.35,1833.4 590.9,1828.92 C590.45,1824.43 589.55,1819.94 588.9,1815.45 C588.25,1810.97 587.57,1806.48 587,1801.99 C586.43,1797.5 585.7,1793.02 585.5,1788.53 C585.3,1784.04 585.45,1779.55 585.8,1775.07 C586.15,1770.58 586.93,1766.09 587.6,1761.61 C588.27,1757.12 589.13,1752.63 589.8,1748.14 C590.47,1743.66 591.23,1737.46 591.6,1734.68 C591.97,1731.9 591.93,1731.99 592,1731.45 L556.2,1731.45 C556.27,1731.99 556.23,1731.9 556.6,1734.68 C556.97,1737.46 557.73,1743.66 558.4,1748.14 C559.07,1752.63 559.93,1757.12 560.6,1761.61 C561.27,1766.09 562.05,1770.58 562.4,1775.07 C562.75,1779.55 562.9,1784.04 562.7,1788.53 C562.5,1793.02 561.77,1797.5 561.2,1801.99 C560.63,1806.48 559.95,1810.97 559.3,1815.45 C558.65,1819.94 557.75,1824.43 557.3,1828.92 C556.85,1833.4 556.72,1837.89 556.6,1842.38 C556.48,1846.87 556.52,1851.35 556.6,1855.84 C556.68,1860.33 556.73,1864.82 557.1,1869.3 C557.47,1873.79 558.22,1878.28 558.8,1882.76 C559.38,1887.25 559.95,1891.74 560.6,1896.23 C561.25,1900.71 562.02,1905.2 562.7,1909.69 C563.38,1914.18 564.12,1918.66 564.7,1923.15 C565.28,1927.64 565.78,1932.13 566.2,1936.61 C566.62,1941.1 566.97,1945.59 567.2,1950.08 C567.43,1954.56 567.53,1959.63 567.6,1963.54 C567.67,1967.44 567.6,1971.84 567.6,1973.5Z" fill="#35978F" stroke="#333333" stroke-width="1.1" stroke-linejoin="round"/>
<line x1="574.1" y1="1731.45" x2="574.1" y2="1973.5" stroke="#000" stroke-width="1.4"/>
<rect x="571.7" y="1731.45" width="4.8" height="121.02" fill="#35978F" stroke="#000" stroke-width="1.3"/>
<line x1="571.7" y1="1828.24" x2="576.5" y2="1828.24" stroke="#000" stroke-width="2.2"/>
<path d="M631.9,1973.5 C631.52,1971.84 631.05,1967.44 629.6,1963.54 C628.15,1959.63 624.95,1953.44 623.2,1950.08 C621.45,1946.71 620.12,1945.59 619.1,1943.34 C618.08,1941.1 617.6,1939.98 617.1,1936.61 C616.6,1933.25 616.22,1927.64 616.1,1923.15 C615.98,1918.66 616.23,1914.18 616.4,1909.69 C616.57,1905.2 616.98,1900.71 617.1,1896.23 C617.22,1891.74 617.22,1887.25 617.1,1882.76 C616.98,1878.28 616.68,1873.79 616.4,1869.3 C616.12,1864.82 615.67,1860.33 615.4,1855.84 C615.13,1851.35 614.97,1846.87 614.8,1842.38 C614.63,1837.89 614.47,1837.89 614.4,1828.92 C614.33,1819.94 614.37,1799.75 614.4,1788.53 C614.43,1777.31 614.5,1770.58 614.6,1761.61 C614.7,1752.63 614.93,1739.71 615,1734.68 C615.07,1729.66 615,1731.99 615,1731.45 L612.8,1731.45 C612.8,1731.99 612.73,1729.66 612.8,1734.68 C612.87,1739.71 613.1,1752.63 613.2,1761.61 C613.3,1770.58 613.37,1777.31 613.4,1788.53 C613.43,1799.75 613.47,1819.94 613.4,1828.92 C613.33,1837.89 613.17,1837.89 613,1842.38 C612.83,1846.87 612.67,1851.35 612.4,1855.84 C612.13,1860.33 611.68,1864.82 611.4,1869.3 C611.12,1873.79 610.82,1878.28 610.7,1882.76 C610.58,1887.25 610.58,1891.74 610.7,1896.23 C610.82,1900.71 611.23,1905.2 611.4,1909.69 C611.57,1914.18 611.82,1918.66 611.7,1923.15 C611.58,1927.64 611.2,1933.25 610.7,1936.61 C610.2,1939.98 609.72,1941.1 608.7,1943.34 C607.68,1945.59 606.35,1946.71 604.6,1950.08 C602.85,1953.44 599.65,1959.63 598.2,1963.54 C596.75,1967.44 596.28,1971.84 595.9,1973.5Z" fill="#BF812D" stroke="#333333" stroke-width="1.1" stroke-linejoin="round"/>
<line x1="613.9" y1="1882.76" x2="613.9" y2="1973.5" stroke="#000" stroke-width="1.4"/>
<rect x="611.5" y="1933.25" width="4.8" height="40.25" fill="#BF812D" stroke="#000" stroke-width="1.3"/>
<line x1="611.5" y1="1973.5" x2="616.3" y2="1973.5" stroke="#000" stroke-width="2.2"/>
<path d="M671.4,1973.5 C671.52,1969.6 672.1,1958.47 672.1,1950.08 C672.1,1941.68 672,1932.13 671.4,1923.15 C670.8,1914.18 669.37,1905.2 668.5,1896.23 C667.63,1887.25 666.75,1876.03 666.2,1869.3 C665.65,1862.57 665.48,1860.33 665.2,1855.84 C664.92,1851.35 664.68,1846.87 664.5,1842.38 C664.32,1837.89 664.07,1833.4 664.1,1828.92 C664.13,1824.43 664.52,1819.94 664.7,1815.45 C664.88,1810.97 664.95,1806.48 665.2,1801.99 C665.45,1797.5 665.87,1793.02 666.2,1788.53 C666.53,1784.04 666.9,1779.55 667.2,1775.07 C667.5,1770.58 667.78,1766.09 668,1761.61 C668.22,1757.12 668.35,1752.63 668.5,1748.14 C668.65,1743.66 668.83,1737.46 668.9,1734.68 C668.97,1731.9 668.9,1731.99 668.9,1731.45 L638.9,1731.45 C638.9,1731.99 638.83,1731.9 638.9,1734.68 C638.97,1737.46 639.15,1743.66 639.3,1748.14 C639.45,1752.63 639.58,1757.12 639.8,1761.61 C640.02,1766.09 640.3,1770.58 640.6,1775.07 C640.9,1779.55 641.27,1784.04 641.6,1788.53 C641.93,1793.02 642.35,1797.5 642.6,1801.99 C642.85,1806.48 642.92,1810.97 643.1,1815.45 C643.28,1819.94 643.67,1824.43 643.7,1828.92 C643.73,1833.4 643.48,1837.89 643.3,1842.38 C643.12,1846.87 642.88,1851.35 642.6,1855.84 C642.32,1860.33 642.15,1862.57 641.6,1869.3 C641.05,1876.03 640.17,1887.25 639.3,1896.23 C638.43,1905.2 637,1914.18 636.4,1923.15 C635.8,1932.13 635.7,1941.68 635.7,1950.08 C635.7,1958.47 636.28,1969.6 636.4,1973.5Z" fill="#FFFFFF" stroke="#333333" stroke-width="1.1" stroke-linejoin="round"/>
<line x1="653.9" y1="1731.45" x2="653.9" y2="1973.5" stroke="#000" stroke-width="1.4"/>
<rect x="651.5" y="1731.45" width="4.8" height="242.05" fill="#FFFFFF" stroke="#000" stroke-width="1.3"/>
<line x1="651.5" y1="1852.47" x2="656.3" y2="1852.47" stroke="#000" stroke-width="2.2"/>
<path d="M711.7,1973.5 C711.6,1969.6 711.68,1958.47 711.1,1950.08 C710.52,1941.68 709.1,1932.13 708.2,1923.15 C707.3,1914.18 706.55,1905.2 705.7,1896.23 C704.85,1887.25 703.68,1876.03 703.1,1869.3 C702.52,1862.57 702.42,1860.33 702.2,1855.84 C701.98,1851.35 701.8,1846.87 701.8,1842.38 C701.8,1837.89 702.03,1833.4 702.2,1828.92 C702.37,1824.43 702.52,1822.19 702.8,1815.45 C703.08,1808.72 703.45,1797.5 703.9,1788.53 C704.35,1779.55 705.05,1768.34 705.5,1761.61 C705.95,1754.87 706.32,1752.63 706.6,1748.14 C706.88,1743.66 707.1,1737.46 707.2,1734.68 C707.3,1731.9 707.2,1731.99 707.2,1731.45 L680.6,1731.45 C680.6,1731.99 680.5,1731.9 680.6,1734.68 C680.7,1737.46 680.92,1743.66 681.2,1748.14 C681.48,1752.63 681.85,1754.87 682.3,1761.61 C682.75,1768.34 683.45,1779.55 683.9,1788.53 C684.35,1797.5 684.72,1808.72 685,1815.45 C685.28,1822.19 685.43,1824.43 685.6,1828.92 C685.77,1833.4 686,1837.89 686,1842.38 C686,1846.87 685.82,1851.35 685.6,1855.84 C685.38,1860.33 685.28,1862.57 684.7,1869.3 C684.12,1876.03 682.95,1887.25 682.1,1896.23 C681.25,1905.2 680.5,1914.18 679.6,1923.15 C678.7,1932.13 677.28,1941.68 676.7,1950.08 C676.12,1958.47 676.2,1969.6 676.1,1973.5Z" fill="#35978F" stroke="#333333" stroke-width="1.1" stroke-linejoin="round"/>
<line x1="693.9" y1="1731.45" x2="693.9" y2="1973.5" stroke="#000" stroke-width="1.4"/>
<rect x="691.5" y="1731.45" width="4.8" height="242.05" fill="#35978F" stroke="#000" stroke-width="1.3"/>
<line x1="691.5" y1="1886.8" x2="696.3" y2="1886.8" stroke="#000" stroke-width="2.2"/>
<path d="M751.9,1973.5 C751.5,1971.84 750.68,1967.44 749.5,1963.54 C748.32,1959.63 746.42,1954.56 744.8,1950.08 C743.18,1945.59 741.08,1941.1 739.8,1936.61 C738.52,1932.13 737.67,1926.52 737.1,1923.15 C736.53,1919.79 736.35,1918.66 736.4,1916.42 C736.45,1914.18 736.9,1913.05 737.4,1909.69 C737.9,1906.32 738.97,1899.59 739.4,1896.23 C739.83,1892.86 739.97,1891.74 740,1889.5 C740.03,1887.25 739.7,1884.85 739.6,1882.76 C739.5,1880.68 739.43,1877.94 739.4,1876.98 L728,1876.98 C727.97,1877.94 727.9,1880.68 727.8,1882.76 C727.7,1884.85 727.37,1887.25 727.4,1889.5 C727.43,1891.74 727.57,1892.86 728,1896.23 C728.43,1899.59 729.5,1906.32 730,1909.69 C730.5,1913.05 730.95,1914.18 731,1916.42 C731.05,1918.66 730.87,1919.79 730.3,1923.15 C729.73,1926.52 728.88,1932.13 727.6,1936.61 C726.32,1941.1 724.22,1945.59 722.6,1950.08 C720.98,1954.56 719.08,1959.63 717.9,1963.54 C716.72,1967.44 715.9,1971.84 715.5,1973.5Z" fill="#BF812D" stroke="#333333" stroke-width="1.1" stroke-linejoin="round"/>
<line x1="733.7" y1="1876.98" x2="733.7" y2="1973.5" stroke="#000" stroke-width="1.4"/>
<rect x="731.3" y="1911.71" width="4.8" height="61.79" fill="#BF812D" stroke="#000" stroke-width="1.3"/>
<line x1="731.3" y1="1973.5" x2="736.1" y2="1973.5" stroke="#000" stroke-width="2.2"/>
<path d="M792,1973.5 C791.6,1971.84 791.02,1967.44 789.6,1963.54 C788.18,1959.63 785.32,1954.56 783.5,1950.08 C781.68,1945.59 779.72,1941.1 778.7,1936.61 C777.68,1932.13 777.65,1927.64 777.4,1923.15 C777.15,1918.66 777.05,1914.18 777.2,1909.69 C777.35,1905.2 778.02,1900.71 778.3,1896.23 C778.58,1891.74 778.8,1887.25 778.9,1882.76 C779,1878.28 778.93,1873.79 778.9,1869.3 C778.87,1864.82 778.73,1858.65 778.7,1855.84 C778.67,1853.04 778.7,1853.04 778.7,1852.47 L768.7,1852.47 C768.7,1853.04 768.73,1853.04 768.7,1855.84 C768.67,1858.65 768.53,1864.82 768.5,1869.3 C768.47,1873.79 768.4,1878.28 768.5,1882.76 C768.6,1887.25 768.82,1891.74 769.1,1896.23 C769.38,1900.71 770.05,1905.2 770.2,1909.69 C770.35,1914.18 770.25,1918.66 770,1923.15 C769.75,1927.64 769.72,1932.13 768.7,1936.61 C767.68,1941.1 765.72,1945.59 763.9,1950.08 C762.08,1954.56 759.22,1959.63 757.8,1963.54 C756.38,1967.44 755.8,1971.84 755.4,1973.5Z" fill="#FFFFFF" stroke="#333333" stroke-width="1.1" stroke-linejoin="round"/>
<line x1="773.7" y1="1852.47" x2="773.7" y2="1973.5" stroke="#000" stroke-width="1.4"/>
<rect x="771.3" y="1892.86" width="4.8" height="80.64" fill="#FFFFFF" stroke="#000" stroke-width="1.3"/>
<line x1="771.3" y1="1973.5" x2="776.1" y2="1973.5" stroke="#000" stroke-width="2.2"/>
<path d="M824.6,1973.5 C824.65,1971.84 824.78,1967.44 824.9,1963.54 C825.02,1959.63 825.07,1954.56 825.3,1950.08 C825.53,1945.59 825.82,1941.1 826.3,1936.61 C826.78,1932.13 827.68,1927.64 828.2,1923.15 C828.72,1918.66 828.98,1914.18 829.4,1909.69 C829.82,1905.2 830.32,1900.71 830.7,1896.23 C831.08,1891.74 831.48,1887.25 831.7,1882.76 C831.92,1878.28 832.03,1873.79 832,1869.3 C831.97,1864.82 831.92,1860.33 831.5,1855.84 C831.08,1851.35 830.28,1846.87 829.5,1842.38 C828.72,1837.89 827.8,1833.4 826.8,1828.92 C825.8,1824.43 824.62,1819.94 823.5,1815.45 C822.38,1810.97 821.2,1806.48 820.1,1801.99 C819,1797.5 817.72,1793.02 816.9,1788.53 C816.08,1784.04 815.58,1779.55 815.2,1775.07 C814.82,1770.58 814.7,1766.09 814.6,1761.61 C814.5,1757.12 814.55,1752.63 814.6,1748.14 C814.65,1743.66 814.85,1737.46 814.9,1734.68 C814.95,1731.9 814.9,1731.99 814.9,1731.45 L812.5,1731.45 C812.5,1731.99 812.45,1731.9 812.5,1734.68 C812.55,1737.46 812.75,1743.66 812.8,1748.14 C812.85,1752.63 812.9,1757.12 812.8,1761.61 C812.7,1766.09 812.58,1770.58 812.2,1775.07 C811.82,1779.55 811.32,1784.04 810.5,1788.53 C809.68,1793.02 808.4,1797.5 807.3,1801.99 C806.2,1806.48 805.02,1810.97 803.9,1815.45 C802.78,1819.94 801.6,1824.43 800.6,1828.92 C799.6,1833.4 798.68,1837.89 797.9,1842.38 C797.12,1846.87 796.32,1851.35 795.9,1855.84 C795.48,1860.33 795.43,1864.82 795.4,1869.3 C795.37,1873.79 795.48,1878.28 795.7,1882.76 C795.92,1887.25 796.32,1891.74 796.7,1896.23 C797.08,1900.71 797.58,1905.2 798,1909.69 C798.42,1914.18 798.68,1918.66 799.2,1923.15 C799.72,1927.64 800.62,1932.13 801.1,1936.61 C801.58,1941.1 801.87,1945.59 802.1,1950.08 C802.33,1954.56 802.38,1959.63 802.5,1963.54 C802.62,1967.44 802.75,1971.84 802.8,1973.5Z" fill="#35978F" stroke="#333333" stroke-width="1.1" stroke-linejoin="round"/>
<line x1="813.7" y1="1731.45" x2="813.7" y2="1973.5" stroke="#000" stroke-width="1.4"/>
<rect x="811.3" y="1852.47" width="4.8" height="86.16" fill="#35978F" stroke="#000" stroke-width="1.3"/>
<line x1="811.3" y1="1880.07" x2="816.1" y2="1880.07" stroke="#000" stroke-width="2.2"/>
<path d="M871.7,1973.5 C870.8,1971.84 868.32,1966.32 866.3,1963.54 C864.28,1960.76 861.17,1959.05 859.6,1956.81 C858.03,1954.56 857.58,1953.44 856.9,1950.08 C856.22,1946.71 855.78,1941.1 855.5,1936.61 C855.22,1932.13 855.32,1927.64 855.2,1923.15 C855.08,1918.66 854.95,1914.18 854.8,1909.69 C854.65,1905.2 854.43,1900.71 854.3,1896.23 C854.17,1891.74 853.95,1887.25 854,1882.76 C854.05,1878.28 854.4,1873.79 854.6,1869.3 C854.8,1864.82 855.1,1858.65 855.2,1855.84 C855.3,1853.04 855.2,1853.04 855.2,1852.47 L851.8,1852.47 C851.8,1853.04 851.7,1853.04 851.8,1855.84 C851.9,1858.65 852.2,1864.82 852.4,1869.3 C852.6,1873.79 852.95,1878.28 853,1882.76 C853.05,1887.25 852.83,1891.74 852.7,1896.23 C852.57,1900.71 852.35,1905.2 852.2,1909.69 C852.05,1914.18 851.92,1918.66 851.8,1923.15 C851.68,1927.64 851.78,1932.13 851.5,1936.61 C851.22,1941.1 850.78,1946.71 850.1,1950.08 C849.42,1953.44 848.97,1954.56 847.4,1956.81 C845.83,1959.05 842.72,1960.76 840.7,1963.54 C838.68,1966.32 836.2,1971.84 835.3,1973.5Z" fill="#BF812D" stroke="#333333" stroke-width="1.1" stroke-linejoin="round"/>
<line x1="853.5" y1="1905.65" x2="853.5" y2="1973.5" stroke="#000" stroke-width="1.4"/>
<rect x="851.1" y="1943.34" width="4.8" height="30.16" fill="#BF812D" stroke="#000" stroke-width="1.3"/>
<line x1="851.1" y1="1973.5" x2="855.9" y2="1973.5" stroke="#000" stroke-width="2.2"/>
<path d="M911.5,1973.5 C911.33,1971.84 910.87,1967.44 910.5,1963.54 C910.13,1959.63 909.78,1954.56 909.3,1950.08 C908.82,1945.59 908.1,1941.1 907.6,1936.61 C907.1,1932.13 906.88,1927.64 906.3,1923.15 C905.72,1918.66 904.78,1914.18 904.1,1909.69 C903.42,1905.2 902.23,1900.71 902.2,1896.23 C902.17,1891.74 903.5,1887.25 903.9,1882.76 C904.3,1878.28 904.67,1873.79 904.6,1869.3 C904.53,1864.82 904.28,1860.33 903.5,1855.84 C902.72,1851.35 901.07,1846.87 899.9,1842.38 C898.73,1837.89 897.35,1832.28 896.5,1828.92 C895.65,1825.55 895.15,1824.43 894.8,1822.19 C894.45,1819.94 894.47,1817.2 894.4,1815.45 C894.33,1813.7 894.4,1812.31 894.4,1811.68 L892.6,1811.68 C892.6,1812.31 892.67,1813.7 892.6,1815.45 C892.53,1817.2 892.55,1819.94 892.2,1822.19 C891.85,1824.43 891.35,1825.55 890.5,1828.92 C889.65,1832.28 888.27,1837.89 887.1,1842.38 C885.93,1846.87 884.28,1851.35 883.5,1855.84 C882.72,1860.33 882.47,1864.82 882.4,1869.3 C882.33,1873.79 882.7,1878.28 883.1,1882.76 C883.5,1887.25 884.83,1891.74 884.8,1896.23 C884.77,1900.71 883.58,1905.2 882.9,1909.69 C882.22,1914.18 881.28,1918.66 880.7,1923.15 C880.12,1927.64 879.9,1932.13 879.4,1936.61 C878.9,1941.1 878.18,1945.59 877.7,1950.08 C877.22,1954.56 876.87,1959.63 876.5,1963.54 C876.13,1967.44 875.67,1971.84 875.5,1973.5Z" fill="#FFFFFF" stroke="#333333" stroke-width="1.1" stroke-linejoin="round"/>
<line x1="893.5" y1="1811.68" x2="893.5" y2="1973.5" stroke="#000" stroke-width="1.4"/>
<rect x="891.1" y="1882.76" width="4.8" height="90.74" fill="#FFFFFF" stroke="#000" stroke-width="1.3"/>
<line x1="891.1" y1="1933.25" x2="895.9" y2="1933.25" stroke="#000" stroke-width="2.2"/>
<path d="M950,1973.5 C949.57,1971.84 948.63,1967.44 947.4,1963.54 C946.17,1959.63 943.52,1953.44 942.6,1950.08 C941.68,1946.71 941.78,1945.59 941.9,1943.34 C942.02,1941.1 942.4,1939.98 943.3,1936.61 C944.2,1933.25 946.03,1927.64 947.3,1923.15 C948.57,1918.66 950.2,1913.05 950.9,1909.69 C951.6,1906.32 951.6,1905.2 951.5,1902.96 C951.4,1900.71 951.27,1899.59 950.3,1896.23 C949.33,1892.86 947.18,1887.25 945.7,1882.76 C944.22,1878.28 942.6,1873.79 941.4,1869.3 C940.2,1864.82 939.45,1860.33 938.5,1855.84 C937.55,1851.35 936.33,1845.74 935.7,1842.38 C935.07,1839.01 934.93,1838 934.7,1835.65 C934.47,1833.29 934.37,1829.48 934.3,1828.24 L932.7,1828.24 C932.63,1829.48 932.53,1833.29 932.3,1835.65 C932.07,1838 931.93,1839.01 931.3,1842.38 C930.67,1845.74 929.45,1851.35 928.5,1855.84 C927.55,1860.33 926.8,1864.82 925.6,1869.3 C924.4,1873.79 922.78,1878.28 921.3,1882.76 C919.82,1887.25 917.67,1892.86 916.7,1896.23 C915.73,1899.59 915.6,1900.71 915.5,1902.96 C915.4,1905.2 915.4,1906.32 916.1,1909.69 C916.8,1913.05 918.43,1918.66 919.7,1923.15 C920.97,1927.64 922.8,1933.25 923.7,1936.61 C924.6,1939.98 924.98,1941.1 925.1,1943.34 C925.22,1945.59 925.32,1946.71 924.4,1950.08 C923.48,1953.44 920.83,1959.63 919.6,1963.54 C918.37,1967.44 917.43,1971.84 917,1973.5Z" fill="#35978F" stroke="#333333" stroke-width="1.1" stroke-linejoin="round"/>
<line x1="933.5" y1="1828.24" x2="933.5" y2="1973.5" stroke="#000" stroke-width="1.4"/>
<rect x="931.1" y="1898.92" width="4.8" height="74.58" fill="#35978F" stroke="#000" stroke-width="1.3"/>
<line x1="931.1" y1="1919.11" x2="935.9" y2="1919.11" stroke="#000" stroke-width="2.2"/>
<path d="M991.5,1973.5 C990.82,1971.84 989.08,1966.32 987.4,1963.54 C985.72,1960.76 983.18,1959.05 981.4,1956.81 C979.62,1954.56 977.83,1953.44 976.7,1950.08 C975.57,1946.71 975.03,1941.1 974.6,1936.61 C974.17,1932.13 974.23,1927.64 974.1,1923.15 C973.97,1918.66 973.87,1921.47 973.8,1909.69 C973.73,1897.91 973.72,1862.01 973.7,1852.47 L972.9,1852.47 C972.88,1862.01 972.87,1897.91 972.8,1909.69 C972.73,1921.47 972.63,1918.66 972.5,1923.15 C972.37,1927.64 972.43,1932.13 972,1936.61 C971.57,1941.1 971.03,1946.71 969.9,1950.08 C968.77,1953.44 966.98,1954.56 965.2,1956.81 C963.42,1959.05 960.88,1960.76 959.2,1963.54 C957.52,1966.32 955.78,1971.84 955.1,1973.5Z" fill="#BF812D" stroke="#333333" stroke-width="1.1" stroke-linejoin="round"/>
<rect x="970.7" y="1972.1" width="5.2" height="2.8" fill="#000" stroke="none" stroke-width="0" rx="1.2"/>
<path d="M1031.5,1973.5 C1031.1,1971.84 1030.4,1967.44 1029.1,1963.54 C1027.8,1959.63 1025.05,1954.56 1023.7,1950.08 C1022.35,1945.59 1021.45,1941.1 1021,1936.61 C1020.55,1932.13 1021.02,1929.88 1021,1923.15 C1020.98,1916.42 1020.98,1902.96 1020.9,1896.23 C1020.82,1889.5 1020.62,1887.25 1020.5,1882.76 C1020.38,1878.28 1020.42,1873.79 1020.2,1869.3 C1019.98,1864.82 1019.68,1860.33 1019.2,1855.84 C1018.72,1851.35 1017.78,1845.74 1017.3,1842.38 C1016.82,1839.01 1016.57,1838 1016.3,1835.65 C1016.03,1833.29 1015.8,1829.48 1015.7,1828.24 L1010.9,1828.24 C1010.8,1829.48 1010.57,1833.29 1010.3,1835.65 C1010.03,1838 1009.78,1839.01 1009.3,1842.38 C1008.82,1845.74 1007.88,1851.35 1007.4,1855.84 C1006.92,1860.33 1006.62,1864.82 1006.4,1869.3 C1006.18,1873.79 1006.22,1878.28 1006.1,1882.76 C1005.98,1887.25 1005.78,1889.5 1005.7,1896.23 C1005.62,1902.96 1005.62,1916.42 1005.6,1923.15 C1005.58,1929.88 1006.05,1932.13 1005.6,1936.61 C1005.15,1941.1 1004.25,1945.59 1002.9,1950.08 C1001.55,1954.56 998.8,1959.63 997.5,1963.54 C996.2,1967.44 995.5,1971.84 995.1,1973.5Z" fill="#FFFFFF" stroke="#333333" stroke-width="1.1" stroke-linejoin="round"/>
<line x1="1013.3" y1="1828.24" x2="1013.3" y2="1973.5" stroke="#000" stroke-width="1.4"/>
<rect x="1010.9" y="1892.86" width="4.8" height="80.64" fill="#FFFFFF" stroke="#000" stroke-width="1.3"/>
<line x1="1010.9" y1="1973.5" x2="1015.7" y2="1973.5" stroke="#000" stroke-width="2.2"/>
<path d="M1067.2,1973.5 C1066.98,1971.84 1066.85,1967.44 1065.9,1963.54 C1064.95,1959.63 1062.53,1953.44 1061.5,1950.08 C1060.47,1946.71 1059.65,1945.59 1059.7,1943.34 C1059.75,1941.1 1060.65,1939.98 1061.8,1936.61 C1062.95,1933.25 1065.15,1927.64 1066.6,1923.15 C1068.05,1918.66 1069.75,1914.18 1070.5,1909.69 C1071.25,1905.2 1071.25,1900.71 1071.1,1896.23 C1070.95,1891.74 1070.75,1887.25 1069.6,1882.76 C1068.45,1878.28 1065.77,1873.79 1064.2,1869.3 C1062.63,1864.82 1061.45,1860.33 1060.2,1855.84 C1058.95,1851.35 1057.65,1846.87 1056.7,1842.38 C1055.75,1837.89 1054.92,1833.4 1054.5,1828.92 C1054.08,1824.43 1054.32,1822.19 1054.2,1815.45 C1054.08,1808.72 1053.87,1802.53 1053.8,1788.53 C1053.73,1774.53 1053.8,1740.96 1053.8,1731.45 L1052.8,1731.45 C1052.8,1740.96 1052.87,1774.53 1052.8,1788.53 C1052.73,1802.53 1052.52,1808.72 1052.4,1815.45 C1052.28,1822.19 1052.52,1824.43 1052.1,1828.92 C1051.68,1833.4 1050.85,1837.89 1049.9,1842.38 C1048.95,1846.87 1047.65,1851.35 1046.4,1855.84 C1045.15,1860.33 1043.97,1864.82 1042.4,1869.3 C1040.83,1873.79 1038.15,1878.28 1037,1882.76 C1035.85,1887.25 1035.65,1891.74 1035.5,1896.23 C1035.35,1900.71 1035.35,1905.2 1036.1,1909.69 C1036.85,1914.18 1038.55,1918.66 1040,1923.15 C1041.45,1927.64 1043.65,1933.25 1044.8,1936.61 C1045.95,1939.98 1046.85,1941.1 1046.9,1943.34 C1046.95,1945.59 1046.13,1946.71 1045.1,1950.08 C1044.07,1953.44 1041.65,1959.63 1040.7,1963.54 C1039.75,1967.44 1039.62,1971.84 1039.4,1973.5Z" fill="#35978F" stroke="#333333" stroke-width="1.1" stroke-linejoin="round"/>
<line x1="1053.3" y1="1731.45" x2="1053.3" y2="1973.5" stroke="#000" stroke-width="1.4"/>
<rect x="1050.9" y="1892.86" width="4.8" height="61.25" fill="#35978F" stroke="#000" stroke-width="1.3"/>
<line x1="1050.9" y1="1915.75" x2="1055.7" y2="1915.75" stroke="#000" stroke-width="2.2"/>
<path d="M1111.1,1973.5 C1110.73,1971.84 1110.08,1967.44 1108.9,1963.54 C1107.72,1959.63 1105.62,1954.56 1104,1950.08 C1102.38,1945.59 1100.45,1941.1 1099.2,1936.61 C1097.95,1932.13 1097.12,1927.64 1096.5,1923.15 C1095.88,1918.66 1095.78,1914.18 1095.5,1909.69 C1095.22,1905.2 1094.98,1900.71 1094.8,1896.23 C1094.62,1891.74 1094.53,1887.25 1094.4,1882.76 C1094.27,1878.28 1094.13,1873.79 1094,1869.3 C1093.87,1864.82 1093.68,1878.82 1093.6,1855.84 C1093.52,1832.87 1093.52,1752.18 1093.5,1731.45 L1092.7,1731.45 C1092.68,1752.18 1092.68,1832.87 1092.6,1855.84 C1092.52,1878.82 1092.33,1864.82 1092.2,1869.3 C1092.07,1873.79 1091.93,1878.28 1091.8,1882.76 C1091.67,1887.25 1091.58,1891.74 1091.4,1896.23 C1091.22,1900.71 1090.98,1905.2 1090.7,1909.69 C1090.42,1914.18 1090.32,1918.66 1089.7,1923.15 C1089.08,1927.64 1088.25,1932.13 1087,1936.61 C1085.75,1941.1 1083.82,1945.59 1082.2,1950.08 C1080.58,1954.56 1078.48,1959.63 1077.3,1963.54 C1076.12,1967.44 1075.47,1971.84 1075.1,1973.5Z" fill="#BF812D" stroke="#333333" stroke-width="1.1" stroke-linejoin="round"/>
<rect x="1090.5" y="1972.1" width="5.2" height="2.8" fill="#000" stroke="none" stroke-width="0" rx="1.2"/>
<path d="M1151.4,1973.5 C1151.18,1971.84 1150.72,1967.44 1150.1,1963.54 C1149.48,1959.63 1148.48,1954.56 1147.7,1950.08 C1146.92,1945.59 1146.15,1941.1 1145.4,1936.61 C1144.65,1932.13 1143.73,1927.64 1143.2,1923.15 C1142.67,1918.66 1142.25,1914.18 1142.2,1909.69 C1142.15,1905.2 1142.45,1900.71 1142.9,1896.23 C1143.35,1891.74 1144.47,1887.25 1144.9,1882.76 C1145.33,1878.28 1145.6,1873.79 1145.5,1869.3 C1145.4,1864.82 1144.92,1860.33 1144.3,1855.84 C1143.68,1851.35 1142.68,1846.87 1141.8,1842.38 C1140.92,1837.89 1139.83,1833.4 1139,1828.92 C1138.17,1824.43 1137.45,1819.94 1136.8,1815.45 C1136.15,1810.97 1135.55,1806.48 1135.1,1801.99 C1134.65,1797.5 1134.32,1793.02 1134.1,1788.53 C1133.88,1784.04 1133.8,1779.55 1133.8,1775.07 C1133.8,1770.58 1133.93,1766.09 1134.1,1761.61 C1134.27,1757.12 1134.57,1752.63 1134.8,1748.14 C1135.03,1743.66 1135.38,1737.46 1135.5,1734.68 C1135.62,1731.9 1135.5,1731.99 1135.5,1731.45 L1130.7,1731.45 C1130.7,1731.99 1130.58,1731.9 1130.7,1734.68 C1130.82,1737.46 1131.17,1743.66 1131.4,1748.14 C1131.63,1752.63 1131.93,1757.12 1132.1,1761.61 C1132.27,1766.09 1132.4,1770.58 1132.4,1775.07 C1132.4,1779.55 1132.32,1784.04 1132.1,1788.53 C1131.88,1793.02 1131.55,1797.5 1131.1,1801.99 C1130.65,1806.48 1130.05,1810.97 1129.4,1815.45 C1128.75,1819.94 1128.03,1824.43 1127.2,1828.92 C1126.37,1833.4 1125.28,1837.89 1124.4,1842.38 C1123.52,1846.87 1122.52,1851.35 1121.9,1855.84 C1121.28,1860.33 1120.8,1864.82 1120.7,1869.3 C1120.6,1873.79 1120.87,1878.28 1121.3,1882.76 C1121.73,1887.25 1122.85,1891.74 1123.3,1896.23 C1123.75,1900.71 1124.05,1905.2 1124,1909.69 C1123.95,1914.18 1123.53,1918.66 1123,1923.15 C1122.47,1927.64 1121.55,1932.13 1120.8,1936.61 C1120.05,1941.1 1119.28,1945.59 1118.5,1950.08 C1117.72,1954.56 1116.72,1959.63 1116.1,1963.54 C1115.48,1967.44 1115.02,1971.84 1114.8,1973.5Z" fill="#FFFFFF" stroke="#333333" stroke-width="1.1" stroke-linejoin="round"/>
<line x1="1133.1" y1="1731.45" x2="1133.1" y2="1973.5" stroke="#000" stroke-width="1.4"/>
<rect x="1130.7" y="1852.47" width="4.8" height="121.03" fill="#FFFFFF" stroke="#000" stroke-width="1.3"/>
<line x1="1130.7" y1="1912.38" x2="1135.5" y2="1912.38" stroke="#000" stroke-width="2.2"/>
<path d="M1185,1973.5 C1184.85,1971.84 1184.8,1967.44 1184.1,1963.54 C1183.4,1959.63 1181.52,1953.44 1180.8,1950.08 C1180.08,1946.71 1179.85,1945.59 1179.8,1943.34 C1179.75,1941.1 1179.92,1939.98 1180.5,1936.61 C1181.08,1933.25 1182.15,1927.64 1183.3,1923.15 C1184.45,1918.66 1186.23,1914.18 1187.4,1909.69 C1188.57,1905.2 1189.65,1900.71 1190.3,1896.23 C1190.95,1891.74 1191.13,1887.25 1191.3,1882.76 C1191.47,1878.28 1191.45,1873.79 1191.3,1869.3 C1191.15,1864.82 1190.97,1860.33 1190.4,1855.84 C1189.83,1851.35 1189.35,1846.87 1187.9,1842.38 C1186.45,1837.89 1183.47,1833.4 1181.7,1828.92 C1179.93,1824.43 1178.33,1819.94 1177.3,1815.45 C1176.27,1810.97 1176.03,1806.48 1175.5,1801.99 C1174.97,1797.5 1174.38,1793.02 1174.1,1788.53 C1173.82,1784.04 1173.8,1779.55 1173.8,1775.07 C1173.8,1770.58 1173.6,1766.09 1174.1,1761.61 C1174.6,1757.12 1176.13,1752.63 1176.8,1748.14 C1177.47,1743.66 1177.88,1737.46 1178.1,1734.68 C1178.32,1731.9 1178.1,1731.99 1178.1,1731.45 L1168.1,1731.45 C1168.1,1731.99 1167.88,1731.9 1168.1,1734.68 C1168.32,1737.46 1168.73,1743.66 1169.4,1748.14 C1170.07,1752.63 1171.6,1757.12 1172.1,1761.61 C1172.6,1766.09 1172.4,1770.58 1172.4,1775.07 C1172.4,1779.55 1172.38,1784.04 1172.1,1788.53 C1171.82,1793.02 1171.23,1797.5 1170.7,1801.99 C1170.17,1806.48 1169.93,1810.97 1168.9,1815.45 C1167.87,1819.94 1166.27,1824.43 1164.5,1828.92 C1162.73,1833.4 1159.75,1837.89 1158.3,1842.38 C1156.85,1846.87 1156.37,1851.35 1155.8,1855.84 C1155.23,1860.33 1155.05,1864.82 1154.9,1869.3 C1154.75,1873.79 1154.73,1878.28 1154.9,1882.76 C1155.07,1887.25 1155.25,1891.74 1155.9,1896.23 C1156.55,1900.71 1157.63,1905.2 1158.8,1909.69 C1159.97,1914.18 1161.75,1918.66 1162.9,1923.15 C1164.05,1927.64 1165.12,1933.25 1165.7,1936.61 C1166.28,1939.98 1166.45,1941.1 1166.4,1943.34 C1166.35,1945.59 1166.12,1946.71 1165.4,1950.08 C1164.68,1953.44 1162.8,1959.63 1162.1,1963.54 C1161.4,1967.44 1161.35,1971.84 1161.2,1973.5Z" fill="#35978F" stroke="#333333" stroke-width="1.1" stroke-linejoin="round"/>
<line x1="1173.1" y1="1812.76" x2="1173.1" y2="1973.5" stroke="#000" stroke-width="1.4"/>
<rect x="1170.7" y="1852.47" width="4.8" height="66.64" fill="#35978F" stroke="#000" stroke-width="1.3"/>
<line x1="1170.7" y1="1892.19" x2="1175.5" y2="1892.19" stroke="#000" stroke-width="2.2"/>
<line x1="234.6" y1="1706.1" x2="234.6" y2="1985.2" stroke="#000" stroke-width="1.3" stroke-dasharray="4,4"/>
<line x1="354.4" y1="1706.1" x2="354.4" y2="1985.2" stroke="#000" stroke-width="1.3" stroke-dasharray="4,4"/>
<line x1="474.2" y1="1706.1" x2="474.2" y2="1985.2" stroke="#000" stroke-width="1.3" stroke-dasharray="4,4"/>
<line x1="594" y1="1706.1" x2="594" y2="1985.2" stroke="#000" stroke-width="1.3" stroke-dasharray="4,4"/>
<line x1="713.8" y1="1706.1" x2="713.8" y2="1985.2" stroke="#000" stroke-width="1.3" stroke-dasharray="4,4"/>
<line x1="833.6" y1="1706.1" x2="833.6" y2="1985.2" stroke="#000" stroke-width="1.3" stroke-dasharray="4,4"/>
<line x1="953.4" y1="1706.1" x2="953.4" y2="1985.2" stroke="#000" stroke-width="1.3" stroke-dasharray="4,4"/>
<line x1="1073.2" y1="1706.1" x2="1073.2" y2="1985.2" stroke="#000" stroke-width="1.3" stroke-dasharray="4,4"/>
<text x="174.7" y="1731.6" font-size="24" fill="#000" text-anchor="middle">****</text>
<text x="294.5" y="1731.6" font-size="24" fill="#000" text-anchor="middle">****</text>
<text x="414.3" y="1731.6" font-size="24" fill="#000" text-anchor="middle">****</text>
<text x="534.1" y="1731.6" font-size="24" fill="#000" text-anchor="middle">****</text>
<text x="653.9" y="1733.6" font-size="24" fill="#000" text-anchor="middle">ns</text>
<text x="773.7" y="1731.6" font-size="24" fill="#000" text-anchor="middle">***</text>
<text x="893.5" y="1731.6" font-size="24" fill="#000" text-anchor="middle">****</text>
<text x="1013.3" y="1731.6" font-size="24" fill="#000" text-anchor="middle">****</text>
<text x="1133.1" y="1731.6" font-size="24" fill="#000" text-anchor="middle">****</text>
<rect x="103.6" y="1706.1" width="1100.4" height="279.1" fill="none" stroke="#333333" stroke-width="1.3"/>
<line x1="103.6" y1="1706.1" x2="1204" y2="1706.1" stroke="#1A1A1A" stroke-width="2.2"/>
<line x1="95.4" y1="1973.5" x2="103.6" y2="1973.5" stroke="#333333" stroke-width="1.9"/>
<text x="89.8" y="1982.7" font-size="25.2" fill="#4D4D4D" text-anchor="end">0</text>
<line x1="95.4" y1="1912.99" x2="103.6" y2="1912.99" stroke="#333333" stroke-width="1.9"/>
<text x="89.8" y="1922.19" font-size="25.2" fill="#4D4D4D" text-anchor="end">25</text>
<line x1="95.4" y1="1852.47" x2="103.6" y2="1852.47" stroke="#333333" stroke-width="1.9"/>
<text x="89.8" y="1861.67" font-size="25.2" fill="#4D4D4D" text-anchor="end">50</text>
<line x1="95.4" y1="1791.96" x2="103.6" y2="1791.96" stroke="#333333" stroke-width="1.9"/>
<text x="89.8" y="1801.16" font-size="25.2" fill="#4D4D4D" text-anchor="end">75</text>
<line x1="95.4" y1="1731.45" x2="103.6" y2="1731.45" stroke="#333333" stroke-width="1.9"/>
<text x="89.8" y="1740.65" font-size="25.2" fill="#4D4D4D" text-anchor="end">100</text>
<line x1="174.7" y1="1985.2" x2="174.7" y2="1993" stroke="#333333" stroke-width="1.9"/>
<text x="174.7" y="2013.2" font-size="23.3" fill="#4D4D4D" text-anchor="middle">BRCA</text>
<line x1="294.5" y1="1985.2" x2="294.5" y2="1993" stroke="#333333" stroke-width="1.9"/>
<text x="294.5" y="2013.2" font-size="23.3" fill="#4D4D4D" text-anchor="middle">COAD</text>
<line x1="414.3" y1="1985.2" x2="414.3" y2="1993" stroke="#333333" stroke-width="1.9"/>
<text x="414.3" y="2013.2" font-size="23.3" fill="#4D4D4D" text-anchor="middle">ESCA</text>
<line x1="534.1" y1="1985.2" x2="534.1" y2="1993" stroke="#333333" stroke-width="1.9"/>
<text x="534.1" y="2013.2" font-size="23.3" fill="#4D4D4D" text-anchor="middle">KIRC</text>
<line x1="653.9" y1="1985.2" x2="653.9" y2="1993" stroke="#333333" stroke-width="1.9"/>
<text x="653.9" y="2013.2" font-size="23.3" fill="#4D4D4D" text-anchor="middle">KIRP</text>
<line x1="773.7" y1="1985.2" x2="773.7" y2="1993" stroke="#333333" stroke-width="1.9"/>
<text x="773.7" y="2013.2" font-size="23.3" fill="#4D4D4D" text-anchor="middle">LIHC</text>
<line x1="893.5" y1="1985.2" x2="893.5" y2="1993" stroke="#333333" stroke-width="1.9"/>
<text x="893.5" y="2013.2" font-size="23.3" fill="#4D4D4D" text-anchor="middle">LUAD</text>
<line x1="1013.3" y1="1985.2" x2="1013.3" y2="1993" stroke="#333333" stroke-width="1.9"/>
<text x="1013.3" y="2013.2" font-size="23.3" fill="#4D4D4D" text-anchor="middle">LUSC</text>
<line x1="1133.1" y1="1985.2" x2="1133.1" y2="1993" stroke="#333333" stroke-width="1.9"/>
<text x="1133.1" y="2013.2" font-size="23.3" fill="#4D4D4D" text-anchor="middle">UCEC</text>
<text x="39.9" y="1661.9" font-size="27.5" fill="#000" text-anchor="middle" transform="rotate(-90 39.9 1661.9)">Fraction of ChromHMM segments within DMRs (%)</text>
<text x="23.6" y="1332.8" font-size="34" font-weight="bold" fill="#000" style="font-family:'DejaVu Sans',sans-serif">f</text>
<text x="1250.2" y="1612.6" font-size="16.6" fill="#000">Deregulation</text>
<rect x="1249.7" y="1623" width="45.5" height="45.5" fill="#BF812D" stroke="#555555" stroke-width="1"/>
<line x1="1272.5" y1="1626.6" x2="1272.5" y2="1633.8" stroke="#000" stroke-width="1.5"/>
<line x1="1272.5" y1="1657.2" x2="1272.5" y2="1664.4" stroke="#000" stroke-width="1.5"/>
<rect x="1255.3" y="1633.8" width="34.4" height="23.4" fill="#BF812D" stroke="#000" stroke-width="1.5"/>
<line x1="1255.3" y1="1645.5" x2="1289.7" y2="1645.5" stroke="#000" stroke-width="1.5"/>
<text x="1304.3" y="1651.4" font-size="16.6" fill="#000">−1</text>
<rect x="1249.7" y="1669.8" width="45.5" height="45.5" fill="#FFFFFF" stroke="#555555" stroke-width="1"/>
<line x1="1272.5" y1="1673.4" x2="1272.5" y2="1680.6" stroke="#000" stroke-width="1.5"/>
<line x1="1272.5" y1="1704" x2="1272.5" y2="1711.2" stroke="#000" stroke-width="1.5"/>
<rect x="1255.3" y="1680.6" width="34.4" height="23.4" fill="#FFFFFF" stroke="#000" stroke-width="1.5"/>
<line x1="1255.3" y1="1692.3" x2="1289.7" y2="1692.3" stroke="#000" stroke-width="1.5"/>
<text x="1304.3" y="1698.2" font-size="16.6" fill="#000">0</text>
<rect x="1249.7" y="1716.6" width="45.5" height="45.5" fill="#35978F" stroke="#555555" stroke-width="1"/>
<line x1="1272.5" y1="1720.2" x2="1272.5" y2="1727.4" stroke="#000" stroke-width="1.5"/>
<line x1="1272.5" y1="1750.8" x2="1272.5" y2="1758" stroke="#000" stroke-width="1.5"/>
<rect x="1255.3" y="1727.4" width="34.4" height="23.4" fill="#35978F" stroke="#000" stroke-width="1.5"/>
<line x1="1255.3" y1="1739.1" x2="1289.7" y2="1739.1" stroke="#000" stroke-width="1.5"/>
<text x="1304.3" y="1745" font-size="16.6" fill="#000">1</text>
<rect x="1510.5" y="1861.23" width="70.2" height="31.95" fill="#DB9B85" stroke="none" stroke-width="0"/>
<rect x="1510.5" y="1852.16" width="70.2" height="9.07" fill="#C7A865" stroke="none" stroke-width="0"/>
<rect x="1510.5" y="1590.12" width="70.2" height="262.04" fill="#93B770" stroke="none" stroke-width="0"/>
<rect x="1510.5" y="1582.35" width="70.2" height="7.77" fill="#5EBF94" stroke="none" stroke-width="0"/>
<rect x="1510.5" y="1568.53" width="70.2" height="13.81" fill="#39BDBA" stroke="none" stroke-width="0"/>
<rect x="1510.5" y="1559.04" width="70.2" height="9.5" fill="#6CB2DC" stroke="none" stroke-width="0"/>
<rect x="1510.5" y="1453.27" width="70.2" height="105.77" fill="#ABA3E1" stroke="none" stroke-width="0"/>
<rect x="1510.5" y="1427.37" width="70.2" height="25.9" fill="#D497D3" stroke="none" stroke-width="0"/>
<rect x="1510.5" y="1415.28" width="70.2" height="12.09" fill="#E494AE" stroke="none" stroke-width="0"/>
<rect x="1510.5" y="1313.83" width="70.2" height="101.45" fill="#B3B3B3" stroke="none" stroke-width="0"/>
<rect x="1594.6" y="1834.9" width="70.2" height="58.28" fill="#DB9B85" stroke="none" stroke-width="0"/>
<rect x="1594.6" y="1675.16" width="70.2" height="159.73" fill="#93B770" stroke="none" stroke-width="0"/>
<rect x="1594.6" y="1670.85" width="70.2" height="4.32" fill="#5EBF94" stroke="none" stroke-width="0"/>
<rect x="1594.6" y="1652.72" width="70.2" height="18.13" fill="#39BDBA" stroke="none" stroke-width="0"/>
<rect x="1594.6" y="1641.92" width="70.2" height="10.79" fill="#6CB2DC" stroke="none" stroke-width="0"/>
<rect x="1594.6" y="1460.61" width="70.2" height="181.32" fill="#ABA3E1" stroke="none" stroke-width="0"/>
<rect x="1594.6" y="1444.2" width="70.2" height="16.4" fill="#D497D3" stroke="none" stroke-width="0"/>
<rect x="1594.6" y="1433.41" width="70.2" height="10.79" fill="#E494AE" stroke="none" stroke-width="0"/>
<rect x="1594.6" y="1313.83" width="70.2" height="119.58" fill="#B3B3B3" stroke="none" stroke-width="0"/>
<rect x="1678.8" y="1852.16" width="70.2" height="41.01" fill="#DB9B85" stroke="none" stroke-width="0"/>
<rect x="1678.8" y="1749.85" width="70.2" height="102.31" fill="#93B770" stroke="none" stroke-width="0"/>
<rect x="1678.8" y="1732.58" width="70.2" height="17.27" fill="#39BDBA" stroke="none" stroke-width="0"/>
<rect x="1678.8" y="1708.84" width="70.2" height="23.74" fill="#6CB2DC" stroke="none" stroke-width="0"/>
<rect x="1678.8" y="1463.63" width="70.2" height="245.21" fill="#ABA3E1" stroke="none" stroke-width="0"/>
<rect x="1678.8" y="1452.84" width="70.2" height="10.79" fill="#D497D3" stroke="none" stroke-width="0"/>
<rect x="1678.8" y="1448.95" width="70.2" height="3.89" fill="#E494AE" stroke="none" stroke-width="0"/>
<rect x="1678.8" y="1313.83" width="70.2" height="135.12" fill="#B3B3B3" stroke="none" stroke-width="0"/>
<line x1="1476.7" y1="1893.2" x2="1476.7" y2="1313.8" stroke="#000" stroke-width="1.7"/>
<line x1="1464.2" y1="1893.2" x2="1476.7" y2="1893.2" stroke="#000" stroke-width="1.7"/>
<text x="1457.3" y="1904.1" font-size="30.6" fill="#000" text-anchor="end">0.0</text>
<line x1="1464.2" y1="1777.32" x2="1476.7" y2="1777.32" stroke="#000" stroke-width="1.7"/>
<text x="1457.3" y="1788.22" font-size="30.6" fill="#000" text-anchor="end">0.2</text>
<line x1="1464.2" y1="1661.44" x2="1476.7" y2="1661.44" stroke="#000" stroke-width="1.7"/>
<text x="1457.3" y="1672.34" font-size="30.6" fill="#000" text-anchor="end">0.4</text>
<line x1="1464.2" y1="1545.56" x2="1476.7" y2="1545.56" stroke="#000" stroke-width="1.7"/>
<text x="1457.3" y="1556.46" font-size="30.6" fill="#000" text-anchor="end">0.6</text>
<line x1="1464.2" y1="1429.68" x2="1476.7" y2="1429.68" stroke="#000" stroke-width="1.7"/>
<text x="1457.3" y="1440.58" font-size="30.6" fill="#000" text-anchor="end">0.8</text>
<line x1="1464.2" y1="1313.8" x2="1476.7" y2="1313.8" stroke="#000" stroke-width="1.7"/>
<text x="1457.3" y="1324.7" font-size="30.6" fill="#000" text-anchor="end">1.0</text>
<text x="1554.9" y="1294.6" font-size="29" fill="#000" transform="rotate(-90 1554.9 1294.6)">n=649</text>
<text x="1554.6" y="1911.8" font-size="25.3" fill="#000" text-anchor="end" transform="rotate(-90 1554.6 1911.8)">under</text>
<text x="1639" y="1294.6" font-size="29" fill="#000" transform="rotate(-90 1639 1294.6)">n=703</text>
<text x="1638.7" y="1911.8" font-size="25.3" fill="#000" text-anchor="end" transform="rotate(-90 1638.7 1911.8)">not DE</text>
<text x="1723.2" y="1294.6" font-size="29" fill="#000" transform="rotate(-90 1723.2 1294.6)">n=721</text>
<text x="1722.9" y="1911.8" font-size="25.3" fill="#000" text-anchor="end" transform="rotate(-90 1722.9 1911.8)">over</text>
<rect x="1791" y="1318.2" width="10.6" height="10.6" fill="#DB9B85" stroke="none" stroke-width="0"/>
<text x="1817.8" y="1332.9" font-size="24.6" fill="#000">bHLH</text>
<rect x="1791" y="1347.55" width="10.6" height="10.6" fill="#C7A865" stroke="none" stroke-width="0"/>
<text x="1817.8" y="1362.25" font-size="24.6" fill="#000">bZIP</text>
<rect x="1791" y="1376.9" width="10.6" height="10.6" fill="#93B770" stroke="none" stroke-width="0"/>
<text x="1817.8" y="1391.6" font-size="24.6" fill="#000">C2H2 ZF</text>
<rect x="1791" y="1406.25" width="10.6" height="10.6" fill="#5EBF94" stroke="none" stroke-width="0"/>
<text x="1817.8" y="1420.95" font-size="24.6" fill="#000">Ets</text>
<rect x="1791" y="1435.6" width="10.6" height="10.6" fill="#39BDBA" stroke="none" stroke-width="0"/>
<text x="1817.8" y="1450.3" font-size="24.6" fill="#000">Forkhead</text>
<rect x="1791" y="1464.95" width="10.6" height="10.6" fill="#6CB2DC" stroke="none" stroke-width="0"/>
<text x="1817.8" y="1479.65" font-size="24.6" fill="#000">HMG/Sox</text>
<rect x="1791" y="1494.3" width="10.6" height="10.6" fill="#ABA3E1" stroke="none" stroke-width="0"/>
<text x="1817.8" y="1509" font-size="24.6" fill="#000">Homeodomain</text>
<rect x="1791" y="1523.65" width="10.6" height="10.6" fill="#D497D3" stroke="none" stroke-width="0"/>
<text x="1817.8" y="1538.35" font-size="24.6" fill="#000">Nuclear receptor</text>
<rect x="1791" y="1553" width="10.6" height="10.6" fill="#E494AE" stroke="none" stroke-width="0"/>
<text x="1817.8" y="1567.7" font-size="24.6" fill="#000">Unknown</text>
<rect x="1791" y="1582.35" width="10.6" height="10.6" fill="#B3B3B3" stroke="none" stroke-width="0"/>
<text x="1817.8" y="1597.05" font-size="24.6" fill="#000">Other</text>
<text x="1390.9" y="1643.9" font-size="24.9" fill="#000" text-anchor="middle" transform="rotate(-90 1390.9 1643.9)">Fraction of hyper TFs (pan−cancer events)</text>
<text x="1343.5" y="1333.4" font-size="34" font-weight="bold" fill="#000" style="font-family:'DejaVu Sans',sans-serif">g</text>
</svg>
</body></html>
